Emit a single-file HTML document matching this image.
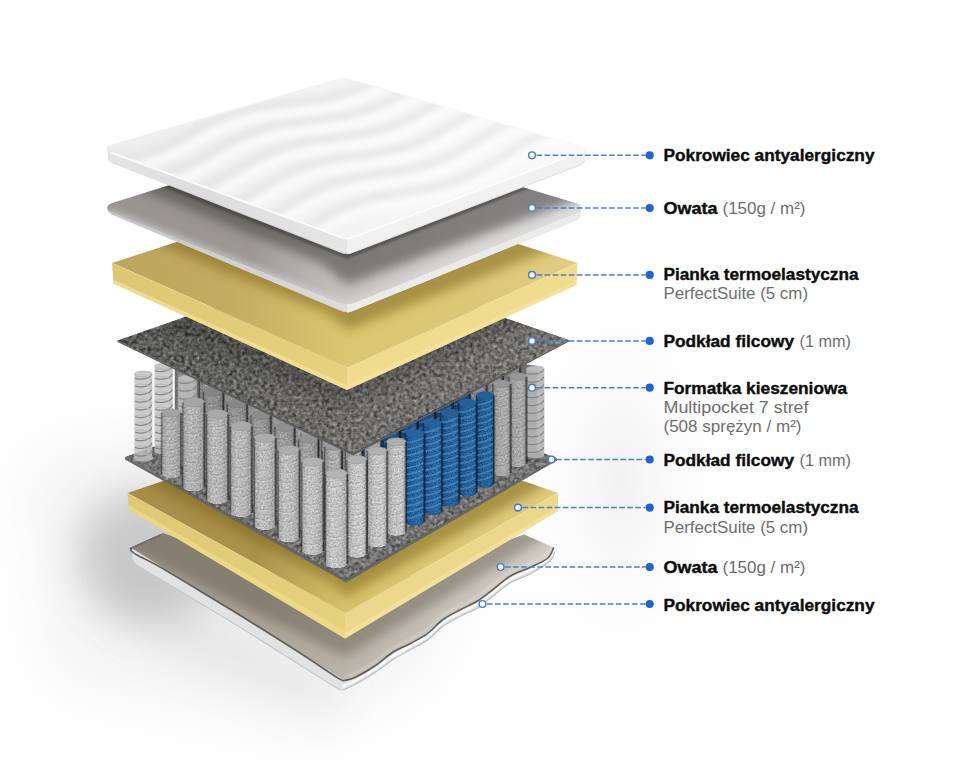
<!DOCTYPE html>
<html lang="pl"><head><meta charset="utf-8"><title>Budowa materaca</title>
<style>
html,body{margin:0;padding:0;background:#fff;}
body{width:960px;height:766px;overflow:hidden;font-family:"Liberation Sans",sans-serif;}
svg{display:block;}
.b{font-family:"Liberation Sans",sans-serif;font-weight:700;fill:#0d0d0d;stroke:#0d0d0d;stroke-width:0.4px;}
.l{font-family:"Liberation Sans",sans-serif;font-weight:400;fill:#6e6e6e;}
</style></head><body>
<svg width="960" height="766" viewBox="0 0 960 766">
<defs>
<filter id="felt" x="0" y="0" width="100%" height="100%" filterUnits="objectBoundingBox" color-interpolation-filters="sRGB">
 <feTurbulence type="fractalNoise" baseFrequency="0.27" numOctaves="2" seed="4" result="n"/>
 <feColorMatrix in="n" type="matrix" values="0.5 0.5 0 0 0  0.5 0.5 0 0 0  0.5 0.5 0 0 0  0 0 0 0 1" result="g0"/>
 <feGaussianBlur in="g0" stdDeviation="0.45" result="g"/>
 <feComposite in="SourceGraphic" in2="g" operator="arithmetic" k1="0" k2="1" k3="0.8" k4="-0.408" result="m"/>
 <feComposite in="m" in2="SourceGraphic" operator="in"/>
</filter>
<filter id="pocket" x="0" y="0" width="100%" height="100%" color-interpolation-filters="sRGB">
 <feTurbulence type="fractalNoise" baseFrequency="0.55" numOctaves="2" seed="9" result="n"/>
 <feColorMatrix in="n" type="matrix" values="0.5 0.5 0 0 0  0.5 0.5 0 0 0  0.5 0.5 0 0 0  0 0 0 0 1" result="g"/>
 <feComposite in="SourceGraphic" in2="g" operator="arithmetic" k1="0" k2="1" k3="0.5" k4="-0.255" result="m"/>
 <feComposite in="m" in2="SourceGraphic" operator="in"/>
</filter>
<filter id="pocketB" x="0" y="0" width="100%" height="100%" color-interpolation-filters="sRGB">
 <feTurbulence type="fractalNoise" baseFrequency="0.8" numOctaves="2" seed="5" result="n"/>
 <feColorMatrix in="n" type="matrix" values="0.5 0.5 0 0 0  0.5 0.5 0 0 0  0.5 0.5 0 0 0  0 0 0 0 1" result="g"/>
 <feComposite in="SourceGraphic" in2="g" operator="arithmetic" k1="0" k2="1" k3="0.45" k4="-0.23" result="m"/>
 <feComposite in="m" in2="SourceGraphic" operator="in"/>
</filter>
<filter id="soft" filterUnits="userSpaceOnUse" x="0" y="0" width="960" height="766"><feGaussianBlur stdDeviation="30"/></filter>
<filter id="soft3" filterUnits="userSpaceOnUse" x="0" y="0" width="960" height="766"><feGaussianBlur stdDeviation="20"/></filter>
<filter id="soft2" filterUnits="userSpaceOnUse" x="0" y="0" width="960" height="766"><feGaussianBlur stdDeviation="6"/></filter>
<filter id="b1" filterUnits="userSpaceOnUse" x="0" y="0" width="960" height="766"><feGaussianBlur stdDeviation="1.2"/></filter>
<filter id="b3" filterUnits="userSpaceOnUse" x="0" y="0" width="960" height="766"><feGaussianBlur stdDeviation="3.5"/></filter>
<filter id="b5" filterUnits="userSpaceOnUse" x="0" y="0" width="960" height="766"><feGaussianBlur stdDeviation="5.5"/></filter>
<filter id="b8" filterUnits="userSpaceOnUse" x="0" y="0" width="960" height="766"><feGaussianBlur stdDeviation="9"/></filter>

<linearGradient id="gSprL" x1="0" x2="1" y1="0" y2="0">
 <stop offset="0" stop-color="#aaaaaa"/><stop offset="0.3" stop-color="#c8c8c8"/><stop offset="0.7" stop-color="#c0c0c0"/><stop offset="1" stop-color="#a0a0a0"/>
</linearGradient>
<linearGradient id="gSprR" x1="0" x2="1" y1="0" y2="0">
 <stop offset="0" stop-color="#a4a4a4"/><stop offset="0.35" stop-color="#c8c8c8"/><stop offset="0.75" stop-color="#cecece"/><stop offset="1" stop-color="#a8a8a8"/>
</linearGradient>
<linearGradient id="gBlue" x1="0" x2="1" y1="0" y2="0">
 <stop offset="0" stop-color="#1a528c"/><stop offset="0.4" stop-color="#2868a6"/><stop offset="0.75" stop-color="#2c6fae"/><stop offset="1" stop-color="#1b568f"/>
</linearGradient>
<linearGradient id="gYTop" gradientUnits="userSpaceOnUse" x1="112" y1="0" x2="578" y2="0"><stop offset="0" stop-color="#bea55e"/><stop offset="0.25" stop-color="#c3ab60"/><stop offset="0.5" stop-color="#dbc670"/><stop offset="0.75" stop-color="#dcc777"/><stop offset="1" stop-color="#e1cc82"/></linearGradient>
<linearGradient id="gYTopL" gradientUnits="userSpaceOnUse" x1="127" y1="0" x2="558" y2="0"><stop offset="0" stop-color="#a68e48"/><stop offset="0.3" stop-color="#aa924b"/><stop offset="0.5" stop-color="#d6c16a"/><stop offset="0.75" stop-color="#dcc776"/><stop offset="1" stop-color="#e1cc80"/></linearGradient>
<linearGradient id="gYL" gradientUnits="userSpaceOnUse" x1="112" y1="0" x2="347" y2="0"><stop offset="0" stop-color="#dcc874"/><stop offset="1" stop-color="#e6d27e"/></linearGradient>
<linearGradient id="gCovL" gradientUnits="userSpaceOnUse" x1="108" y1="0" x2="347" y2="0"><stop offset="0" stop-color="#e4e4e4"/><stop offset="0.4" stop-color="#dddddd"/><stop offset="1" stop-color="#e6e6e6"/></linearGradient>
<linearGradient id="gCov" gradientUnits="userSpaceOnUse" x1="110" y1="0" x2="585" y2="0"><stop offset="0" stop-color="#ededed"/><stop offset="0.6" stop-color="#f5f5f5"/><stop offset="1" stop-color="#fafafa"/></linearGradient>
<linearGradient id="gOwTop" gradientUnits="userSpaceOnUse" x1="108" y1="0" x2="581" y2="0">
 <stop offset="0" stop-color="#989591"/><stop offset="0.3" stop-color="#9b9894"/><stop offset="0.5" stop-color="#c6c4c2"/><stop offset="0.76" stop-color="#d6d5d3"/><stop offset="1" stop-color="#e0dfdd"/></linearGradient>
<linearGradient id="gFeltU" gradientUnits="userSpaceOnUse" x1="118" y1="0" x2="569" y2="0"><stop offset="0" stop-color="#5a5a58"/><stop offset="0.5" stop-color="#706f6c"/><stop offset="1" stop-color="#767572"/></linearGradient>
<linearGradient id="gOwRim" gradientUnits="userSpaceOnUse" x1="108" y1="0" x2="347" y2="0"><stop offset="0" stop-color="#c4c4c4"/><stop offset="1" stop-color="#dcdcdc"/></linearGradient>
<linearGradient id="gOw2Top" gradientUnits="userSpaceOnUse" x1="130" y1="0" x2="555" y2="0">
 <stop offset="0" stop-color="#a8a195"/><stop offset="0.3" stop-color="#a8a195"/><stop offset="0.52" stop-color="#bbb4a9"/><stop offset="1" stop-color="#d2cdc6"/></linearGradient>
<radialGradient id="bgR" gradientUnits="userSpaceOnUse" cx="620" cy="480" r="230" gradientTransform="translate(620 480) scale(0.55 1) translate(-620 -480)">
 <stop offset="0" stop-color="#f1f1f1"/><stop offset="1" stop-color="#ffffff" stop-opacity="0"/></radialGradient>
<clipPath id="cCover"><path d="M107,149.5 L343,77.5 L585.5,148.5 L347,239 Z"/></clipPath>
</defs>
<rect width="960" height="766" fill="#ffffff"/>
<rect width="960" height="766" fill="url(#bgR)"/>

<path d="M25,460 L150,430 L200,520 L345,600 L470,590 L420,680 L320,735 L50,680 Z" fill="#cccccc" opacity="0.22" filter="url(#soft)"/>
<ellipse cx="150" cy="555" rx="72" ry="66" fill="#8c8c8c" opacity="0.40" filter="url(#soft3)"/>
<path d="M120,560 L200,600 L345,690 L330,715 L180,660 L110,610 Z" fill="#b8b8b8" opacity="0.2" filter="url(#soft3)"/>
<path d="M130.5,547.5 L554,547.5 L555.0,551.0 C554.2,552.7 554.2,557.2 550.0,561.0 C545.8,564.8 536.7,570.3 530.0,574.0 C523.3,577.7 516.2,579.2 510.0,583.0 C503.8,586.8 497.9,592.3 492.5,596.5 C487.1,600.7 482.9,604.7 477.5,608.0 C472.1,611.3 465.8,613.4 460.0,616.5 C454.2,619.6 447.9,622.6 442.5,626.5 C437.1,630.4 432.9,636.1 427.5,640.0 C422.1,643.9 415.8,646.7 410.0,650.0 C404.2,653.3 398.3,656.2 392.5,660.0 C386.7,663.8 381.2,668.4 375.0,672.5 C368.8,676.6 360.3,681.6 355.0,684.5 C349.7,687.4 345.0,689.1 343.0,690.0 L343.0,690.0 C341.7,689.5 342.2,691.2 335.0,687.0 C327.8,682.8 314.2,673.9 300.0,665.0 C285.8,656.1 266.7,643.8 250.0,633.5 C233.3,623.2 215.0,612.1 200.0,603.0 C185.0,593.9 170.3,585.2 160.0,579.0 C149.7,572.8 142.5,569.0 138.0,566.0 C133.5,563.0 134.2,563.7 133.0,561.0 C131.8,558.3 130.9,551.8 130.5,550.0 Z" fill="#e2e2e2"/>
<path d="M555.0,551.0 C554.2,552.7 554.2,557.2 550.0,561.0 C545.8,564.8 536.7,570.3 530.0,574.0 C523.3,577.7 516.2,579.2 510.0,583.0 C503.8,586.8 497.9,592.3 492.5,596.5 C487.1,600.7 482.9,604.7 477.5,608.0 C472.1,611.3 465.8,613.4 460.0,616.5 C454.2,619.6 447.9,622.6 442.5,626.5 C437.1,630.4 432.9,636.1 427.5,640.0 C422.1,643.9 415.8,646.7 410.0,650.0 C404.2,653.3 398.3,656.2 392.5,660.0 C386.7,663.8 381.2,668.4 375.0,672.5 C368.8,676.6 360.3,681.6 355.0,684.5 C349.7,687.4 345.0,689.1 343.0,690.0" fill="none" stroke="#bcbcbc" stroke-width="1.1"/>
<path d="M554.5,547.5 C553.7,549.2 553.7,553.7 549.5,557.5 C545.3,561.3 536.2,566.8 529.5,570.5 C522.8,574.2 515.8,575.8 509.5,579.5 C503.2,583.2 497.4,588.8 492.0,593.0 C486.6,597.2 482.4,601.2 477.0,604.5 C471.6,607.8 465.3,609.9 459.5,613.0 C453.7,616.1 447.4,619.1 442.0,623.0 C436.6,626.9 432.4,632.6 427.0,636.5 C421.6,640.4 415.3,643.2 409.5,646.5 C403.7,649.8 397.8,652.8 392.0,656.5 C386.2,660.2 380.8,664.9 374.5,669.0 C368.2,673.1 359.8,678.1 354.5,681.0 C349.2,683.9 344.5,685.6 342.5,686.5" fill="none" stroke="#ffffff" stroke-width="2.5" opacity="0.9"/>
<path d="M343.0,690.0 C341.7,689.5 342.2,691.2 335.0,687.0 C327.8,682.8 314.2,673.9 300.0,665.0 C285.8,656.1 266.7,643.8 250.0,633.5 C233.3,623.2 215.0,612.1 200.0,603.0 C185.0,593.9 170.3,585.2 160.0,579.0 C149.7,572.8 142.5,569.0 138.0,566.0 C133.5,563.0 134.2,563.7 133.0,561.0 C131.8,558.3 130.9,551.8 130.5,550.0" fill="none" stroke="#c6c6c6" stroke-width="1.1"/>
<path d="M130.5,547.5 L163,533 L345,600 L524,534.5 L553.8,547.5 C552.8,549.3 551.5,555.2 547.5,558.5 C543.5,561.8 536.2,564.5 530.0,567.5 C523.8,570.5 516.2,572.5 510.0,576.2 C503.8,580.0 497.9,585.9 492.5,590.0 C487.1,594.1 482.9,597.7 477.5,601.0 C472.1,604.3 465.8,606.8 460.0,610.0 C454.2,613.2 447.9,616.0 442.5,620.0 C437.1,624.0 432.9,629.8 427.5,633.7 C422.1,637.7 415.8,640.6 410.0,643.7 C404.2,646.8 398.3,648.8 392.5,652.5 C386.7,656.2 381.2,661.8 375.0,666.0 C368.8,670.2 360.0,675.1 355.0,677.5 C350.0,679.9 346.7,680.0 345.0,680.5 LC343.8,680.1 345.5,682.6 338.0,678.0 C330.5,673.4 314.7,662.4 300.0,653.0 C285.3,643.6 266.7,631.8 250.0,621.5 C233.3,611.2 215.0,600.1 200.0,591.0 C185.0,581.9 170.5,573.0 160.0,567.0 C149.5,561.0 141.8,557.7 137.0,555.0 C132.2,552.3 132.6,552.2 131.5,551.0 C130.4,549.8 130.7,548.1 130.5,547.5 Z" fill="url(#gOw2Top)"/>
<clipPath id="cs1"><path d="M130.5,547.5 L163,533 L345,600 L524,534.5 L553.8,547.5 C552.8,549.3 551.5,555.2 547.5,558.5 C543.5,561.8 536.2,564.5 530.0,567.5 C523.8,570.5 516.2,572.5 510.0,576.2 C503.8,580.0 497.9,585.9 492.5,590.0 C487.1,594.1 482.9,597.7 477.5,601.0 C472.1,604.3 465.8,606.8 460.0,610.0 C454.2,613.2 447.9,616.0 442.5,620.0 C437.1,624.0 432.9,629.8 427.5,633.7 C422.1,637.7 415.8,640.6 410.0,643.7 C404.2,646.8 398.3,648.8 392.5,652.5 C386.7,656.2 381.2,661.8 375.0,666.0 C368.8,670.2 360.0,675.1 355.0,677.5 C350.0,679.9 346.7,680.0 345.0,680.5 LC343.8,680.1 345.5,682.6 338.0,678.0 C330.5,673.4 314.7,662.4 300.0,653.0 C285.3,643.6 266.7,631.8 250.0,621.5 C233.3,611.2 215.0,600.1 200.0,591.0 C185.0,581.9 170.5,573.0 160.0,567.0 C149.5,561.0 141.8,557.7 137.0,555.0 C132.2,552.3 132.6,552.2 131.5,551.0 C130.4,549.8 130.7,548.1 130.5,547.5 Z"/></clipPath>
<g clip-path="url(#cs1)"><path d="M120.0,480.0 L345.0,600.0 L568.0,480.0 L568.0,524.0 L345.0,657.0 L120.0,545.0 Z" fill="#4a4030" opacity="0.36" filter="url(#b5)"/></g>
<path d="M551.8,544.3 C550.8,546.1 549.5,552.0 545.5,555.3 C541.5,558.6 534.2,561.3 528.0,564.3 C521.8,567.2 514.2,569.2 508.0,573.0 C501.8,576.8 495.9,582.7 490.5,586.8 C485.1,590.9 480.9,594.5 475.5,597.8 C470.1,601.1 463.8,603.6 458.0,606.8 C452.2,610.0 445.9,612.8 440.5,616.8 C435.1,620.8 430.9,626.5 425.5,630.5 C420.1,634.5 413.8,637.4 408.0,640.5 C402.2,643.6 396.3,645.6 390.5,649.3 C384.7,653.0 379.2,658.6 373.0,662.8 C366.8,667.0 358.0,671.9 353.0,674.3 C348.0,676.7 344.7,676.8 343.0,677.3" fill="none" stroke="#e6e3de" stroke-width="2.5" opacity="0.45" filter="url(#b1)"/>
<path d="M553.8,547.5 C552.8,549.3 551.5,555.2 547.5,558.5 C543.5,561.8 536.2,564.5 530.0,567.5 C523.8,570.5 516.2,572.5 510.0,576.2 C503.8,580.0 497.9,585.9 492.5,590.0 C487.1,594.1 482.9,597.7 477.5,601.0 C472.1,604.3 465.8,606.8 460.0,610.0 C454.2,613.2 447.9,616.0 442.5,620.0 C437.1,624.0 432.9,629.8 427.5,633.7 C422.1,637.7 415.8,640.6 410.0,643.7 C404.2,646.8 398.3,648.8 392.5,652.5 C386.7,656.2 381.2,661.8 375.0,666.0 C368.8,670.2 360.0,675.1 355.0,677.5 C350.0,679.9 346.7,680.0 345.0,680.5" fill="none" stroke="#4f4b45" stroke-width="1.6" opacity="0.85"/>
<path d="M345.0,680.5 C343.8,680.1 345.5,682.6 338.0,678.0 C330.5,673.4 314.7,662.4 300.0,653.0 C285.3,643.6 266.7,631.8 250.0,621.5 C233.3,611.2 215.0,600.1 200.0,591.0 C185.0,581.9 170.5,573.0 160.0,567.0 C149.5,561.0 141.8,557.7 137.0,555.0 C132.2,552.3 132.6,552.2 131.5,551.0 C130.4,549.8 130.7,548.1 130.5,547.5" fill="none" stroke="#4f4b45" stroke-width="1.7" opacity="0.85"/>
<path d="M131,548.5 L161,535" stroke="#6a665f" stroke-width="2.2" stroke-dasharray="1.4,1" fill="none"/>
<path d="M127.5,493.0 L345.0,420.0 L558.0,493.0 L345.0,613.0 Z" fill="url(#gYTopL)"/>
<path d="M127.5,493.0 L345.0,613.0 L345.0,638.5 L129.0,510.0 Z" fill="url(#gYL)"/>
<path d="M345.0,613.0 L558.0,493.0 L558.0,511.0 L345.0,638.5 Z" fill="#ecd88a"/>
<path d="M345.0,633.0 L558.0,506.5 L558.0,511.0 L345.0,638.5 Z" fill="#f3e4a0" opacity="0.8"/>
<path d="M127.5,493 L345,613 L558,493" fill="none" stroke="#f3e6a4" stroke-width="1" opacity="0.35"/>
<path d="M129.0,505.0 L345.0,631.0 L345.0,638.5 L129.0,510.0 Z" fill="#f0dd8c" opacity="0.7"/>
<clipPath id="cs2"><path d="M127.5,493.0 L345.0,420.0 L558.0,493.0 L345.0,613.0 Z"/></clipPath>
<g clip-path="url(#cs2)"><path d="M115.0,430.0 L346.0,540.0 L567.0,430.0 L567.0,473.0 L346.0,597.0 L330.0,583.0 L115.0,465.0 Z" fill="#7d661c" opacity="0.55" filter="url(#b5)"/></g>
<path d="M125.0,457.0 L346.0,579.0 L557.0,458.0 L557.0,460.5 L346.0,582.5 L125.0,459.5 Z" fill="#666666"/>
<path d="M125.0,457.0 L340.0,380.0 L557.0,458.0 L346.0,579.0 Z" fill="#747474" filter="url(#felt)"/>
<path d="M177.0,366.0 L353.0,450.0 L524.0,364.0 L537.0,366.0 L537.0,452.0 L346.0,560.0 L177.0,464.0 Z" fill="#6f6f6f"/>
<g opacity="1.0"><path d="M175.4,356.9 L175.4,440.4 A10.0,4.2 0 0 0 195.4,440.4 L195.4,356.9 A10.0,4.2 0 0 0 175.4,356.9 Z" fill="url(#gSprL)" filter="url(#pocket)"/><path d="M175.9,367.7 Q185.4,371.9 194.9,365.2" stroke="#7d7d7d" stroke-width="1.1" fill="none" opacity="0.22"/><path d="M175.9,369.2 Q185.4,373.4 194.9,366.7" stroke="#ffffff" stroke-width="1" fill="none" opacity="0.22"/><path d="M175.9,377.0 Q185.4,381.2 194.9,374.5" stroke="#7d7d7d" stroke-width="1.1" fill="none" opacity="0.22"/><path d="M175.9,378.5 Q185.4,382.7 194.9,376.0" stroke="#ffffff" stroke-width="1" fill="none" opacity="0.22"/><path d="M175.9,386.2 Q185.4,390.4 194.9,383.7" stroke="#7d7d7d" stroke-width="1.1" fill="none" opacity="0.22"/><path d="M175.9,387.7 Q185.4,391.9 194.9,385.2" stroke="#ffffff" stroke-width="1" fill="none" opacity="0.22"/><path d="M175.9,395.5 Q185.4,399.7 194.9,393.0" stroke="#7d7d7d" stroke-width="1.1" fill="none" opacity="0.22"/><path d="M175.9,397.0 Q185.4,401.2 194.9,394.5" stroke="#ffffff" stroke-width="1" fill="none" opacity="0.22"/><path d="M175.9,404.8 Q185.4,409.0 194.9,402.3" stroke="#7d7d7d" stroke-width="1.1" fill="none" opacity="0.22"/><path d="M175.9,406.3 Q185.4,410.5 194.9,403.8" stroke="#ffffff" stroke-width="1" fill="none" opacity="0.22"/><path d="M175.9,414.1 Q185.4,418.3 194.9,411.6" stroke="#7d7d7d" stroke-width="1.1" fill="none" opacity="0.22"/><path d="M175.9,415.6 Q185.4,419.8 194.9,413.1" stroke="#ffffff" stroke-width="1" fill="none" opacity="0.22"/><path d="M175.9,423.3 Q185.4,427.5 194.9,420.8" stroke="#7d7d7d" stroke-width="1.1" fill="none" opacity="0.22"/><path d="M175.9,424.8 Q185.4,429.0 194.9,422.3" stroke="#ffffff" stroke-width="1" fill="none" opacity="0.22"/><path d="M175.9,432.6 Q185.4,436.8 194.9,430.1" stroke="#7d7d7d" stroke-width="1.1" fill="none" opacity="0.22"/><path d="M175.9,434.1 Q185.4,438.3 194.9,431.6" stroke="#ffffff" stroke-width="1" fill="none" opacity="0.22"/><ellipse cx="185.4" cy="356.9" rx="10.0" ry="4.2" fill="#b4b4b4" stroke="#9a9a9a" stroke-width="0.6"/><path d="M195.4,356.9 L195.4,440.4" stroke="#000" stroke-width="2.4" opacity="0.38"/><path d="M175.4,356.9 L175.4,440.4" stroke="#000" stroke-width="1.8" opacity="0.28"/><path d="M175.4,356.9 L175.4,440.4 A10.0,4.2 0 0 0 195.4,440.4 L195.4,356.9 A10.0,4.2 0 0 0 175.4,356.9 Z" fill="#000" opacity="0.30"/></g>
<g opacity="1.0"><path d="M199.2,368.8 L199.2,453.1 A10.0,4.2 0 0 0 219.2,453.1 L219.2,368.8 A10.0,4.2 0 0 0 199.2,368.8 Z" fill="url(#gSprL)" filter="url(#pocket)"/><path d="M199.7,379.7 Q209.2,383.9 218.7,377.2" stroke="#7d7d7d" stroke-width="1.1" fill="none" opacity="0.22"/><path d="M199.7,381.2 Q209.2,385.4 218.7,378.7" stroke="#ffffff" stroke-width="1" fill="none" opacity="0.22"/><path d="M199.7,389.0 Q209.2,393.2 218.7,386.5" stroke="#7d7d7d" stroke-width="1.1" fill="none" opacity="0.22"/><path d="M199.7,390.5 Q209.2,394.7 218.7,388.0" stroke="#ffffff" stroke-width="1" fill="none" opacity="0.22"/><path d="M199.7,398.4 Q209.2,402.6 218.7,395.9" stroke="#7d7d7d" stroke-width="1.1" fill="none" opacity="0.22"/><path d="M199.7,399.9 Q209.2,404.1 218.7,397.4" stroke="#ffffff" stroke-width="1" fill="none" opacity="0.22"/><path d="M199.7,407.8 Q209.2,412.0 218.7,405.3" stroke="#7d7d7d" stroke-width="1.1" fill="none" opacity="0.22"/><path d="M199.7,409.3 Q209.2,413.5 218.7,406.8" stroke="#ffffff" stroke-width="1" fill="none" opacity="0.22"/><path d="M199.7,417.2 Q209.2,421.4 218.7,414.7" stroke="#7d7d7d" stroke-width="1.1" fill="none" opacity="0.22"/><path d="M199.7,418.7 Q209.2,422.9 218.7,416.2" stroke="#ffffff" stroke-width="1" fill="none" opacity="0.22"/><path d="M199.7,426.5 Q209.2,430.7 218.7,424.0" stroke="#7d7d7d" stroke-width="1.1" fill="none" opacity="0.22"/><path d="M199.7,428.0 Q209.2,432.2 218.7,425.5" stroke="#ffffff" stroke-width="1" fill="none" opacity="0.22"/><path d="M199.7,435.9 Q209.2,440.1 218.7,433.4" stroke="#7d7d7d" stroke-width="1.1" fill="none" opacity="0.22"/><path d="M199.7,437.4 Q209.2,441.6 218.7,434.9" stroke="#ffffff" stroke-width="1" fill="none" opacity="0.22"/><path d="M199.7,445.3 Q209.2,449.5 218.7,442.8" stroke="#7d7d7d" stroke-width="1.1" fill="none" opacity="0.22"/><path d="M199.7,446.8 Q209.2,451.0 218.7,444.3" stroke="#ffffff" stroke-width="1" fill="none" opacity="0.22"/><ellipse cx="209.2" cy="368.8" rx="10.0" ry="4.2" fill="#b4b4b4" stroke="#9a9a9a" stroke-width="0.6"/><path d="M219.2,368.8 L219.2,453.1" stroke="#000" stroke-width="2.4" opacity="0.38"/><path d="M199.2,368.8 L199.2,453.1" stroke="#000" stroke-width="1.8" opacity="0.28"/><path d="M199.2,368.8 L199.2,453.1 A10.0,4.2 0 0 0 219.2,453.1 L219.2,368.8 A10.0,4.2 0 0 0 199.2,368.8 Z" fill="#000" opacity="0.28"/></g>
<g opacity="1.0"><path d="M223.0,380.7 L223.0,465.9 A10.0,4.2 0 0 0 243.0,465.9 L243.0,380.7 A10.0,4.2 0 0 0 223.0,380.7 Z" fill="url(#gSprL)" filter="url(#pocket)"/><path d="M223.5,391.7 Q233.0,395.9 242.5,389.2" stroke="#7d7d7d" stroke-width="1.1" fill="none" opacity="0.22"/><path d="M223.5,393.2 Q233.0,397.4 242.5,390.7" stroke="#ffffff" stroke-width="1" fill="none" opacity="0.22"/><path d="M223.5,401.1 Q233.0,405.3 242.5,398.6" stroke="#7d7d7d" stroke-width="1.1" fill="none" opacity="0.22"/><path d="M223.5,402.6 Q233.0,406.8 242.5,400.1" stroke="#ffffff" stroke-width="1" fill="none" opacity="0.22"/><path d="M223.5,410.6 Q233.0,414.8 242.5,408.1" stroke="#7d7d7d" stroke-width="1.1" fill="none" opacity="0.22"/><path d="M223.5,412.1 Q233.0,416.3 242.5,409.6" stroke="#ffffff" stroke-width="1" fill="none" opacity="0.22"/><path d="M223.5,420.1 Q233.0,424.3 242.5,417.6" stroke="#7d7d7d" stroke-width="1.1" fill="none" opacity="0.22"/><path d="M223.5,421.6 Q233.0,425.8 242.5,419.1" stroke="#ffffff" stroke-width="1" fill="none" opacity="0.22"/><path d="M223.5,429.5 Q233.0,433.7 242.5,427.0" stroke="#7d7d7d" stroke-width="1.1" fill="none" opacity="0.22"/><path d="M223.5,431.0 Q233.0,435.2 242.5,428.5" stroke="#ffffff" stroke-width="1" fill="none" opacity="0.22"/><path d="M223.5,439.0 Q233.0,443.2 242.5,436.5" stroke="#7d7d7d" stroke-width="1.1" fill="none" opacity="0.22"/><path d="M223.5,440.5 Q233.0,444.7 242.5,438.0" stroke="#ffffff" stroke-width="1" fill="none" opacity="0.22"/><path d="M223.5,448.5 Q233.0,452.7 242.5,446.0" stroke="#7d7d7d" stroke-width="1.1" fill="none" opacity="0.22"/><path d="M223.5,450.0 Q233.0,454.2 242.5,447.5" stroke="#ffffff" stroke-width="1" fill="none" opacity="0.22"/><path d="M223.5,457.9 Q233.0,462.1 242.5,455.4" stroke="#7d7d7d" stroke-width="1.1" fill="none" opacity="0.22"/><path d="M223.5,459.4 Q233.0,463.6 242.5,456.9" stroke="#ffffff" stroke-width="1" fill="none" opacity="0.22"/><ellipse cx="233.0" cy="380.7" rx="10.0" ry="4.2" fill="#b4b4b4" stroke="#9a9a9a" stroke-width="0.6"/><path d="M243.0,380.7 L243.0,465.9" stroke="#000" stroke-width="2.4" opacity="0.38"/><path d="M223.0,380.7 L223.0,465.9" stroke="#000" stroke-width="1.8" opacity="0.28"/><path d="M223.0,380.7 L223.0,465.9 A10.0,4.2 0 0 0 243.0,465.9 L243.0,380.7 A10.0,4.2 0 0 0 223.0,380.7 Z" fill="#000" opacity="0.26"/></g>
<g opacity="1.0"><path d="M246.8,392.6 L246.8,478.6 A10.0,4.2 0 0 0 266.8,478.6 L266.8,392.6 A10.0,4.2 0 0 0 246.8,392.6 Z" fill="url(#gSprL)" filter="url(#pocket)"/><path d="M247.3,403.7 Q256.8,407.9 266.3,401.2" stroke="#7d7d7d" stroke-width="1.1" fill="none" opacity="0.22"/><path d="M247.3,405.2 Q256.8,409.4 266.3,402.7" stroke="#ffffff" stroke-width="1" fill="none" opacity="0.22"/><path d="M247.3,413.2 Q256.8,417.4 266.3,410.7" stroke="#7d7d7d" stroke-width="1.1" fill="none" opacity="0.22"/><path d="M247.3,414.7 Q256.8,418.9 266.3,412.2" stroke="#ffffff" stroke-width="1" fill="none" opacity="0.22"/><path d="M247.3,422.8 Q256.8,427.0 266.3,420.3" stroke="#7d7d7d" stroke-width="1.1" fill="none" opacity="0.22"/><path d="M247.3,424.3 Q256.8,428.5 266.3,421.8" stroke="#ffffff" stroke-width="1" fill="none" opacity="0.22"/><path d="M247.3,432.3 Q256.8,436.5 266.3,429.8" stroke="#7d7d7d" stroke-width="1.1" fill="none" opacity="0.22"/><path d="M247.3,433.8 Q256.8,438.0 266.3,431.3" stroke="#ffffff" stroke-width="1" fill="none" opacity="0.22"/><path d="M247.3,441.9 Q256.8,446.1 266.3,439.4" stroke="#7d7d7d" stroke-width="1.1" fill="none" opacity="0.22"/><path d="M247.3,443.4 Q256.8,447.6 266.3,440.9" stroke="#ffffff" stroke-width="1" fill="none" opacity="0.22"/><path d="M247.3,451.5 Q256.8,455.7 266.3,449.0" stroke="#7d7d7d" stroke-width="1.1" fill="none" opacity="0.22"/><path d="M247.3,453.0 Q256.8,457.2 266.3,450.5" stroke="#ffffff" stroke-width="1" fill="none" opacity="0.22"/><path d="M247.3,461.0 Q256.8,465.2 266.3,458.5" stroke="#7d7d7d" stroke-width="1.1" fill="none" opacity="0.22"/><path d="M247.3,462.5 Q256.8,466.7 266.3,460.0" stroke="#ffffff" stroke-width="1" fill="none" opacity="0.22"/><path d="M247.3,470.6 Q256.8,474.8 266.3,468.1" stroke="#7d7d7d" stroke-width="1.1" fill="none" opacity="0.22"/><path d="M247.3,472.1 Q256.8,476.3 266.3,469.6" stroke="#ffffff" stroke-width="1" fill="none" opacity="0.22"/><ellipse cx="256.8" cy="392.6" rx="10.0" ry="4.2" fill="#b4b4b4" stroke="#9a9a9a" stroke-width="0.6"/><path d="M266.8,392.6 L266.8,478.6" stroke="#000" stroke-width="2.4" opacity="0.38"/><path d="M246.8,392.6 L246.8,478.6" stroke="#000" stroke-width="1.8" opacity="0.28"/><path d="M246.8,392.6 L246.8,478.6 A10.0,4.2 0 0 0 266.8,478.6 L266.8,392.6 A10.0,4.2 0 0 0 246.8,392.6 Z" fill="#000" opacity="0.24"/></g>
<g opacity="1.0"><path d="M270.6,404.5 L270.6,491.4 A10.0,4.2 0 0 0 290.6,491.4 L290.6,404.5 A10.0,4.2 0 0 0 270.6,404.5 Z" fill="url(#gSprL)" filter="url(#pocket)"/><path d="M271.1,415.7 Q280.6,419.9 290.1,413.2" stroke="#7d7d7d" stroke-width="1.1" fill="none" opacity="0.22"/><path d="M271.1,417.2 Q280.6,421.4 290.1,414.7" stroke="#ffffff" stroke-width="1" fill="none" opacity="0.22"/><path d="M271.1,425.3 Q280.6,429.5 290.1,422.8" stroke="#7d7d7d" stroke-width="1.1" fill="none" opacity="0.22"/><path d="M271.1,426.8 Q280.6,431.0 290.1,424.3" stroke="#ffffff" stroke-width="1" fill="none" opacity="0.22"/><path d="M271.1,435.0 Q280.6,439.2 290.1,432.5" stroke="#7d7d7d" stroke-width="1.1" fill="none" opacity="0.22"/><path d="M271.1,436.5 Q280.6,440.7 290.1,434.0" stroke="#ffffff" stroke-width="1" fill="none" opacity="0.22"/><path d="M271.1,444.6 Q280.6,448.8 290.1,442.1" stroke="#7d7d7d" stroke-width="1.1" fill="none" opacity="0.22"/><path d="M271.1,446.1 Q280.6,450.3 290.1,443.6" stroke="#ffffff" stroke-width="1" fill="none" opacity="0.22"/><path d="M271.1,454.3 Q280.6,458.5 290.1,451.8" stroke="#7d7d7d" stroke-width="1.1" fill="none" opacity="0.22"/><path d="M271.1,455.8 Q280.6,460.0 290.1,453.3" stroke="#ffffff" stroke-width="1" fill="none" opacity="0.22"/><path d="M271.1,463.9 Q280.6,468.1 290.1,461.4" stroke="#7d7d7d" stroke-width="1.1" fill="none" opacity="0.22"/><path d="M271.1,465.4 Q280.6,469.6 290.1,462.9" stroke="#ffffff" stroke-width="1" fill="none" opacity="0.22"/><path d="M271.1,473.6 Q280.6,477.8 290.1,471.1" stroke="#7d7d7d" stroke-width="1.1" fill="none" opacity="0.22"/><path d="M271.1,475.1 Q280.6,479.3 290.1,472.6" stroke="#ffffff" stroke-width="1" fill="none" opacity="0.22"/><path d="M271.1,483.2 Q280.6,487.4 290.1,480.7" stroke="#7d7d7d" stroke-width="1.1" fill="none" opacity="0.22"/><path d="M271.1,484.7 Q280.6,488.9 290.1,482.2" stroke="#ffffff" stroke-width="1" fill="none" opacity="0.22"/><ellipse cx="280.6" cy="404.5" rx="10.0" ry="4.2" fill="#b4b4b4" stroke="#9a9a9a" stroke-width="0.6"/><path d="M290.6,404.5 L290.6,491.4" stroke="#000" stroke-width="2.4" opacity="0.38"/><path d="M270.6,404.5 L270.6,491.4" stroke="#000" stroke-width="1.8" opacity="0.28"/><path d="M270.6,404.5 L270.6,491.4 A10.0,4.2 0 0 0 290.6,491.4 L290.6,404.5 A10.0,4.2 0 0 0 270.6,404.5 Z" fill="#000" opacity="0.22"/></g>
<g opacity="1.0"><path d="M294.4,416.4 L294.4,504.1 A10.0,4.2 0 0 0 314.4,504.1 L314.4,416.4 A10.0,4.2 0 0 0 294.4,416.4 Z" fill="url(#gSprL)" filter="url(#pocket)"/><path d="M294.9,427.6 Q304.4,431.8 313.9,425.1" stroke="#7d7d7d" stroke-width="1.1" fill="none" opacity="0.22"/><path d="M294.9,429.1 Q304.4,433.3 313.9,426.6" stroke="#ffffff" stroke-width="1" fill="none" opacity="0.22"/><path d="M294.9,437.4 Q304.4,441.6 313.9,434.9" stroke="#7d7d7d" stroke-width="1.1" fill="none" opacity="0.22"/><path d="M294.9,438.9 Q304.4,443.1 313.9,436.4" stroke="#ffffff" stroke-width="1" fill="none" opacity="0.22"/><path d="M294.9,447.1 Q304.4,451.3 313.9,444.6" stroke="#7d7d7d" stroke-width="1.1" fill="none" opacity="0.22"/><path d="M294.9,448.6 Q304.4,452.8 313.9,446.1" stroke="#ffffff" stroke-width="1" fill="none" opacity="0.22"/><path d="M294.9,456.9 Q304.4,461.1 313.9,454.4" stroke="#7d7d7d" stroke-width="1.1" fill="none" opacity="0.22"/><path d="M294.9,458.4 Q304.4,462.6 313.9,455.9" stroke="#ffffff" stroke-width="1" fill="none" opacity="0.22"/><path d="M294.9,466.6 Q304.4,470.8 313.9,464.1" stroke="#7d7d7d" stroke-width="1.1" fill="none" opacity="0.22"/><path d="M294.9,468.1 Q304.4,472.3 313.9,465.6" stroke="#ffffff" stroke-width="1" fill="none" opacity="0.22"/><path d="M294.9,476.4 Q304.4,480.6 313.9,473.9" stroke="#7d7d7d" stroke-width="1.1" fill="none" opacity="0.22"/><path d="M294.9,477.9 Q304.4,482.1 313.9,475.4" stroke="#ffffff" stroke-width="1" fill="none" opacity="0.22"/><path d="M294.9,486.1 Q304.4,490.3 313.9,483.6" stroke="#7d7d7d" stroke-width="1.1" fill="none" opacity="0.22"/><path d="M294.9,487.6 Q304.4,491.8 313.9,485.1" stroke="#ffffff" stroke-width="1" fill="none" opacity="0.22"/><path d="M294.9,495.9 Q304.4,500.1 313.9,493.4" stroke="#7d7d7d" stroke-width="1.1" fill="none" opacity="0.22"/><path d="M294.9,497.4 Q304.4,501.6 313.9,494.9" stroke="#ffffff" stroke-width="1" fill="none" opacity="0.22"/><ellipse cx="304.4" cy="416.4" rx="10.0" ry="4.2" fill="#b4b4b4" stroke="#9a9a9a" stroke-width="0.6"/><path d="M314.4,416.4 L314.4,504.1" stroke="#000" stroke-width="2.4" opacity="0.38"/><path d="M294.4,416.4 L294.4,504.1" stroke="#000" stroke-width="1.8" opacity="0.28"/><path d="M294.4,416.4 L294.4,504.1 A10.0,4.2 0 0 0 314.4,504.1 L314.4,416.4 A10.0,4.2 0 0 0 294.4,416.4 Z" fill="#000" opacity="0.20"/></g>
<g opacity="1.0"><path d="M318.2,428.3 L318.2,516.9 A10.0,4.2 0 0 0 338.2,516.9 L338.2,428.3 A10.0,4.2 0 0 0 318.2,428.3 Z" fill="url(#gSprL)" filter="url(#pocket)"/><path d="M318.7,439.6 Q328.2,443.8 337.7,437.1" stroke="#7d7d7d" stroke-width="1.1" fill="none" opacity="0.22"/><path d="M318.7,441.1 Q328.2,445.3 337.7,438.6" stroke="#ffffff" stroke-width="1" fill="none" opacity="0.22"/><path d="M318.7,449.5 Q328.2,453.7 337.7,447.0" stroke="#7d7d7d" stroke-width="1.1" fill="none" opacity="0.22"/><path d="M318.7,451.0 Q328.2,455.2 337.7,448.5" stroke="#ffffff" stroke-width="1" fill="none" opacity="0.22"/><path d="M318.7,459.3 Q328.2,463.5 337.7,456.8" stroke="#7d7d7d" stroke-width="1.1" fill="none" opacity="0.22"/><path d="M318.7,460.8 Q328.2,465.0 337.7,458.3" stroke="#ffffff" stroke-width="1" fill="none" opacity="0.22"/><path d="M318.7,469.2 Q328.2,473.4 337.7,466.7" stroke="#7d7d7d" stroke-width="1.1" fill="none" opacity="0.22"/><path d="M318.7,470.7 Q328.2,474.9 337.7,468.2" stroke="#ffffff" stroke-width="1" fill="none" opacity="0.22"/><path d="M318.7,479.0 Q328.2,483.2 337.7,476.5" stroke="#7d7d7d" stroke-width="1.1" fill="none" opacity="0.22"/><path d="M318.7,480.5 Q328.2,484.7 337.7,478.0" stroke="#ffffff" stroke-width="1" fill="none" opacity="0.22"/><path d="M318.7,488.9 Q328.2,493.1 337.7,486.4" stroke="#7d7d7d" stroke-width="1.1" fill="none" opacity="0.22"/><path d="M318.7,490.4 Q328.2,494.6 337.7,487.9" stroke="#ffffff" stroke-width="1" fill="none" opacity="0.22"/><path d="M318.7,498.7 Q328.2,502.9 337.7,496.2" stroke="#7d7d7d" stroke-width="1.1" fill="none" opacity="0.22"/><path d="M318.7,500.2 Q328.2,504.4 337.7,497.7" stroke="#ffffff" stroke-width="1" fill="none" opacity="0.22"/><path d="M318.7,508.6 Q328.2,512.8 337.7,506.1" stroke="#7d7d7d" stroke-width="1.1" fill="none" opacity="0.22"/><path d="M318.7,510.1 Q328.2,514.3 337.7,507.6" stroke="#ffffff" stroke-width="1" fill="none" opacity="0.22"/><ellipse cx="328.2" cy="428.3" rx="10.0" ry="4.2" fill="#b4b4b4" stroke="#9a9a9a" stroke-width="0.6"/><path d="M338.2,428.3 L338.2,516.9" stroke="#000" stroke-width="2.4" opacity="0.38"/><path d="M318.2,428.3 L318.2,516.9" stroke="#000" stroke-width="1.8" opacity="0.28"/><path d="M318.2,428.3 L318.2,516.9 A10.0,4.2 0 0 0 338.2,516.9 L338.2,428.3 A10.0,4.2 0 0 0 318.2,428.3 Z" fill="#000" opacity="0.18"/></g>
<g opacity="1.0"><path d="M342.0,440.2 L342.0,529.6 A10.0,4.2 0 0 0 362.0,529.6 L362.0,440.2 A10.0,4.2 0 0 0 342.0,440.2 Z" fill="url(#gSprL)" filter="url(#pocket)"/><path d="M342.5,451.6 Q352.0,455.8 361.5,449.1" stroke="#7d7d7d" stroke-width="1.1" fill="none" opacity="0.22"/><path d="M342.5,453.1 Q352.0,457.3 361.5,450.6" stroke="#ffffff" stroke-width="1" fill="none" opacity="0.22"/><path d="M342.5,461.6 Q352.0,465.8 361.5,459.1" stroke="#7d7d7d" stroke-width="1.1" fill="none" opacity="0.22"/><path d="M342.5,463.1 Q352.0,467.3 361.5,460.6" stroke="#ffffff" stroke-width="1" fill="none" opacity="0.22"/><path d="M342.5,471.5 Q352.0,475.7 361.5,469.0" stroke="#7d7d7d" stroke-width="1.1" fill="none" opacity="0.22"/><path d="M342.5,473.0 Q352.0,477.2 361.5,470.5" stroke="#ffffff" stroke-width="1" fill="none" opacity="0.22"/><path d="M342.5,481.5 Q352.0,485.7 361.5,479.0" stroke="#7d7d7d" stroke-width="1.1" fill="none" opacity="0.22"/><path d="M342.5,483.0 Q352.0,487.2 361.5,480.5" stroke="#ffffff" stroke-width="1" fill="none" opacity="0.22"/><path d="M342.5,491.4 Q352.0,495.6 361.5,488.9" stroke="#7d7d7d" stroke-width="1.1" fill="none" opacity="0.22"/><path d="M342.5,492.9 Q352.0,497.1 361.5,490.4" stroke="#ffffff" stroke-width="1" fill="none" opacity="0.22"/><path d="M342.5,501.3 Q352.0,505.5 361.5,498.8" stroke="#7d7d7d" stroke-width="1.1" fill="none" opacity="0.22"/><path d="M342.5,502.8 Q352.0,507.0 361.5,500.3" stroke="#ffffff" stroke-width="1" fill="none" opacity="0.22"/><path d="M342.5,511.3 Q352.0,515.5 361.5,508.8" stroke="#7d7d7d" stroke-width="1.1" fill="none" opacity="0.22"/><path d="M342.5,512.8 Q352.0,517.0 361.5,510.3" stroke="#ffffff" stroke-width="1" fill="none" opacity="0.22"/><path d="M342.5,521.2 Q352.0,525.4 361.5,518.7" stroke="#7d7d7d" stroke-width="1.1" fill="none" opacity="0.22"/><path d="M342.5,522.7 Q352.0,526.9 361.5,520.2" stroke="#ffffff" stroke-width="1" fill="none" opacity="0.22"/><ellipse cx="352.0" cy="440.2" rx="10.0" ry="4.2" fill="#b4b4b4" stroke="#9a9a9a" stroke-width="0.6"/><path d="M362.0,440.2 L362.0,529.6" stroke="#000" stroke-width="2.4" opacity="0.38"/><path d="M342.0,440.2 L342.0,529.6" stroke="#000" stroke-width="1.8" opacity="0.28"/><path d="M342.0,440.2 L342.0,529.6 A10.0,4.2 0 0 0 362.0,529.6 L362.0,440.2 A10.0,4.2 0 0 0 342.0,440.2 Z" fill="#000" opacity="0.16"/></g>
<g opacity="1.0"><path d="M365.8,452.1 L365.8,542.4 A10.0,4.2 0 0 0 385.8,542.4 L385.8,452.1 A10.0,4.2 0 0 0 365.8,452.1 Z" fill="url(#gSprL)" filter="url(#pocket)"/><path d="M366.3,463.6 Q375.8,467.8 385.3,461.1" stroke="#7d7d7d" stroke-width="1.1" fill="none" opacity="0.22"/><path d="M366.3,465.1 Q375.8,469.3 385.3,462.6" stroke="#ffffff" stroke-width="1" fill="none" opacity="0.22"/><path d="M366.3,473.7 Q375.8,477.9 385.3,471.2" stroke="#7d7d7d" stroke-width="1.1" fill="none" opacity="0.22"/><path d="M366.3,475.2 Q375.8,479.4 385.3,472.7" stroke="#ffffff" stroke-width="1" fill="none" opacity="0.22"/><path d="M366.3,483.7 Q375.8,487.9 385.3,481.2" stroke="#7d7d7d" stroke-width="1.1" fill="none" opacity="0.22"/><path d="M366.3,485.2 Q375.8,489.4 385.3,482.7" stroke="#ffffff" stroke-width="1" fill="none" opacity="0.22"/><path d="M366.3,493.7 Q375.8,497.9 385.3,491.2" stroke="#7d7d7d" stroke-width="1.1" fill="none" opacity="0.22"/><path d="M366.3,495.2 Q375.8,499.4 385.3,492.7" stroke="#ffffff" stroke-width="1" fill="none" opacity="0.22"/><path d="M366.3,503.8 Q375.8,508.0 385.3,501.3" stroke="#7d7d7d" stroke-width="1.1" fill="none" opacity="0.22"/><path d="M366.3,505.3 Q375.8,509.5 385.3,502.8" stroke="#ffffff" stroke-width="1" fill="none" opacity="0.22"/><path d="M366.3,513.8 Q375.8,518.0 385.3,511.3" stroke="#7d7d7d" stroke-width="1.1" fill="none" opacity="0.22"/><path d="M366.3,515.3 Q375.8,519.5 385.3,512.8" stroke="#ffffff" stroke-width="1" fill="none" opacity="0.22"/><path d="M366.3,523.8 Q375.8,528.0 385.3,521.3" stroke="#7d7d7d" stroke-width="1.1" fill="none" opacity="0.22"/><path d="M366.3,525.3 Q375.8,529.5 385.3,522.8" stroke="#ffffff" stroke-width="1" fill="none" opacity="0.22"/><path d="M366.3,533.9 Q375.8,538.1 385.3,531.4" stroke="#7d7d7d" stroke-width="1.1" fill="none" opacity="0.22"/><path d="M366.3,535.4 Q375.8,539.6 385.3,532.9" stroke="#ffffff" stroke-width="1" fill="none" opacity="0.22"/><ellipse cx="375.8" cy="452.1" rx="10.0" ry="4.2" fill="#b4b4b4" stroke="#9a9a9a" stroke-width="0.6"/><path d="M385.8,452.1 L385.8,542.4" stroke="#000" stroke-width="2.4" opacity="0.38"/><path d="M365.8,452.1 L365.8,542.4" stroke="#000" stroke-width="1.8" opacity="0.28"/><path d="M365.8,452.1 L365.8,542.4 A10.0,4.2 0 0 0 385.8,542.4 L385.8,452.1 A10.0,4.2 0 0 0 365.8,452.1 Z" fill="#000" opacity="0.14"/></g>
<g opacity="1.0"><path d="M479.5,343.1 L479.5,429.1 A8.5,3.6 0 0 0 496.5,429.1 L496.5,343.1 A8.5,3.6 0 0 0 479.5,343.1 Z" fill="url(#gSprR)" filter="url(#pocket)"/><path d="M480.0,354.1 Q488.0,357.7 496.0,351.6" stroke="#7d7d7d" stroke-width="1.1" fill="none" opacity="0.22"/><path d="M480.0,355.6 Q488.0,359.2 496.0,353.1" stroke="#ffffff" stroke-width="1" fill="none" opacity="0.22"/><path d="M480.0,363.7 Q488.0,367.3 496.0,361.2" stroke="#7d7d7d" stroke-width="1.1" fill="none" opacity="0.22"/><path d="M480.0,365.2 Q488.0,368.8 496.0,362.7" stroke="#ffffff" stroke-width="1" fill="none" opacity="0.22"/><path d="M480.0,373.2 Q488.0,376.8 496.0,370.7" stroke="#7d7d7d" stroke-width="1.1" fill="none" opacity="0.22"/><path d="M480.0,374.7 Q488.0,378.3 496.0,372.2" stroke="#ffffff" stroke-width="1" fill="none" opacity="0.22"/><path d="M480.0,382.8 Q488.0,386.4 496.0,380.3" stroke="#7d7d7d" stroke-width="1.1" fill="none" opacity="0.22"/><path d="M480.0,384.3 Q488.0,387.9 496.0,381.8" stroke="#ffffff" stroke-width="1" fill="none" opacity="0.22"/><path d="M480.0,392.4 Q488.0,395.9 496.0,389.9" stroke="#7d7d7d" stroke-width="1.1" fill="none" opacity="0.22"/><path d="M480.0,393.9 Q488.0,397.4 496.0,391.4" stroke="#ffffff" stroke-width="1" fill="none" opacity="0.22"/><path d="M480.0,401.9 Q488.0,405.5 496.0,399.4" stroke="#7d7d7d" stroke-width="1.1" fill="none" opacity="0.22"/><path d="M480.0,403.4 Q488.0,407.0 496.0,400.9" stroke="#ffffff" stroke-width="1" fill="none" opacity="0.22"/><path d="M480.0,411.5 Q488.0,415.0 496.0,409.0" stroke="#7d7d7d" stroke-width="1.1" fill="none" opacity="0.22"/><path d="M480.0,413.0 Q488.0,416.5 496.0,410.5" stroke="#ffffff" stroke-width="1" fill="none" opacity="0.22"/><path d="M480.0,421.0 Q488.0,424.6 496.0,418.5" stroke="#7d7d7d" stroke-width="1.1" fill="none" opacity="0.22"/><path d="M480.0,422.5 Q488.0,426.1 496.0,420.0" stroke="#ffffff" stroke-width="1" fill="none" opacity="0.22"/><ellipse cx="488.0" cy="343.1" rx="8.5" ry="3.6" fill="#b4b4b4" stroke="#9a9a9a" stroke-width="0.6"/><path d="M496.5,343.1 L496.5,429.1" stroke="#000" stroke-width="2.4" opacity="0.38"/><path d="M479.5,343.1 L479.5,429.1" stroke="#000" stroke-width="1.8" opacity="0.28"/><path d="M479.5,343.1 L479.5,429.1 A8.5,3.6 0 0 0 496.5,429.1 L496.5,343.1 A8.5,3.6 0 0 0 479.5,343.1 Z" fill="#000" opacity="0.34"/></g>
<g opacity="1.0"><path d="M462.0,350.7 L462.0,438.1 A8.5,3.6 0 0 0 479.0,438.1 L479.0,350.7 A8.5,3.6 0 0 0 462.0,350.7 Z" fill="url(#gSprR)" filter="url(#pocket)"/><path d="M462.5,361.9 Q470.5,365.5 478.5,359.4" stroke="#7d7d7d" stroke-width="1.1" fill="none" opacity="0.22"/><path d="M462.5,363.4 Q470.5,367.0 478.5,360.9" stroke="#ffffff" stroke-width="1" fill="none" opacity="0.22"/><path d="M462.5,371.6 Q470.5,375.2 478.5,369.1" stroke="#7d7d7d" stroke-width="1.1" fill="none" opacity="0.22"/><path d="M462.5,373.1 Q470.5,376.7 478.5,370.6" stroke="#ffffff" stroke-width="1" fill="none" opacity="0.22"/><path d="M462.5,381.3 Q470.5,384.9 478.5,378.8" stroke="#7d7d7d" stroke-width="1.1" fill="none" opacity="0.22"/><path d="M462.5,382.8 Q470.5,386.4 478.5,380.3" stroke="#ffffff" stroke-width="1" fill="none" opacity="0.22"/><path d="M462.5,391.0 Q470.5,394.6 478.5,388.5" stroke="#7d7d7d" stroke-width="1.1" fill="none" opacity="0.22"/><path d="M462.5,392.5 Q470.5,396.1 478.5,390.0" stroke="#ffffff" stroke-width="1" fill="none" opacity="0.22"/><path d="M462.5,400.7 Q470.5,404.3 478.5,398.2" stroke="#7d7d7d" stroke-width="1.1" fill="none" opacity="0.22"/><path d="M462.5,402.2 Q470.5,405.8 478.5,399.7" stroke="#ffffff" stroke-width="1" fill="none" opacity="0.22"/><path d="M462.5,410.4 Q470.5,414.0 478.5,407.9" stroke="#7d7d7d" stroke-width="1.1" fill="none" opacity="0.22"/><path d="M462.5,411.9 Q470.5,415.5 478.5,409.4" stroke="#ffffff" stroke-width="1" fill="none" opacity="0.22"/><path d="M462.5,420.2 Q470.5,423.7 478.5,417.7" stroke="#7d7d7d" stroke-width="1.1" fill="none" opacity="0.22"/><path d="M462.5,421.7 Q470.5,425.2 478.5,419.2" stroke="#ffffff" stroke-width="1" fill="none" opacity="0.22"/><path d="M462.5,429.9 Q470.5,433.4 478.5,427.4" stroke="#7d7d7d" stroke-width="1.1" fill="none" opacity="0.22"/><path d="M462.5,431.4 Q470.5,434.9 478.5,428.9" stroke="#ffffff" stroke-width="1" fill="none" opacity="0.22"/><ellipse cx="470.5" cy="350.7" rx="8.5" ry="3.6" fill="#b4b4b4" stroke="#9a9a9a" stroke-width="0.6"/><path d="M479.0,350.7 L479.0,438.1" stroke="#000" stroke-width="2.4" opacity="0.38"/><path d="M462.0,350.7 L462.0,438.1" stroke="#000" stroke-width="1.8" opacity="0.28"/><path d="M462.0,350.7 L462.0,438.1 A8.5,3.6 0 0 0 479.0,438.1 L479.0,350.7 A8.5,3.6 0 0 0 462.0,350.7 Z" fill="#000" opacity="0.32"/></g>
<g opacity="1.0"><path d="M446.0,358.1 L446.0,447.0 A8.5,3.6 0 0 0 463.0,447.0 L463.0,358.1 A8.5,3.6 0 0 0 446.0,358.1 Z" fill="url(#gSprR)" filter="url(#pocket)"/><path d="M446.5,369.5 Q454.5,373.0 462.5,367.0" stroke="#7d7d7d" stroke-width="1.1" fill="none" opacity="0.22"/><path d="M446.5,371.0 Q454.5,374.5 462.5,368.5" stroke="#ffffff" stroke-width="1" fill="none" opacity="0.22"/><path d="M446.5,379.3 Q454.5,382.9 462.5,376.8" stroke="#7d7d7d" stroke-width="1.1" fill="none" opacity="0.22"/><path d="M446.5,380.8 Q454.5,384.4 462.5,378.3" stroke="#ffffff" stroke-width="1" fill="none" opacity="0.22"/><path d="M446.5,389.2 Q454.5,392.8 462.5,386.7" stroke="#7d7d7d" stroke-width="1.1" fill="none" opacity="0.22"/><path d="M446.5,390.7 Q454.5,394.3 462.5,388.2" stroke="#ffffff" stroke-width="1" fill="none" opacity="0.22"/><path d="M446.5,399.1 Q454.5,402.7 462.5,396.6" stroke="#7d7d7d" stroke-width="1.1" fill="none" opacity="0.22"/><path d="M446.5,400.6 Q454.5,404.2 462.5,398.1" stroke="#ffffff" stroke-width="1" fill="none" opacity="0.22"/><path d="M446.5,409.0 Q454.5,412.5 462.5,406.5" stroke="#7d7d7d" stroke-width="1.1" fill="none" opacity="0.22"/><path d="M446.5,410.5 Q454.5,414.0 462.5,408.0" stroke="#ffffff" stroke-width="1" fill="none" opacity="0.22"/><path d="M446.5,418.8 Q454.5,422.4 462.5,416.3" stroke="#7d7d7d" stroke-width="1.1" fill="none" opacity="0.22"/><path d="M446.5,420.3 Q454.5,423.9 462.5,417.8" stroke="#ffffff" stroke-width="1" fill="none" opacity="0.22"/><path d="M446.5,428.7 Q454.5,432.3 462.5,426.2" stroke="#7d7d7d" stroke-width="1.1" fill="none" opacity="0.22"/><path d="M446.5,430.2 Q454.5,433.8 462.5,427.7" stroke="#ffffff" stroke-width="1" fill="none" opacity="0.22"/><path d="M446.5,438.6 Q454.5,442.2 462.5,436.1" stroke="#7d7d7d" stroke-width="1.1" fill="none" opacity="0.22"/><path d="M446.5,440.1 Q454.5,443.7 462.5,437.6" stroke="#ffffff" stroke-width="1" fill="none" opacity="0.22"/><ellipse cx="454.5" cy="358.1" rx="8.5" ry="3.6" fill="#b4b4b4" stroke="#9a9a9a" stroke-width="0.6"/><path d="M463.0,358.1 L463.0,447.0" stroke="#000" stroke-width="2.4" opacity="0.38"/><path d="M446.0,358.1 L446.0,447.0" stroke="#000" stroke-width="1.8" opacity="0.28"/><path d="M446.0,358.1 L446.0,447.0 A8.5,3.6 0 0 0 463.0,447.0 L463.0,358.1 A8.5,3.6 0 0 0 446.0,358.1 Z" fill="#000" opacity="0.30"/></g>
<g opacity="1.0"><path d="M429.2,369.7 L429.2,457.8 A8.5,3.6 0 0 0 446.2,457.8 L446.2,369.7 A8.5,3.6 0 0 0 429.2,369.7 Z" fill="url(#gBlue)" filter="url(#pocketB)"/><path d="M430.0,379.2 Q438.7,378.2 445.4,373.8" stroke="#6fabe0" stroke-width="1.7" fill="none" opacity="0.5"/><path d="M430.0,385.5 Q438.7,384.5 445.4,380.1" stroke="#6fabe0" stroke-width="1.7" fill="none" opacity="0.5"/><path d="M430.0,391.8 Q438.7,390.8 445.4,386.4" stroke="#6fabe0" stroke-width="1.7" fill="none" opacity="0.5"/><path d="M430.0,398.1 Q438.7,397.1 445.4,392.7" stroke="#6fabe0" stroke-width="1.7" fill="none" opacity="0.5"/><path d="M430.0,404.3 Q438.7,403.3 445.4,398.9" stroke="#6fabe0" stroke-width="1.7" fill="none" opacity="0.5"/><path d="M430.0,410.6 Q438.7,409.6 445.4,405.2" stroke="#6fabe0" stroke-width="1.7" fill="none" opacity="0.5"/><path d="M430.0,416.9 Q438.7,415.9 445.4,411.5" stroke="#6fabe0" stroke-width="1.7" fill="none" opacity="0.5"/><path d="M430.0,423.2 Q438.7,422.2 445.4,417.8" stroke="#6fabe0" stroke-width="1.7" fill="none" opacity="0.5"/><path d="M430.0,429.5 Q438.7,428.5 445.4,424.1" stroke="#6fabe0" stroke-width="1.7" fill="none" opacity="0.5"/><path d="M430.0,435.8 Q438.7,434.8 445.4,430.4" stroke="#6fabe0" stroke-width="1.7" fill="none" opacity="0.5"/><path d="M430.0,442.1 Q438.7,441.1 445.4,436.7" stroke="#6fabe0" stroke-width="1.7" fill="none" opacity="0.5"/><path d="M430.0,448.4 Q438.7,447.4 445.4,443.0" stroke="#6fabe0" stroke-width="1.7" fill="none" opacity="0.5"/><path d="M430.0,454.7 Q438.7,453.7 445.4,449.3" stroke="#6fabe0" stroke-width="1.7" fill="none" opacity="0.5"/><ellipse cx="437.7" cy="369.7" rx="8.5" ry="3.6" fill="#2b67a2" stroke="#1e66ad" stroke-width="0.6"/><path d="M446.2,369.7 L446.2,457.8" stroke="#000" stroke-width="2.4" opacity="0.38"/><path d="M429.2,369.7 L429.2,457.8" stroke="#000" stroke-width="1.8" opacity="0.28"/><path d="M429.2,369.7 L429.2,457.8 A8.5,3.6 0 0 0 446.2,457.8 L446.2,369.7 A8.5,3.6 0 0 0 429.2,369.7 Z" fill="#000" opacity="0.28"/></g>
<g opacity="1.0"><path d="M411.8,377.1 L411.8,466.6 A8.5,3.6 0 0 0 428.8,466.6 L428.8,377.1 A8.5,3.6 0 0 0 411.8,377.1 Z" fill="url(#gBlue)" filter="url(#pocketB)"/><path d="M412.6,386.7 Q421.3,385.7 428.0,381.3" stroke="#6fabe0" stroke-width="1.7" fill="none" opacity="0.5"/><path d="M412.6,393.1 Q421.3,392.1 428.0,387.7" stroke="#6fabe0" stroke-width="1.7" fill="none" opacity="0.5"/><path d="M412.6,399.5 Q421.3,398.5 428.0,394.1" stroke="#6fabe0" stroke-width="1.7" fill="none" opacity="0.5"/><path d="M412.6,405.9 Q421.3,404.9 428.0,400.5" stroke="#6fabe0" stroke-width="1.7" fill="none" opacity="0.5"/><path d="M412.6,412.2 Q421.3,411.2 428.0,406.8" stroke="#6fabe0" stroke-width="1.7" fill="none" opacity="0.5"/><path d="M412.6,418.6 Q421.3,417.6 428.0,413.2" stroke="#6fabe0" stroke-width="1.7" fill="none" opacity="0.5"/><path d="M412.6,425.0 Q421.3,424.0 428.0,419.6" stroke="#6fabe0" stroke-width="1.7" fill="none" opacity="0.5"/><path d="M412.6,431.4 Q421.3,430.4 428.0,426.0" stroke="#6fabe0" stroke-width="1.7" fill="none" opacity="0.5"/><path d="M412.6,437.8 Q421.3,436.8 428.0,432.4" stroke="#6fabe0" stroke-width="1.7" fill="none" opacity="0.5"/><path d="M412.6,444.2 Q421.3,443.2 428.0,438.8" stroke="#6fabe0" stroke-width="1.7" fill="none" opacity="0.5"/><path d="M412.6,450.6 Q421.3,449.6 428.0,445.2" stroke="#6fabe0" stroke-width="1.7" fill="none" opacity="0.5"/><path d="M412.6,457.0 Q421.3,456.0 428.0,451.6" stroke="#6fabe0" stroke-width="1.7" fill="none" opacity="0.5"/><path d="M412.6,463.4 Q421.3,462.4 428.0,458.0" stroke="#6fabe0" stroke-width="1.7" fill="none" opacity="0.5"/><ellipse cx="420.3" cy="377.1" rx="8.5" ry="3.6" fill="#2b67a2" stroke="#1e66ad" stroke-width="0.6"/><path d="M428.8,377.1 L428.8,466.6" stroke="#000" stroke-width="2.4" opacity="0.38"/><path d="M411.8,377.1 L411.8,466.6" stroke="#000" stroke-width="1.8" opacity="0.28"/><path d="M411.8,377.1 L411.8,466.6 A8.5,3.6 0 0 0 428.8,466.6 L428.8,377.1 A8.5,3.6 0 0 0 411.8,377.1 Z" fill="#000" opacity="0.26"/></g>
<g opacity="1.0"><path d="M394.2,387.1 L394.2,476.8 A8.5,3.6 0 0 0 411.2,476.8 L411.2,387.1 A8.5,3.6 0 0 0 394.2,387.1 Z" fill="url(#gBlue)" filter="url(#pocketB)"/><path d="M395.0,396.7 Q403.7,395.7 410.4,391.3" stroke="#6fabe0" stroke-width="1.7" fill="none" opacity="0.5"/><path d="M395.0,403.1 Q403.7,402.1 410.4,397.7" stroke="#6fabe0" stroke-width="1.7" fill="none" opacity="0.5"/><path d="M395.0,409.5 Q403.7,408.5 410.4,404.1" stroke="#6fabe0" stroke-width="1.7" fill="none" opacity="0.5"/><path d="M395.0,415.9 Q403.7,414.9 410.4,410.5" stroke="#6fabe0" stroke-width="1.7" fill="none" opacity="0.5"/><path d="M395.0,422.3 Q403.7,421.3 410.4,416.9" stroke="#6fabe0" stroke-width="1.7" fill="none" opacity="0.5"/><path d="M395.0,428.7 Q403.7,427.7 410.4,423.3" stroke="#6fabe0" stroke-width="1.7" fill="none" opacity="0.5"/><path d="M395.0,435.1 Q403.7,434.1 410.4,429.7" stroke="#6fabe0" stroke-width="1.7" fill="none" opacity="0.5"/><path d="M395.0,441.5 Q403.7,440.5 410.4,436.1" stroke="#6fabe0" stroke-width="1.7" fill="none" opacity="0.5"/><path d="M395.0,447.9 Q403.7,446.9 410.4,442.5" stroke="#6fabe0" stroke-width="1.7" fill="none" opacity="0.5"/><path d="M395.0,454.4 Q403.7,453.4 410.4,449.0" stroke="#6fabe0" stroke-width="1.7" fill="none" opacity="0.5"/><path d="M395.0,460.8 Q403.7,459.8 410.4,455.4" stroke="#6fabe0" stroke-width="1.7" fill="none" opacity="0.5"/><path d="M395.0,467.2 Q403.7,466.2 410.4,461.8" stroke="#6fabe0" stroke-width="1.7" fill="none" opacity="0.5"/><path d="M395.0,473.6 Q403.7,472.6 410.4,468.2" stroke="#6fabe0" stroke-width="1.7" fill="none" opacity="0.5"/><ellipse cx="402.7" cy="387.1" rx="8.5" ry="3.6" fill="#2b67a2" stroke="#1e66ad" stroke-width="0.6"/><path d="M411.2,387.1 L411.2,476.8" stroke="#000" stroke-width="2.4" opacity="0.38"/><path d="M394.2,387.1 L394.2,476.8" stroke="#000" stroke-width="1.8" opacity="0.28"/><path d="M394.2,387.1 L394.2,476.8 A8.5,3.6 0 0 0 411.2,476.8 L411.2,387.1 A8.5,3.6 0 0 0 394.2,387.1 Z" fill="#000" opacity="0.24"/></g>
<g opacity="1.0"><path d="M376.8,397.1 L376.8,485.5 A8.5,3.6 0 0 0 393.8,485.5 L393.8,397.1 A8.5,3.6 0 0 0 376.8,397.1 Z" fill="url(#gBlue)" filter="url(#pocketB)"/><path d="M377.6,406.6 Q386.3,405.6 393.0,401.2" stroke="#6fabe0" stroke-width="1.7" fill="none" opacity="0.5"/><path d="M377.6,412.9 Q386.3,411.9 393.0,407.5" stroke="#6fabe0" stroke-width="1.7" fill="none" opacity="0.5"/><path d="M377.6,419.2 Q386.3,418.2 393.0,413.8" stroke="#6fabe0" stroke-width="1.7" fill="none" opacity="0.5"/><path d="M377.6,425.5 Q386.3,424.5 393.0,420.1" stroke="#6fabe0" stroke-width="1.7" fill="none" opacity="0.5"/><path d="M377.6,431.9 Q386.3,430.9 393.0,426.5" stroke="#6fabe0" stroke-width="1.7" fill="none" opacity="0.5"/><path d="M377.6,438.2 Q386.3,437.2 393.0,432.8" stroke="#6fabe0" stroke-width="1.7" fill="none" opacity="0.5"/><path d="M377.6,444.5 Q386.3,443.5 393.0,439.1" stroke="#6fabe0" stroke-width="1.7" fill="none" opacity="0.5"/><path d="M377.6,450.8 Q386.3,449.8 393.0,445.4" stroke="#6fabe0" stroke-width="1.7" fill="none" opacity="0.5"/><path d="M377.6,457.1 Q386.3,456.1 393.0,451.7" stroke="#6fabe0" stroke-width="1.7" fill="none" opacity="0.5"/><path d="M377.6,463.4 Q386.3,462.4 393.0,458.0" stroke="#6fabe0" stroke-width="1.7" fill="none" opacity="0.5"/><path d="M377.6,469.7 Q386.3,468.7 393.0,464.3" stroke="#6fabe0" stroke-width="1.7" fill="none" opacity="0.5"/><path d="M377.6,476.1 Q386.3,475.1 393.0,470.7" stroke="#6fabe0" stroke-width="1.7" fill="none" opacity="0.5"/><path d="M377.6,482.4 Q386.3,481.4 393.0,477.0" stroke="#6fabe0" stroke-width="1.7" fill="none" opacity="0.5"/><ellipse cx="385.3" cy="397.1" rx="8.5" ry="3.6" fill="#2b67a2" stroke="#1e66ad" stroke-width="0.6"/><path d="M393.8,397.1 L393.8,485.5" stroke="#000" stroke-width="2.4" opacity="0.38"/><path d="M376.8,397.1 L376.8,485.5" stroke="#000" stroke-width="1.8" opacity="0.28"/><path d="M376.8,397.1 L376.8,485.5 A8.5,3.6 0 0 0 393.8,485.5 L393.8,397.1 A8.5,3.6 0 0 0 376.8,397.1 Z" fill="#000" opacity="0.22"/></g>
<g opacity="1.0"><path d="M359.2,407.6 L359.2,495.7 A8.5,3.6 0 0 0 376.2,495.7 L376.2,407.6 A8.5,3.6 0 0 0 359.2,407.6 Z" fill="url(#gBlue)" filter="url(#pocketB)"/><path d="M360.0,417.1 Q368.7,416.1 375.4,411.7" stroke="#6fabe0" stroke-width="1.7" fill="none" opacity="0.5"/><path d="M360.0,423.4 Q368.7,422.4 375.4,418.0" stroke="#6fabe0" stroke-width="1.7" fill="none" opacity="0.5"/><path d="M360.0,429.7 Q368.7,428.7 375.4,424.3" stroke="#6fabe0" stroke-width="1.7" fill="none" opacity="0.5"/><path d="M360.0,436.0 Q368.7,435.0 375.4,430.6" stroke="#6fabe0" stroke-width="1.7" fill="none" opacity="0.5"/><path d="M360.0,442.2 Q368.7,441.2 375.4,436.8" stroke="#6fabe0" stroke-width="1.7" fill="none" opacity="0.5"/><path d="M360.0,448.5 Q368.7,447.5 375.4,443.1" stroke="#6fabe0" stroke-width="1.7" fill="none" opacity="0.5"/><path d="M360.0,454.8 Q368.7,453.8 375.4,449.4" stroke="#6fabe0" stroke-width="1.7" fill="none" opacity="0.5"/><path d="M360.0,461.1 Q368.7,460.1 375.4,455.7" stroke="#6fabe0" stroke-width="1.7" fill="none" opacity="0.5"/><path d="M360.0,467.4 Q368.7,466.4 375.4,462.0" stroke="#6fabe0" stroke-width="1.7" fill="none" opacity="0.5"/><path d="M360.0,473.7 Q368.7,472.7 375.4,468.3" stroke="#6fabe0" stroke-width="1.7" fill="none" opacity="0.5"/><path d="M360.0,480.0 Q368.7,479.0 375.4,474.6" stroke="#6fabe0" stroke-width="1.7" fill="none" opacity="0.5"/><path d="M360.0,486.3 Q368.7,485.3 375.4,480.9" stroke="#6fabe0" stroke-width="1.7" fill="none" opacity="0.5"/><path d="M360.0,492.6 Q368.7,491.6 375.4,487.2" stroke="#6fabe0" stroke-width="1.7" fill="none" opacity="0.5"/><ellipse cx="367.7" cy="407.6" rx="8.5" ry="3.6" fill="#2b67a2" stroke="#1e66ad" stroke-width="0.6"/><path d="M376.2,407.6 L376.2,495.7" stroke="#000" stroke-width="2.4" opacity="0.38"/><path d="M359.2,407.6 L359.2,495.7" stroke="#000" stroke-width="1.8" opacity="0.28"/><path d="M359.2,407.6 L359.2,495.7 A8.5,3.6 0 0 0 376.2,495.7 L376.2,407.6 A8.5,3.6 0 0 0 359.2,407.6 Z" fill="#000" opacity="0.20"/></g>
<g opacity="1.0"><path d="M340.4,416.1 L340.4,505.9 A8.5,3.6 0 0 0 357.4,505.9 L357.4,416.1 A8.5,3.6 0 0 0 340.4,416.1 Z" fill="url(#gSprR)" filter="url(#pocket)"/><path d="M340.9,427.6 Q348.9,431.1 356.9,425.1" stroke="#7d7d7d" stroke-width="1.1" fill="none" opacity="0.22"/><path d="M340.9,429.1 Q348.9,432.6 356.9,426.6" stroke="#ffffff" stroke-width="1" fill="none" opacity="0.22"/><path d="M340.9,437.5 Q348.9,441.1 356.9,435.0" stroke="#7d7d7d" stroke-width="1.1" fill="none" opacity="0.22"/><path d="M340.9,439.0 Q348.9,442.6 356.9,436.5" stroke="#ffffff" stroke-width="1" fill="none" opacity="0.22"/><path d="M340.9,447.5 Q348.9,451.1 356.9,445.0" stroke="#7d7d7d" stroke-width="1.1" fill="none" opacity="0.22"/><path d="M340.9,449.0 Q348.9,452.6 356.9,446.5" stroke="#ffffff" stroke-width="1" fill="none" opacity="0.22"/><path d="M340.9,457.5 Q348.9,461.1 356.9,455.0" stroke="#7d7d7d" stroke-width="1.1" fill="none" opacity="0.22"/><path d="M340.9,459.0 Q348.9,462.6 356.9,456.5" stroke="#ffffff" stroke-width="1" fill="none" opacity="0.22"/><path d="M340.9,467.5 Q348.9,471.0 356.9,465.0" stroke="#7d7d7d" stroke-width="1.1" fill="none" opacity="0.22"/><path d="M340.9,469.0 Q348.9,472.5 356.9,466.5" stroke="#ffffff" stroke-width="1" fill="none" opacity="0.22"/><path d="M340.9,477.4 Q348.9,481.0 356.9,474.9" stroke="#7d7d7d" stroke-width="1.1" fill="none" opacity="0.22"/><path d="M340.9,478.9 Q348.9,482.5 356.9,476.4" stroke="#ffffff" stroke-width="1" fill="none" opacity="0.22"/><path d="M340.9,487.4 Q348.9,491.0 356.9,484.9" stroke="#7d7d7d" stroke-width="1.1" fill="none" opacity="0.22"/><path d="M340.9,488.9 Q348.9,492.5 356.9,486.4" stroke="#ffffff" stroke-width="1" fill="none" opacity="0.22"/><path d="M340.9,497.4 Q348.9,501.0 356.9,494.9" stroke="#7d7d7d" stroke-width="1.1" fill="none" opacity="0.22"/><path d="M340.9,498.9 Q348.9,502.5 356.9,496.4" stroke="#ffffff" stroke-width="1" fill="none" opacity="0.22"/><ellipse cx="348.9" cy="416.1" rx="8.5" ry="3.6" fill="#b4b4b4" stroke="#9a9a9a" stroke-width="0.6"/><path d="M357.4,416.1 L357.4,505.9" stroke="#000" stroke-width="2.4" opacity="0.38"/><path d="M340.4,416.1 L340.4,505.9" stroke="#000" stroke-width="1.8" opacity="0.28"/><path d="M340.4,416.1 L340.4,505.9 A8.5,3.6 0 0 0 357.4,505.9 L357.4,416.1 A8.5,3.6 0 0 0 340.4,416.1 Z" fill="#000" opacity="0.18"/></g>
<g opacity="1.0"><path d="M321.4,425.1 L321.4,517.6 A8.5,3.6 0 0 0 338.4,517.6 L338.4,425.1 A8.5,3.6 0 0 0 321.4,425.1 Z" fill="url(#gSprR)" filter="url(#pocket)"/><path d="M321.9,436.9 Q329.9,440.4 337.9,434.4" stroke="#7d7d7d" stroke-width="1.1" fill="none" opacity="0.22"/><path d="M321.9,438.4 Q329.9,441.9 337.9,435.9" stroke="#ffffff" stroke-width="1" fill="none" opacity="0.22"/><path d="M321.9,447.1 Q329.9,450.7 337.9,444.6" stroke="#7d7d7d" stroke-width="1.1" fill="none" opacity="0.22"/><path d="M321.9,448.6 Q329.9,452.2 337.9,446.1" stroke="#ffffff" stroke-width="1" fill="none" opacity="0.22"/><path d="M321.9,457.4 Q329.9,461.0 337.9,454.9" stroke="#7d7d7d" stroke-width="1.1" fill="none" opacity="0.22"/><path d="M321.9,458.9 Q329.9,462.5 337.9,456.4" stroke="#ffffff" stroke-width="1" fill="none" opacity="0.22"/><path d="M321.9,467.7 Q329.9,471.3 337.9,465.2" stroke="#7d7d7d" stroke-width="1.1" fill="none" opacity="0.22"/><path d="M321.9,469.2 Q329.9,472.8 337.9,466.7" stroke="#ffffff" stroke-width="1" fill="none" opacity="0.22"/><path d="M321.9,478.0 Q329.9,481.5 337.9,475.5" stroke="#7d7d7d" stroke-width="1.1" fill="none" opacity="0.22"/><path d="M321.9,479.5 Q329.9,483.0 337.9,477.0" stroke="#ffffff" stroke-width="1" fill="none" opacity="0.22"/><path d="M321.9,488.2 Q329.9,491.8 337.9,485.7" stroke="#7d7d7d" stroke-width="1.1" fill="none" opacity="0.22"/><path d="M321.9,489.7 Q329.9,493.3 337.9,487.2" stroke="#ffffff" stroke-width="1" fill="none" opacity="0.22"/><path d="M321.9,498.5 Q329.9,502.1 337.9,496.0" stroke="#7d7d7d" stroke-width="1.1" fill="none" opacity="0.22"/><path d="M321.9,500.0 Q329.9,503.6 337.9,497.5" stroke="#ffffff" stroke-width="1" fill="none" opacity="0.22"/><path d="M321.9,508.8 Q329.9,512.4 337.9,506.3" stroke="#7d7d7d" stroke-width="1.1" fill="none" opacity="0.22"/><path d="M321.9,510.3 Q329.9,513.9 337.9,507.8" stroke="#ffffff" stroke-width="1" fill="none" opacity="0.22"/><ellipse cx="329.9" cy="425.1" rx="8.5" ry="3.6" fill="#b4b4b4" stroke="#9a9a9a" stroke-width="0.6"/><path d="M338.4,425.1 L338.4,517.6" stroke="#000" stroke-width="2.4" opacity="0.38"/><path d="M321.4,425.1 L321.4,517.6" stroke="#000" stroke-width="1.8" opacity="0.28"/><path d="M321.4,425.1 L321.4,517.6 A8.5,3.6 0 0 0 338.4,517.6 L338.4,425.1 A8.5,3.6 0 0 0 321.4,425.1 Z" fill="#000" opacity="0.16"/></g>
<g opacity="1.0"><path d="M301.0,433.8 L301.0,527.8 A8.5,3.6 0 0 0 318.0,527.8 L318.0,433.8 A8.5,3.6 0 0 0 301.0,433.8 Z" fill="url(#gSprR)" filter="url(#pocket)"/><path d="M301.5,445.7 Q309.5,449.3 317.5,443.2" stroke="#7d7d7d" stroke-width="1.1" fill="none" opacity="0.22"/><path d="M301.5,447.2 Q309.5,450.8 317.5,444.7" stroke="#ffffff" stroke-width="1" fill="none" opacity="0.22"/><path d="M301.5,456.2 Q309.5,459.7 317.5,453.7" stroke="#7d7d7d" stroke-width="1.1" fill="none" opacity="0.22"/><path d="M301.5,457.7 Q309.5,461.2 317.5,455.2" stroke="#ffffff" stroke-width="1" fill="none" opacity="0.22"/><path d="M301.5,466.6 Q309.5,470.2 317.5,464.1" stroke="#7d7d7d" stroke-width="1.1" fill="none" opacity="0.22"/><path d="M301.5,468.1 Q309.5,471.7 317.5,465.6" stroke="#ffffff" stroke-width="1" fill="none" opacity="0.22"/><path d="M301.5,477.1 Q309.5,480.6 317.5,474.6" stroke="#7d7d7d" stroke-width="1.1" fill="none" opacity="0.22"/><path d="M301.5,478.6 Q309.5,482.1 317.5,476.1" stroke="#ffffff" stroke-width="1" fill="none" opacity="0.22"/><path d="M301.5,487.5 Q309.5,491.1 317.5,485.0" stroke="#7d7d7d" stroke-width="1.1" fill="none" opacity="0.22"/><path d="M301.5,489.0 Q309.5,492.6 317.5,486.5" stroke="#ffffff" stroke-width="1" fill="none" opacity="0.22"/><path d="M301.5,497.9 Q309.5,501.5 317.5,495.4" stroke="#7d7d7d" stroke-width="1.1" fill="none" opacity="0.22"/><path d="M301.5,499.4 Q309.5,503.0 317.5,496.9" stroke="#ffffff" stroke-width="1" fill="none" opacity="0.22"/><path d="M301.5,508.4 Q309.5,512.0 317.5,505.9" stroke="#7d7d7d" stroke-width="1.1" fill="none" opacity="0.22"/><path d="M301.5,509.9 Q309.5,513.5 317.5,507.4" stroke="#ffffff" stroke-width="1" fill="none" opacity="0.22"/><path d="M301.5,518.8 Q309.5,522.4 317.5,516.3" stroke="#7d7d7d" stroke-width="1.1" fill="none" opacity="0.22"/><path d="M301.5,520.3 Q309.5,523.9 317.5,517.8" stroke="#ffffff" stroke-width="1" fill="none" opacity="0.22"/><ellipse cx="309.5" cy="433.8" rx="8.5" ry="3.6" fill="#b4b4b4" stroke="#9a9a9a" stroke-width="0.6"/><path d="M318.0,433.8 L318.0,527.8" stroke="#000" stroke-width="2.4" opacity="0.38"/><path d="M301.0,433.8 L301.0,527.8" stroke="#000" stroke-width="1.8" opacity="0.28"/><path d="M301.0,433.8 L301.0,527.8 A8.5,3.6 0 0 0 318.0,527.8 L318.0,433.8 A8.5,3.6 0 0 0 301.0,433.8 Z" fill="#000" opacity="0.14"/></g>
<g opacity="1.0" fill="none"><path d="M154.4,366.2 L154.4,451.2 A9.2,3.1 0 0 0 172.9,451.2 L172.9,366.2 A9.2,3.1 0 0 0 154.4,366.2 Z" fill="#c0c0c0" opacity="0.82"/><path d="M172.1,366.2 L171.3,368.1 L169.0,369.8 L165.6,370.9 L161.8,371.5 L158.4,371.4 L156.1,370.9 L155.2,370.1" stroke="#858585" stroke-width="1.25"/><path d="M155.2,370.1 L156.1,369.3 L158.4,368.7 L161.8,368.7 L165.6,369.2 L169.0,370.4 L171.3,372.0 L172.1,373.9" stroke="#b4b4b4" stroke-width="0.9"/><path d="M172.1,373.9 L171.3,375.8 L169.0,377.5 L165.6,378.6 L161.8,379.2 L158.4,379.1 L156.1,378.6 L155.2,377.8" stroke="#858585" stroke-width="1.25"/><path d="M155.2,377.8 L156.1,377.0 L158.4,376.4 L161.8,376.4 L165.6,376.9 L169.0,378.1 L171.3,379.7 L172.1,381.7" stroke="#b4b4b4" stroke-width="0.9"/><path d="M172.1,381.7 L171.3,383.6 L169.0,385.2 L165.6,386.4 L161.8,386.9 L158.4,386.9 L156.1,386.3 L155.2,385.5" stroke="#858585" stroke-width="1.25"/><path d="M155.2,385.5 L156.1,384.7 L158.4,384.2 L161.8,384.1 L165.6,384.7 L169.0,385.8 L171.3,387.5 L172.1,389.4" stroke="#b4b4b4" stroke-width="0.9"/><path d="M172.1,389.4 L171.3,391.3 L169.0,392.9 L165.6,394.1 L161.8,394.7 L158.4,394.6 L156.1,394.1 L155.2,393.2" stroke="#858585" stroke-width="1.25"/><path d="M155.2,393.2 L156.1,392.4 L158.4,391.9 L161.8,391.8 L165.6,392.4 L169.0,393.5 L171.3,395.2 L172.1,397.1" stroke="#b4b4b4" stroke-width="0.9"/><path d="M172.1,397.1 L171.3,399.0 L169.0,400.7 L165.6,401.8 L161.8,402.4 L158.4,402.3 L156.1,401.8 L155.2,401.0" stroke="#858585" stroke-width="1.25"/><path d="M155.2,401.0 L156.1,400.2 L158.4,399.6 L161.8,399.6 L165.6,400.1 L169.0,401.3 L171.3,402.9 L172.1,404.8" stroke="#b4b4b4" stroke-width="0.9"/><path d="M172.1,404.8 L171.3,406.8 L169.0,408.4 L165.6,409.6 L161.8,410.1 L158.4,410.1 L156.1,409.5 L155.2,408.7" stroke="#858585" stroke-width="1.25"/><path d="M155.2,408.7 L156.1,407.9 L158.4,407.3 L161.8,407.3 L165.6,407.8 L169.0,409.0 L171.3,410.6 L172.1,412.6" stroke="#b4b4b4" stroke-width="0.9"/><path d="M172.1,412.6 L171.3,414.5 L169.0,416.1 L165.6,417.3 L161.8,417.8 L158.4,417.8 L156.1,417.2 L155.2,416.4" stroke="#858585" stroke-width="1.25"/><path d="M155.2,416.4 L156.1,415.6 L158.4,415.1 L161.8,415.0 L165.6,415.6 L169.0,416.7 L171.3,418.4 L172.1,420.3" stroke="#b4b4b4" stroke-width="0.9"/><path d="M172.1,420.3 L171.3,422.2 L169.0,423.9 L165.6,425.0 L161.8,425.6 L158.4,425.5 L156.1,425.0 L155.2,424.2" stroke="#858585" stroke-width="1.25"/><path d="M155.2,424.2 L156.1,423.3 L158.4,422.8 L161.8,422.7 L165.6,423.3 L169.0,424.5 L171.3,426.1 L172.1,428.0" stroke="#b4b4b4" stroke-width="0.9"/><path d="M172.1,428.0 L171.3,429.9 L169.0,431.6 L165.6,432.7 L161.8,433.3 L158.4,433.2 L156.1,432.7 L155.2,431.9" stroke="#858585" stroke-width="1.25"/><path d="M155.2,431.9 L156.1,431.1 L158.4,430.5 L161.8,430.5 L165.6,431.0 L169.0,432.2 L171.3,433.8 L172.1,435.7" stroke="#b4b4b4" stroke-width="0.9"/><path d="M172.1,435.7 L171.3,437.7 L169.0,439.3 L165.6,440.5 L161.8,441.0 L158.4,441.0 L156.1,440.4 L155.2,439.6" stroke="#858585" stroke-width="1.25"/><path d="M155.2,439.6 L156.1,438.8 L158.4,438.3 L161.8,438.2 L165.6,438.8 L169.0,439.9 L171.3,441.6 L172.1,443.5" stroke="#b4b4b4" stroke-width="0.9"/><path d="M172.1,443.5 L171.3,445.4 L169.0,447.0 L165.6,448.2 L161.8,448.7 L158.4,448.7 L156.1,448.1 L155.2,447.3" stroke="#858585" stroke-width="1.25"/><path d="M155.2,447.3 L156.1,446.5 L158.4,446.0 L161.8,445.9 L165.6,446.5 L169.0,447.6 L171.3,449.3 L172.1,451.2" stroke="#b4b4b4" stroke-width="0.9"/><ellipse cx="163.7" cy="366.2" rx="9.2" ry="3.1" fill="#c4c4c4" opacity="0.55" stroke="#a2a2a2" stroke-width="0.7"/></g>
<g opacity="1.0" fill="none"><path d="M178.2,378.1 L178.2,463.9 A9.2,3.1 0 0 0 196.8,463.9 L196.8,378.1 A9.2,3.1 0 0 0 178.2,378.1 Z" fill="#c0c0c0" opacity="0.82"/><path d="M195.9,378.1 L195.1,380.0 L192.8,381.7 L189.4,382.8 L185.6,383.4 L182.2,383.3 L179.9,382.8 L179.1,382.0" stroke="#858585" stroke-width="1.25"/><path d="M179.1,382.0 L179.9,381.2 L182.2,380.7 L185.6,380.6 L189.4,381.2 L192.8,382.3 L195.1,384.0 L195.9,385.9" stroke="#b4b4b4" stroke-width="0.9"/><path d="M195.9,385.9 L195.1,387.8 L192.8,389.5 L189.4,390.6 L185.6,391.2 L182.2,391.2 L179.9,390.6 L179.1,389.8" stroke="#858585" stroke-width="1.25"/><path d="M179.1,389.8 L179.9,389.0 L182.2,388.5 L185.6,388.4 L189.4,389.0 L192.8,390.1 L195.1,391.8 L195.9,393.7" stroke="#b4b4b4" stroke-width="0.9"/><path d="M195.9,393.7 L195.1,395.6 L192.8,397.3 L189.4,398.4 L185.6,399.0 L182.2,399.0 L179.9,398.4 L179.1,397.6" stroke="#858585" stroke-width="1.25"/><path d="M179.1,397.6 L179.9,396.8 L182.2,396.3 L185.6,396.2 L189.4,396.8 L192.8,397.9 L195.1,399.6 L195.9,401.5" stroke="#b4b4b4" stroke-width="0.9"/><path d="M195.9,401.5 L195.1,403.4 L192.8,405.1 L189.4,406.3 L185.6,406.8 L182.2,406.8 L179.9,406.2 L179.1,405.4" stroke="#858585" stroke-width="1.25"/><path d="M179.1,405.4 L179.9,404.6 L182.2,404.1 L185.6,404.0 L189.4,404.6 L192.8,405.7 L195.1,407.4 L195.9,409.3" stroke="#b4b4b4" stroke-width="0.9"/><path d="M195.9,409.3 L195.1,411.2 L192.8,412.9 L189.4,414.1 L185.6,414.6 L182.2,414.6 L179.9,414.0 L179.1,413.2" stroke="#858585" stroke-width="1.25"/><path d="M179.1,413.2 L179.9,412.4 L182.2,411.9 L185.6,411.8 L189.4,412.4 L192.8,413.5 L195.1,415.2 L195.9,417.1" stroke="#b4b4b4" stroke-width="0.9"/><path d="M195.9,417.1 L195.1,419.0 L192.8,420.7 L189.4,421.9 L185.6,422.4 L182.2,422.4 L179.9,421.8 L179.1,421.0" stroke="#858585" stroke-width="1.25"/><path d="M179.1,421.0 L179.9,420.2 L182.2,419.7 L185.6,419.6 L189.4,420.2 L192.8,421.4 L195.1,423.0 L195.9,424.9" stroke="#b4b4b4" stroke-width="0.9"/><path d="M195.9,424.9 L195.1,426.8 L192.8,428.5 L189.4,429.7 L185.6,430.2 L182.2,430.2 L179.9,429.6 L179.1,428.8" stroke="#858585" stroke-width="1.25"/><path d="M179.1,428.8 L179.9,428.0 L182.2,427.5 L185.6,427.4 L189.4,428.0 L192.8,429.2 L195.1,430.8 L195.9,432.7" stroke="#b4b4b4" stroke-width="0.9"/><path d="M195.9,432.7 L195.1,434.7 L192.8,436.3 L189.4,437.5 L185.6,438.0 L182.2,438.0 L179.9,437.4 L179.1,436.6" stroke="#858585" stroke-width="1.25"/><path d="M179.1,436.6 L179.9,435.8 L182.2,435.3 L185.6,435.2 L189.4,435.8 L192.8,437.0 L195.1,438.6 L195.9,440.5" stroke="#b4b4b4" stroke-width="0.9"/><path d="M195.9,440.5 L195.1,442.5 L192.8,444.1 L189.4,445.3 L185.6,445.8 L182.2,445.8 L179.9,445.2 L179.1,444.4" stroke="#858585" stroke-width="1.25"/><path d="M179.1,444.4 L179.9,443.6 L182.2,443.1 L185.6,443.0 L189.4,443.6 L192.8,444.8 L195.1,446.4 L195.9,448.3" stroke="#b4b4b4" stroke-width="0.9"/><path d="M195.9,448.3 L195.1,450.3 L192.8,451.9 L189.4,453.1 L185.6,453.6 L182.2,453.6 L179.9,453.1 L179.1,452.2" stroke="#858585" stroke-width="1.25"/><path d="M179.1,452.2 L179.9,451.4 L182.2,450.9 L185.6,450.8 L189.4,451.4 L192.8,452.6 L195.1,454.2 L195.9,456.1" stroke="#b4b4b4" stroke-width="0.9"/><path d="M195.9,456.1 L195.1,458.1 L192.8,459.7 L189.4,460.9 L185.6,461.4 L182.2,461.4 L179.9,460.9 L179.1,460.0" stroke="#858585" stroke-width="1.25"/><path d="M179.1,460.0 L179.9,459.2 L182.2,458.7 L185.6,458.7 L189.4,459.2 L192.8,460.4 L195.1,462.0 L195.9,463.9" stroke="#b4b4b4" stroke-width="0.9"/><ellipse cx="187.5" cy="378.1" rx="9.2" ry="3.1" fill="#c4c4c4" opacity="0.55" stroke="#a2a2a2" stroke-width="0.7"/></g>
<g opacity="1.0"><path d="M203.3,391.5 L203.3,476.7 A10.0,4.2 0 0 0 223.3,476.7 L223.3,391.5 A10.0,4.2 0 0 0 203.3,391.5 Z" fill="url(#gSprL)" filter="url(#pocket)"/><path d="M203.8,402.5 Q213.3,406.7 222.8,400.0" stroke="#7d7d7d" stroke-width="1.1" fill="none" opacity="0.22"/><path d="M203.8,404.0 Q213.3,408.2 222.8,401.5" stroke="#ffffff" stroke-width="1" fill="none" opacity="0.22"/><path d="M203.8,411.9 Q213.3,416.1 222.8,409.4" stroke="#7d7d7d" stroke-width="1.1" fill="none" opacity="0.22"/><path d="M203.8,413.4 Q213.3,417.6 222.8,410.9" stroke="#ffffff" stroke-width="1" fill="none" opacity="0.22"/><path d="M203.8,421.4 Q213.3,425.6 222.8,418.9" stroke="#7d7d7d" stroke-width="1.1" fill="none" opacity="0.22"/><path d="M203.8,422.9 Q213.3,427.1 222.8,420.4" stroke="#ffffff" stroke-width="1" fill="none" opacity="0.22"/><path d="M203.8,430.9 Q213.3,435.1 222.8,428.4" stroke="#7d7d7d" stroke-width="1.1" fill="none" opacity="0.22"/><path d="M203.8,432.4 Q213.3,436.6 222.8,429.9" stroke="#ffffff" stroke-width="1" fill="none" opacity="0.22"/><path d="M203.8,440.3 Q213.3,444.5 222.8,437.8" stroke="#7d7d7d" stroke-width="1.1" fill="none" opacity="0.22"/><path d="M203.8,441.8 Q213.3,446.0 222.8,439.3" stroke="#ffffff" stroke-width="1" fill="none" opacity="0.22"/><path d="M203.8,449.8 Q213.3,454.0 222.8,447.3" stroke="#7d7d7d" stroke-width="1.1" fill="none" opacity="0.22"/><path d="M203.8,451.3 Q213.3,455.5 222.8,448.8" stroke="#ffffff" stroke-width="1" fill="none" opacity="0.22"/><path d="M203.8,459.3 Q213.3,463.5 222.8,456.8" stroke="#7d7d7d" stroke-width="1.1" fill="none" opacity="0.22"/><path d="M203.8,460.8 Q213.3,465.0 222.8,458.3" stroke="#ffffff" stroke-width="1" fill="none" opacity="0.22"/><path d="M203.8,468.7 Q213.3,472.9 222.8,466.2" stroke="#7d7d7d" stroke-width="1.1" fill="none" opacity="0.22"/><path d="M203.8,470.2 Q213.3,474.4 222.8,467.7" stroke="#ffffff" stroke-width="1" fill="none" opacity="0.22"/><ellipse cx="213.3" cy="391.5" rx="10.0" ry="4.2" fill="#b4b4b4" stroke="#9a9a9a" stroke-width="0.6"/><path d="M223.3,391.5 L223.3,476.7" stroke="#000" stroke-width="2.4" opacity="0.38"/><path d="M203.3,391.5 L203.3,476.7" stroke="#000" stroke-width="1.8" opacity="0.28"/><path d="M203.3,391.5 L203.3,476.7 A10.0,4.2 0 0 0 223.3,476.7 L223.3,391.5 A10.0,4.2 0 0 0 203.3,391.5 Z" fill="#000" opacity="0.26"/></g>
<g opacity="1.0"><path d="M227.1,403.4 L227.1,489.4 A10.0,4.2 0 0 0 247.1,489.4 L247.1,403.4 A10.0,4.2 0 0 0 227.1,403.4 Z" fill="url(#gSprL)" filter="url(#pocket)"/><path d="M227.6,414.5 Q237.1,418.7 246.6,412.0" stroke="#7d7d7d" stroke-width="1.1" fill="none" opacity="0.22"/><path d="M227.6,416.0 Q237.1,420.2 246.6,413.5" stroke="#ffffff" stroke-width="1" fill="none" opacity="0.22"/><path d="M227.6,424.0 Q237.1,428.2 246.6,421.5" stroke="#7d7d7d" stroke-width="1.1" fill="none" opacity="0.22"/><path d="M227.6,425.5 Q237.1,429.7 246.6,423.0" stroke="#ffffff" stroke-width="1" fill="none" opacity="0.22"/><path d="M227.6,433.6 Q237.1,437.8 246.6,431.1" stroke="#7d7d7d" stroke-width="1.1" fill="none" opacity="0.22"/><path d="M227.6,435.1 Q237.1,439.3 246.6,432.6" stroke="#ffffff" stroke-width="1" fill="none" opacity="0.22"/><path d="M227.6,443.1 Q237.1,447.3 246.6,440.6" stroke="#7d7d7d" stroke-width="1.1" fill="none" opacity="0.22"/><path d="M227.6,444.6 Q237.1,448.8 246.6,442.1" stroke="#ffffff" stroke-width="1" fill="none" opacity="0.22"/><path d="M227.6,452.7 Q237.1,456.9 246.6,450.2" stroke="#7d7d7d" stroke-width="1.1" fill="none" opacity="0.22"/><path d="M227.6,454.2 Q237.1,458.4 246.6,451.7" stroke="#ffffff" stroke-width="1" fill="none" opacity="0.22"/><path d="M227.6,462.3 Q237.1,466.5 246.6,459.8" stroke="#7d7d7d" stroke-width="1.1" fill="none" opacity="0.22"/><path d="M227.6,463.8 Q237.1,468.0 246.6,461.3" stroke="#ffffff" stroke-width="1" fill="none" opacity="0.22"/><path d="M227.6,471.8 Q237.1,476.0 246.6,469.3" stroke="#7d7d7d" stroke-width="1.1" fill="none" opacity="0.22"/><path d="M227.6,473.3 Q237.1,477.5 246.6,470.8" stroke="#ffffff" stroke-width="1" fill="none" opacity="0.22"/><path d="M227.6,481.4 Q237.1,485.6 246.6,478.9" stroke="#7d7d7d" stroke-width="1.1" fill="none" opacity="0.22"/><path d="M227.6,482.9 Q237.1,487.1 246.6,480.4" stroke="#ffffff" stroke-width="1" fill="none" opacity="0.22"/><ellipse cx="237.1" cy="403.4" rx="10.0" ry="4.2" fill="#b4b4b4" stroke="#9a9a9a" stroke-width="0.6"/><path d="M247.1,403.4 L247.1,489.4" stroke="#000" stroke-width="2.4" opacity="0.38"/><path d="M227.1,403.4 L227.1,489.4" stroke="#000" stroke-width="1.8" opacity="0.28"/><path d="M227.1,403.4 L227.1,489.4 A10.0,4.2 0 0 0 247.1,489.4 L247.1,403.4 A10.0,4.2 0 0 0 227.1,403.4 Z" fill="#000" opacity="0.24"/></g>
<g opacity="1.0"><path d="M250.9,415.3 L250.9,502.2 A10.0,4.2 0 0 0 270.9,502.2 L270.9,415.3 A10.0,4.2 0 0 0 250.9,415.3 Z" fill="url(#gSprL)" filter="url(#pocket)"/><path d="M251.4,426.5 Q260.9,430.7 270.4,424.0" stroke="#7d7d7d" stroke-width="1.1" fill="none" opacity="0.22"/><path d="M251.4,428.0 Q260.9,432.2 270.4,425.5" stroke="#ffffff" stroke-width="1" fill="none" opacity="0.22"/><path d="M251.4,436.1 Q260.9,440.3 270.4,433.6" stroke="#7d7d7d" stroke-width="1.1" fill="none" opacity="0.22"/><path d="M251.4,437.6 Q260.9,441.8 270.4,435.1" stroke="#ffffff" stroke-width="1" fill="none" opacity="0.22"/><path d="M251.4,445.8 Q260.9,450.0 270.4,443.3" stroke="#7d7d7d" stroke-width="1.1" fill="none" opacity="0.22"/><path d="M251.4,447.3 Q260.9,451.5 270.4,444.8" stroke="#ffffff" stroke-width="1" fill="none" opacity="0.22"/><path d="M251.4,455.4 Q260.9,459.6 270.4,452.9" stroke="#7d7d7d" stroke-width="1.1" fill="none" opacity="0.22"/><path d="M251.4,456.9 Q260.9,461.1 270.4,454.4" stroke="#ffffff" stroke-width="1" fill="none" opacity="0.22"/><path d="M251.4,465.1 Q260.9,469.3 270.4,462.6" stroke="#7d7d7d" stroke-width="1.1" fill="none" opacity="0.22"/><path d="M251.4,466.6 Q260.9,470.8 270.4,464.1" stroke="#ffffff" stroke-width="1" fill="none" opacity="0.22"/><path d="M251.4,474.7 Q260.9,478.9 270.4,472.2" stroke="#7d7d7d" stroke-width="1.1" fill="none" opacity="0.22"/><path d="M251.4,476.2 Q260.9,480.4 270.4,473.7" stroke="#ffffff" stroke-width="1" fill="none" opacity="0.22"/><path d="M251.4,484.4 Q260.9,488.6 270.4,481.9" stroke="#7d7d7d" stroke-width="1.1" fill="none" opacity="0.22"/><path d="M251.4,485.9 Q260.9,490.1 270.4,483.4" stroke="#ffffff" stroke-width="1" fill="none" opacity="0.22"/><path d="M251.4,494.0 Q260.9,498.2 270.4,491.5" stroke="#7d7d7d" stroke-width="1.1" fill="none" opacity="0.22"/><path d="M251.4,495.5 Q260.9,499.7 270.4,493.0" stroke="#ffffff" stroke-width="1" fill="none" opacity="0.22"/><ellipse cx="260.9" cy="415.3" rx="10.0" ry="4.2" fill="#b4b4b4" stroke="#9a9a9a" stroke-width="0.6"/><path d="M270.9,415.3 L270.9,502.2" stroke="#000" stroke-width="2.4" opacity="0.38"/><path d="M250.9,415.3 L250.9,502.2" stroke="#000" stroke-width="1.8" opacity="0.28"/><path d="M250.9,415.3 L250.9,502.2 A10.0,4.2 0 0 0 270.9,502.2 L270.9,415.3 A10.0,4.2 0 0 0 250.9,415.3 Z" fill="#000" opacity="0.22"/></g>
<g opacity="1.0"><path d="M274.7,427.2 L274.7,515.0 A10.0,4.2 0 0 0 294.7,515.0 L294.7,427.2 A10.0,4.2 0 0 0 274.7,427.2 Z" fill="url(#gSprL)" filter="url(#pocket)"/><path d="M275.2,438.4 Q284.7,442.6 294.2,435.9" stroke="#7d7d7d" stroke-width="1.1" fill="none" opacity="0.22"/><path d="M275.2,439.9 Q284.7,444.1 294.2,437.4" stroke="#ffffff" stroke-width="1" fill="none" opacity="0.22"/><path d="M275.2,448.2 Q284.7,452.4 294.2,445.7" stroke="#7d7d7d" stroke-width="1.1" fill="none" opacity="0.22"/><path d="M275.2,449.7 Q284.7,453.9 294.2,447.2" stroke="#ffffff" stroke-width="1" fill="none" opacity="0.22"/><path d="M275.2,457.9 Q284.7,462.1 294.2,455.4" stroke="#7d7d7d" stroke-width="1.1" fill="none" opacity="0.22"/><path d="M275.2,459.4 Q284.7,463.6 294.2,456.9" stroke="#ffffff" stroke-width="1" fill="none" opacity="0.22"/><path d="M275.2,467.7 Q284.7,471.9 294.2,465.2" stroke="#7d7d7d" stroke-width="1.1" fill="none" opacity="0.22"/><path d="M275.2,469.2 Q284.7,473.4 294.2,466.7" stroke="#ffffff" stroke-width="1" fill="none" opacity="0.22"/><path d="M275.2,477.5 Q284.7,481.7 294.2,475.0" stroke="#7d7d7d" stroke-width="1.1" fill="none" opacity="0.22"/><path d="M275.2,479.0 Q284.7,483.2 294.2,476.5" stroke="#ffffff" stroke-width="1" fill="none" opacity="0.22"/><path d="M275.2,487.2 Q284.7,491.4 294.2,484.7" stroke="#7d7d7d" stroke-width="1.1" fill="none" opacity="0.22"/><path d="M275.2,488.7 Q284.7,492.9 294.2,486.2" stroke="#ffffff" stroke-width="1" fill="none" opacity="0.22"/><path d="M275.2,497.0 Q284.7,501.2 294.2,494.5" stroke="#7d7d7d" stroke-width="1.1" fill="none" opacity="0.22"/><path d="M275.2,498.5 Q284.7,502.7 294.2,496.0" stroke="#ffffff" stroke-width="1" fill="none" opacity="0.22"/><path d="M275.2,506.7 Q284.7,510.9 294.2,504.2" stroke="#7d7d7d" stroke-width="1.1" fill="none" opacity="0.22"/><path d="M275.2,508.2 Q284.7,512.4 294.2,505.7" stroke="#ffffff" stroke-width="1" fill="none" opacity="0.22"/><ellipse cx="284.7" cy="427.2" rx="10.0" ry="4.2" fill="#b4b4b4" stroke="#9a9a9a" stroke-width="0.6"/><path d="M294.7,427.2 L294.7,515.0" stroke="#000" stroke-width="2.4" opacity="0.38"/><path d="M274.7,427.2 L274.7,515.0" stroke="#000" stroke-width="1.8" opacity="0.28"/><path d="M274.7,427.2 L274.7,515.0 A10.0,4.2 0 0 0 294.7,515.0 L294.7,427.2 A10.0,4.2 0 0 0 274.7,427.2 Z" fill="#000" opacity="0.20"/></g>
<g opacity="1.0"><path d="M298.5,439.1 L298.5,527.7 A10.0,4.2 0 0 0 318.5,527.7 L318.5,439.1 A10.0,4.2 0 0 0 298.5,439.1 Z" fill="url(#gSprL)" filter="url(#pocket)"/><path d="M299.0,450.4 Q308.5,454.6 318.0,447.9" stroke="#7d7d7d" stroke-width="1.1" fill="none" opacity="0.22"/><path d="M299.0,451.9 Q308.5,456.1 318.0,449.4" stroke="#ffffff" stroke-width="1" fill="none" opacity="0.22"/><path d="M299.0,460.3 Q308.5,464.5 318.0,457.8" stroke="#7d7d7d" stroke-width="1.1" fill="none" opacity="0.22"/><path d="M299.0,461.8 Q308.5,466.0 318.0,459.3" stroke="#ffffff" stroke-width="1" fill="none" opacity="0.22"/><path d="M299.0,470.1 Q308.5,474.3 318.0,467.6" stroke="#7d7d7d" stroke-width="1.1" fill="none" opacity="0.22"/><path d="M299.0,471.6 Q308.5,475.8 318.0,469.1" stroke="#ffffff" stroke-width="1" fill="none" opacity="0.22"/><path d="M299.0,480.0 Q308.5,484.2 318.0,477.5" stroke="#7d7d7d" stroke-width="1.1" fill="none" opacity="0.22"/><path d="M299.0,481.5 Q308.5,485.7 318.0,479.0" stroke="#ffffff" stroke-width="1" fill="none" opacity="0.22"/><path d="M299.0,489.8 Q308.5,494.0 318.0,487.3" stroke="#7d7d7d" stroke-width="1.1" fill="none" opacity="0.22"/><path d="M299.0,491.3 Q308.5,495.5 318.0,488.8" stroke="#ffffff" stroke-width="1" fill="none" opacity="0.22"/><path d="M299.0,499.7 Q308.5,503.9 318.0,497.2" stroke="#7d7d7d" stroke-width="1.1" fill="none" opacity="0.22"/><path d="M299.0,501.2 Q308.5,505.4 318.0,498.7" stroke="#ffffff" stroke-width="1" fill="none" opacity="0.22"/><path d="M299.0,509.5 Q308.5,513.7 318.0,507.0" stroke="#7d7d7d" stroke-width="1.1" fill="none" opacity="0.22"/><path d="M299.0,511.0 Q308.5,515.2 318.0,508.5" stroke="#ffffff" stroke-width="1" fill="none" opacity="0.22"/><path d="M299.0,519.4 Q308.5,523.6 318.0,516.9" stroke="#7d7d7d" stroke-width="1.1" fill="none" opacity="0.22"/><path d="M299.0,520.9 Q308.5,525.1 318.0,518.4" stroke="#ffffff" stroke-width="1" fill="none" opacity="0.22"/><ellipse cx="308.5" cy="439.1" rx="10.0" ry="4.2" fill="#b4b4b4" stroke="#9a9a9a" stroke-width="0.6"/><path d="M318.5,439.1 L318.5,527.7" stroke="#000" stroke-width="2.4" opacity="0.38"/><path d="M298.5,439.1 L298.5,527.7" stroke="#000" stroke-width="1.8" opacity="0.28"/><path d="M298.5,439.1 L298.5,527.7 A10.0,4.2 0 0 0 318.5,527.7 L318.5,439.1 A10.0,4.2 0 0 0 298.5,439.1 Z" fill="#000" opacity="0.18"/></g>
<g opacity="1.0"><path d="M322.3,451.0 L322.3,540.5 A10.0,4.2 0 0 0 342.3,540.5 L342.3,451.0 A10.0,4.2 0 0 0 322.3,451.0 Z" fill="url(#gSprL)" filter="url(#pocket)"/><path d="M322.8,462.4 Q332.3,466.6 341.8,459.9" stroke="#7d7d7d" stroke-width="1.1" fill="none" opacity="0.22"/><path d="M322.8,463.9 Q332.3,468.1 341.8,461.4" stroke="#ffffff" stroke-width="1" fill="none" opacity="0.22"/><path d="M322.8,472.4 Q332.3,476.6 341.8,469.9" stroke="#7d7d7d" stroke-width="1.1" fill="none" opacity="0.22"/><path d="M322.8,473.9 Q332.3,478.1 341.8,471.4" stroke="#ffffff" stroke-width="1" fill="none" opacity="0.22"/><path d="M322.8,482.3 Q332.3,486.5 341.8,479.8" stroke="#7d7d7d" stroke-width="1.1" fill="none" opacity="0.22"/><path d="M322.8,483.8 Q332.3,488.0 341.8,481.3" stroke="#ffffff" stroke-width="1" fill="none" opacity="0.22"/><path d="M322.8,492.3 Q332.3,496.5 341.8,489.8" stroke="#7d7d7d" stroke-width="1.1" fill="none" opacity="0.22"/><path d="M322.8,493.8 Q332.3,498.0 341.8,491.3" stroke="#ffffff" stroke-width="1" fill="none" opacity="0.22"/><path d="M322.8,502.2 Q332.3,506.4 341.8,499.7" stroke="#7d7d7d" stroke-width="1.1" fill="none" opacity="0.22"/><path d="M322.8,503.7 Q332.3,507.9 341.8,501.2" stroke="#ffffff" stroke-width="1" fill="none" opacity="0.22"/><path d="M322.8,512.1 Q332.3,516.3 341.8,509.6" stroke="#7d7d7d" stroke-width="1.1" fill="none" opacity="0.22"/><path d="M322.8,513.6 Q332.3,517.8 341.8,511.1" stroke="#ffffff" stroke-width="1" fill="none" opacity="0.22"/><path d="M322.8,522.1 Q332.3,526.3 341.8,519.6" stroke="#7d7d7d" stroke-width="1.1" fill="none" opacity="0.22"/><path d="M322.8,523.6 Q332.3,527.8 341.8,521.1" stroke="#ffffff" stroke-width="1" fill="none" opacity="0.22"/><path d="M322.8,532.0 Q332.3,536.2 341.8,529.5" stroke="#7d7d7d" stroke-width="1.1" fill="none" opacity="0.22"/><path d="M322.8,533.5 Q332.3,537.7 341.8,531.0" stroke="#ffffff" stroke-width="1" fill="none" opacity="0.22"/><ellipse cx="332.3" cy="451.0" rx="10.0" ry="4.2" fill="#b4b4b4" stroke="#9a9a9a" stroke-width="0.6"/><path d="M342.3,451.0 L342.3,540.5" stroke="#000" stroke-width="2.4" opacity="0.38"/><path d="M322.3,451.0 L322.3,540.5" stroke="#000" stroke-width="1.8" opacity="0.28"/><path d="M322.3,451.0 L322.3,540.5 A10.0,4.2 0 0 0 342.3,540.5 L342.3,451.0 A10.0,4.2 0 0 0 322.3,451.0 Z" fill="#000" opacity="0.16"/></g>
<g opacity="1.0"><path d="M346.1,462.9 L346.1,553.2 A10.0,4.2 0 0 0 366.1,553.2 L366.1,462.9 A10.0,4.2 0 0 0 346.1,462.9 Z" fill="url(#gSprL)" filter="url(#pocket)"/><path d="M346.6,474.4 Q356.1,478.6 365.6,471.9" stroke="#7d7d7d" stroke-width="1.1" fill="none" opacity="0.22"/><path d="M346.6,475.9 Q356.1,480.1 365.6,473.4" stroke="#ffffff" stroke-width="1" fill="none" opacity="0.22"/><path d="M346.6,484.5 Q356.1,488.7 365.6,482.0" stroke="#7d7d7d" stroke-width="1.1" fill="none" opacity="0.22"/><path d="M346.6,486.0 Q356.1,490.2 365.6,483.5" stroke="#ffffff" stroke-width="1" fill="none" opacity="0.22"/><path d="M346.6,494.5 Q356.1,498.7 365.6,492.0" stroke="#7d7d7d" stroke-width="1.1" fill="none" opacity="0.22"/><path d="M346.6,496.0 Q356.1,500.2 365.6,493.5" stroke="#ffffff" stroke-width="1" fill="none" opacity="0.22"/><path d="M346.6,504.5 Q356.1,508.7 365.6,502.0" stroke="#7d7d7d" stroke-width="1.1" fill="none" opacity="0.22"/><path d="M346.6,506.0 Q356.1,510.2 365.6,503.5" stroke="#ffffff" stroke-width="1" fill="none" opacity="0.22"/><path d="M346.6,514.6 Q356.1,518.8 365.6,512.1" stroke="#7d7d7d" stroke-width="1.1" fill="none" opacity="0.22"/><path d="M346.6,516.1 Q356.1,520.3 365.6,513.6" stroke="#ffffff" stroke-width="1" fill="none" opacity="0.22"/><path d="M346.6,524.6 Q356.1,528.8 365.6,522.1" stroke="#7d7d7d" stroke-width="1.1" fill="none" opacity="0.22"/><path d="M346.6,526.1 Q356.1,530.3 365.6,523.6" stroke="#ffffff" stroke-width="1" fill="none" opacity="0.22"/><path d="M346.6,534.6 Q356.1,538.8 365.6,532.1" stroke="#7d7d7d" stroke-width="1.1" fill="none" opacity="0.22"/><path d="M346.6,536.1 Q356.1,540.3 365.6,533.6" stroke="#ffffff" stroke-width="1" fill="none" opacity="0.22"/><path d="M346.6,544.7 Q356.1,548.9 365.6,542.2" stroke="#7d7d7d" stroke-width="1.1" fill="none" opacity="0.22"/><path d="M346.6,546.2 Q356.1,550.4 365.6,543.7" stroke="#ffffff" stroke-width="1" fill="none" opacity="0.22"/><ellipse cx="356.1" cy="462.9" rx="10.0" ry="4.2" fill="#b4b4b4" stroke="#9a9a9a" stroke-width="0.6"/><path d="M366.1,462.9 L366.1,553.2" stroke="#000" stroke-width="2.4" opacity="0.38"/><path d="M346.1,462.9 L346.1,553.2" stroke="#000" stroke-width="1.8" opacity="0.28"/><path d="M346.1,462.9 L346.1,553.2 A10.0,4.2 0 0 0 366.1,553.2 L366.1,462.9 A10.0,4.2 0 0 0 346.1,462.9 Z" fill="#000" opacity="0.14"/></g>
<g opacity="1.0"><path d="M503.2,356.0 L503.2,442.0 A8.5,3.6 0 0 0 520.2,442.0 L520.2,356.0 A8.5,3.6 0 0 0 503.2,356.0 Z" fill="url(#gSprR)" filter="url(#pocket)"/><path d="M503.7,367.1 Q511.7,370.7 519.7,364.6" stroke="#7d7d7d" stroke-width="1.1" fill="none" opacity="0.22"/><path d="M503.7,368.6 Q511.7,372.2 519.7,366.1" stroke="#ffffff" stroke-width="1" fill="none" opacity="0.22"/><path d="M503.7,376.7 Q511.7,380.2 519.7,374.2" stroke="#7d7d7d" stroke-width="1.1" fill="none" opacity="0.22"/><path d="M503.7,378.2 Q511.7,381.7 519.7,375.7" stroke="#ffffff" stroke-width="1" fill="none" opacity="0.22"/><path d="M503.7,386.2 Q511.7,389.8 519.7,383.7" stroke="#7d7d7d" stroke-width="1.1" fill="none" opacity="0.22"/><path d="M503.7,387.7 Q511.7,391.3 519.7,385.2" stroke="#ffffff" stroke-width="1" fill="none" opacity="0.22"/><path d="M503.7,395.8 Q511.7,399.3 519.7,393.3" stroke="#7d7d7d" stroke-width="1.1" fill="none" opacity="0.22"/><path d="M503.7,397.3 Q511.7,400.8 519.7,394.8" stroke="#ffffff" stroke-width="1" fill="none" opacity="0.22"/><path d="M503.7,405.3 Q511.7,408.9 519.7,402.8" stroke="#7d7d7d" stroke-width="1.1" fill="none" opacity="0.22"/><path d="M503.7,406.8 Q511.7,410.4 519.7,404.3" stroke="#ffffff" stroke-width="1" fill="none" opacity="0.22"/><path d="M503.7,414.9 Q511.7,418.4 519.7,412.4" stroke="#7d7d7d" stroke-width="1.1" fill="none" opacity="0.22"/><path d="M503.7,416.4 Q511.7,419.9 519.7,413.9" stroke="#ffffff" stroke-width="1" fill="none" opacity="0.22"/><path d="M503.7,424.4 Q511.7,428.0 519.7,421.9" stroke="#7d7d7d" stroke-width="1.1" fill="none" opacity="0.22"/><path d="M503.7,425.9 Q511.7,429.5 519.7,423.4" stroke="#ffffff" stroke-width="1" fill="none" opacity="0.22"/><path d="M503.7,434.0 Q511.7,437.6 519.7,431.5" stroke="#7d7d7d" stroke-width="1.1" fill="none" opacity="0.22"/><path d="M503.7,435.5 Q511.7,439.1 519.7,433.0" stroke="#ffffff" stroke-width="1" fill="none" opacity="0.22"/><ellipse cx="511.7" cy="356.0" rx="8.5" ry="3.6" fill="#b4b4b4" stroke="#9a9a9a" stroke-width="0.6"/><path d="M520.2,356.0 L520.2,442.0" stroke="#000" stroke-width="2.4" opacity="0.38"/><path d="M503.2,356.0 L503.2,442.0" stroke="#000" stroke-width="1.8" opacity="0.28"/><path d="M503.2,356.0 L503.2,442.0 A8.5,3.6 0 0 0 520.2,442.0 L520.2,356.0 A8.5,3.6 0 0 0 503.2,356.0 Z" fill="#000" opacity="0.34"/></g>
<g opacity="1.0"><path d="M485.7,363.6 L485.7,451.0 A8.5,3.6 0 0 0 502.7,451.0 L502.7,363.6 A8.5,3.6 0 0 0 485.7,363.6 Z" fill="url(#gSprR)" filter="url(#pocket)"/><path d="M486.2,374.9 Q494.2,378.4 502.2,372.4" stroke="#7d7d7d" stroke-width="1.1" fill="none" opacity="0.22"/><path d="M486.2,376.4 Q494.2,379.9 502.2,373.9" stroke="#ffffff" stroke-width="1" fill="none" opacity="0.22"/><path d="M486.2,384.6 Q494.2,388.1 502.2,382.1" stroke="#7d7d7d" stroke-width="1.1" fill="none" opacity="0.22"/><path d="M486.2,386.1 Q494.2,389.6 502.2,383.6" stroke="#ffffff" stroke-width="1" fill="none" opacity="0.22"/><path d="M486.2,394.3 Q494.2,397.8 502.2,391.8" stroke="#7d7d7d" stroke-width="1.1" fill="none" opacity="0.22"/><path d="M486.2,395.8 Q494.2,399.3 502.2,393.3" stroke="#ffffff" stroke-width="1" fill="none" opacity="0.22"/><path d="M486.2,404.0 Q494.2,407.6 502.2,401.5" stroke="#7d7d7d" stroke-width="1.1" fill="none" opacity="0.22"/><path d="M486.2,405.5 Q494.2,409.1 502.2,403.0" stroke="#ffffff" stroke-width="1" fill="none" opacity="0.22"/><path d="M486.2,413.7 Q494.2,417.3 502.2,411.2" stroke="#7d7d7d" stroke-width="1.1" fill="none" opacity="0.22"/><path d="M486.2,415.2 Q494.2,418.8 502.2,412.7" stroke="#ffffff" stroke-width="1" fill="none" opacity="0.22"/><path d="M486.2,423.4 Q494.2,427.0 502.2,420.9" stroke="#7d7d7d" stroke-width="1.1" fill="none" opacity="0.22"/><path d="M486.2,424.9 Q494.2,428.5 502.2,422.4" stroke="#ffffff" stroke-width="1" fill="none" opacity="0.22"/><path d="M486.2,433.1 Q494.2,436.7 502.2,430.6" stroke="#7d7d7d" stroke-width="1.1" fill="none" opacity="0.22"/><path d="M486.2,434.6 Q494.2,438.2 502.2,432.1" stroke="#ffffff" stroke-width="1" fill="none" opacity="0.22"/><path d="M486.2,442.8 Q494.2,446.4 502.2,440.3" stroke="#7d7d7d" stroke-width="1.1" fill="none" opacity="0.22"/><path d="M486.2,444.3 Q494.2,447.9 502.2,441.8" stroke="#ffffff" stroke-width="1" fill="none" opacity="0.22"/><ellipse cx="494.2" cy="363.6" rx="8.5" ry="3.6" fill="#b4b4b4" stroke="#9a9a9a" stroke-width="0.6"/><path d="M502.7,363.6 L502.7,451.0" stroke="#000" stroke-width="2.4" opacity="0.38"/><path d="M485.7,363.6 L485.7,451.0" stroke="#000" stroke-width="1.8" opacity="0.28"/><path d="M485.7,363.6 L485.7,451.0 A8.5,3.6 0 0 0 502.7,451.0 L502.7,363.6 A8.5,3.6 0 0 0 485.7,363.6 Z" fill="#000" opacity="0.32"/></g>
<g opacity="1.0"><path d="M469.7,371.0 L469.7,459.9 A8.5,3.6 0 0 0 486.7,459.9 L486.7,371.0 A8.5,3.6 0 0 0 469.7,371.0 Z" fill="url(#gSprR)" filter="url(#pocket)"/><path d="M470.2,382.4 Q478.2,386.0 486.2,379.9" stroke="#7d7d7d" stroke-width="1.1" fill="none" opacity="0.22"/><path d="M470.2,383.9 Q478.2,387.5 486.2,381.4" stroke="#ffffff" stroke-width="1" fill="none" opacity="0.22"/><path d="M470.2,392.3 Q478.2,395.9 486.2,389.8" stroke="#7d7d7d" stroke-width="1.1" fill="none" opacity="0.22"/><path d="M470.2,393.8 Q478.2,397.4 486.2,391.3" stroke="#ffffff" stroke-width="1" fill="none" opacity="0.22"/><path d="M470.2,402.2 Q478.2,405.7 486.2,399.7" stroke="#7d7d7d" stroke-width="1.1" fill="none" opacity="0.22"/><path d="M470.2,403.7 Q478.2,407.2 486.2,401.2" stroke="#ffffff" stroke-width="1" fill="none" opacity="0.22"/><path d="M470.2,412.1 Q478.2,415.6 486.2,409.6" stroke="#7d7d7d" stroke-width="1.1" fill="none" opacity="0.22"/><path d="M470.2,413.6 Q478.2,417.1 486.2,411.1" stroke="#ffffff" stroke-width="1" fill="none" opacity="0.22"/><path d="M470.2,421.9 Q478.2,425.5 486.2,419.4" stroke="#7d7d7d" stroke-width="1.1" fill="none" opacity="0.22"/><path d="M470.2,423.4 Q478.2,427.0 486.2,420.9" stroke="#ffffff" stroke-width="1" fill="none" opacity="0.22"/><path d="M470.2,431.8 Q478.2,435.4 486.2,429.3" stroke="#7d7d7d" stroke-width="1.1" fill="none" opacity="0.22"/><path d="M470.2,433.3 Q478.2,436.9 486.2,430.8" stroke="#ffffff" stroke-width="1" fill="none" opacity="0.22"/><path d="M470.2,441.7 Q478.2,445.3 486.2,439.2" stroke="#7d7d7d" stroke-width="1.1" fill="none" opacity="0.22"/><path d="M470.2,443.2 Q478.2,446.8 486.2,440.7" stroke="#ffffff" stroke-width="1" fill="none" opacity="0.22"/><path d="M470.2,451.6 Q478.2,455.1 486.2,449.1" stroke="#7d7d7d" stroke-width="1.1" fill="none" opacity="0.22"/><path d="M470.2,453.1 Q478.2,456.6 486.2,450.6" stroke="#ffffff" stroke-width="1" fill="none" opacity="0.22"/><ellipse cx="478.2" cy="371.0" rx="8.5" ry="3.6" fill="#b4b4b4" stroke="#9a9a9a" stroke-width="0.6"/><path d="M486.7,371.0 L486.7,459.9" stroke="#000" stroke-width="2.4" opacity="0.38"/><path d="M469.7,371.0 L469.7,459.9" stroke="#000" stroke-width="1.8" opacity="0.28"/><path d="M469.7,371.0 L469.7,459.9 A8.5,3.6 0 0 0 486.7,459.9 L486.7,371.0 A8.5,3.6 0 0 0 469.7,371.0 Z" fill="#000" opacity="0.30"/></g>
<g opacity="1.0"><path d="M452.9,382.6 L452.9,470.7 A8.5,3.6 0 0 0 469.9,470.7 L469.9,382.6 A8.5,3.6 0 0 0 452.9,382.6 Z" fill="url(#gBlue)" filter="url(#pocketB)"/><path d="M453.7,392.1 Q462.4,391.1 469.1,386.7" stroke="#6fabe0" stroke-width="1.7" fill="none" opacity="0.5"/><path d="M453.7,398.4 Q462.4,397.4 469.1,393.0" stroke="#6fabe0" stroke-width="1.7" fill="none" opacity="0.5"/><path d="M453.7,404.7 Q462.4,403.7 469.1,399.3" stroke="#6fabe0" stroke-width="1.7" fill="none" opacity="0.5"/><path d="M453.7,411.0 Q462.4,410.0 469.1,405.6" stroke="#6fabe0" stroke-width="1.7" fill="none" opacity="0.5"/><path d="M453.7,417.3 Q462.4,416.3 469.1,411.9" stroke="#6fabe0" stroke-width="1.7" fill="none" opacity="0.5"/><path d="M453.7,423.6 Q462.4,422.6 469.1,418.2" stroke="#6fabe0" stroke-width="1.7" fill="none" opacity="0.5"/><path d="M453.7,429.9 Q462.4,428.9 469.1,424.5" stroke="#6fabe0" stroke-width="1.7" fill="none" opacity="0.5"/><path d="M453.7,436.2 Q462.4,435.2 469.1,430.8" stroke="#6fabe0" stroke-width="1.7" fill="none" opacity="0.5"/><path d="M453.7,442.5 Q462.4,441.5 469.1,437.1" stroke="#6fabe0" stroke-width="1.7" fill="none" opacity="0.5"/><path d="M453.7,448.8 Q462.4,447.8 469.1,443.4" stroke="#6fabe0" stroke-width="1.7" fill="none" opacity="0.5"/><path d="M453.7,455.1 Q462.4,454.1 469.1,449.7" stroke="#6fabe0" stroke-width="1.7" fill="none" opacity="0.5"/><path d="M453.7,461.4 Q462.4,460.4 469.1,456.0" stroke="#6fabe0" stroke-width="1.7" fill="none" opacity="0.5"/><path d="M453.7,467.6 Q462.4,466.6 469.1,462.2" stroke="#6fabe0" stroke-width="1.7" fill="none" opacity="0.5"/><ellipse cx="461.4" cy="382.6" rx="8.5" ry="3.6" fill="#2b67a2" stroke="#1e66ad" stroke-width="0.6"/><path d="M469.9,382.6 L469.9,470.7" stroke="#000" stroke-width="2.4" opacity="0.38"/><path d="M452.9,382.6 L452.9,470.7" stroke="#000" stroke-width="1.8" opacity="0.28"/><path d="M452.9,382.6 L452.9,470.7 A8.5,3.6 0 0 0 469.9,470.7 L469.9,382.6 A8.5,3.6 0 0 0 452.9,382.6 Z" fill="#000" opacity="0.28"/></g>
<g opacity="1.0"><path d="M435.5,390.0 L435.5,479.5 A8.5,3.6 0 0 0 452.5,479.5 L452.5,390.0 A8.5,3.6 0 0 0 435.5,390.0 Z" fill="url(#gBlue)" filter="url(#pocketB)"/><path d="M436.3,399.6 Q445.0,398.6 451.7,394.2" stroke="#6fabe0" stroke-width="1.7" fill="none" opacity="0.5"/><path d="M436.3,406.0 Q445.0,405.0 451.7,400.6" stroke="#6fabe0" stroke-width="1.7" fill="none" opacity="0.5"/><path d="M436.3,412.4 Q445.0,411.4 451.7,407.0" stroke="#6fabe0" stroke-width="1.7" fill="none" opacity="0.5"/><path d="M436.3,418.8 Q445.0,417.8 451.7,413.4" stroke="#6fabe0" stroke-width="1.7" fill="none" opacity="0.5"/><path d="M436.3,425.2 Q445.0,424.2 451.7,419.8" stroke="#6fabe0" stroke-width="1.7" fill="none" opacity="0.5"/><path d="M436.3,431.6 Q445.0,430.6 451.7,426.2" stroke="#6fabe0" stroke-width="1.7" fill="none" opacity="0.5"/><path d="M436.3,438.0 Q445.0,437.0 451.7,432.6" stroke="#6fabe0" stroke-width="1.7" fill="none" opacity="0.5"/><path d="M436.3,444.4 Q445.0,443.4 451.7,439.0" stroke="#6fabe0" stroke-width="1.7" fill="none" opacity="0.5"/><path d="M436.3,450.8 Q445.0,449.8 451.7,445.4" stroke="#6fabe0" stroke-width="1.7" fill="none" opacity="0.5"/><path d="M436.3,457.2 Q445.0,456.2 451.7,451.8" stroke="#6fabe0" stroke-width="1.7" fill="none" opacity="0.5"/><path d="M436.3,463.6 Q445.0,462.6 451.7,458.2" stroke="#6fabe0" stroke-width="1.7" fill="none" opacity="0.5"/><path d="M436.3,470.0 Q445.0,469.0 451.7,464.6" stroke="#6fabe0" stroke-width="1.7" fill="none" opacity="0.5"/><path d="M436.3,476.3 Q445.0,475.3 451.7,470.9" stroke="#6fabe0" stroke-width="1.7" fill="none" opacity="0.5"/><ellipse cx="444.0" cy="390.0" rx="8.5" ry="3.6" fill="#2b67a2" stroke="#1e66ad" stroke-width="0.6"/><path d="M452.5,390.0 L452.5,479.5" stroke="#000" stroke-width="2.4" opacity="0.38"/><path d="M435.5,390.0 L435.5,479.5" stroke="#000" stroke-width="1.8" opacity="0.28"/><path d="M435.5,390.0 L435.5,479.5 A8.5,3.6 0 0 0 452.5,479.5 L452.5,390.0 A8.5,3.6 0 0 0 435.5,390.0 Z" fill="#000" opacity="0.26"/></g>
<g opacity="1.0"><path d="M417.9,400.0 L417.9,489.7 A8.5,3.6 0 0 0 434.9,489.7 L434.9,400.0 A8.5,3.6 0 0 0 417.9,400.0 Z" fill="url(#gBlue)" filter="url(#pocketB)"/><path d="M418.7,409.6 Q427.4,408.6 434.1,404.2" stroke="#6fabe0" stroke-width="1.7" fill="none" opacity="0.5"/><path d="M418.7,416.1 Q427.4,415.1 434.1,410.7" stroke="#6fabe0" stroke-width="1.7" fill="none" opacity="0.5"/><path d="M418.7,422.5 Q427.4,421.5 434.1,417.1" stroke="#6fabe0" stroke-width="1.7" fill="none" opacity="0.5"/><path d="M418.7,428.9 Q427.4,427.9 434.1,423.5" stroke="#6fabe0" stroke-width="1.7" fill="none" opacity="0.5"/><path d="M418.7,435.3 Q427.4,434.3 434.1,429.9" stroke="#6fabe0" stroke-width="1.7" fill="none" opacity="0.5"/><path d="M418.7,441.7 Q427.4,440.7 434.1,436.3" stroke="#6fabe0" stroke-width="1.7" fill="none" opacity="0.5"/><path d="M418.7,448.1 Q427.4,447.1 434.1,442.7" stroke="#6fabe0" stroke-width="1.7" fill="none" opacity="0.5"/><path d="M418.7,454.5 Q427.4,453.5 434.1,449.1" stroke="#6fabe0" stroke-width="1.7" fill="none" opacity="0.5"/><path d="M418.7,460.9 Q427.4,459.9 434.1,455.5" stroke="#6fabe0" stroke-width="1.7" fill="none" opacity="0.5"/><path d="M418.7,467.3 Q427.4,466.3 434.1,461.9" stroke="#6fabe0" stroke-width="1.7" fill="none" opacity="0.5"/><path d="M418.7,473.7 Q427.4,472.7 434.1,468.3" stroke="#6fabe0" stroke-width="1.7" fill="none" opacity="0.5"/><path d="M418.7,480.1 Q427.4,479.1 434.1,474.7" stroke="#6fabe0" stroke-width="1.7" fill="none" opacity="0.5"/><path d="M418.7,486.5 Q427.4,485.5 434.1,481.1" stroke="#6fabe0" stroke-width="1.7" fill="none" opacity="0.5"/><ellipse cx="426.4" cy="400.0" rx="8.5" ry="3.6" fill="#2b67a2" stroke="#1e66ad" stroke-width="0.6"/><path d="M434.9,400.0 L434.9,489.7" stroke="#000" stroke-width="2.4" opacity="0.38"/><path d="M417.9,400.0 L417.9,489.7" stroke="#000" stroke-width="1.8" opacity="0.28"/><path d="M417.9,400.0 L417.9,489.7 A8.5,3.6 0 0 0 434.9,489.7 L434.9,400.0 A8.5,3.6 0 0 0 417.9,400.0 Z" fill="#000" opacity="0.24"/></g>
<g opacity="1.0"><path d="M400.5,410.0 L400.5,498.4 A8.5,3.6 0 0 0 417.5,498.4 L417.5,410.0 A8.5,3.6 0 0 0 400.5,410.0 Z" fill="url(#gBlue)" filter="url(#pocketB)"/><path d="M401.3,419.6 Q410.0,418.6 416.7,414.2" stroke="#6fabe0" stroke-width="1.7" fill="none" opacity="0.5"/><path d="M401.3,425.9 Q410.0,424.9 416.7,420.5" stroke="#6fabe0" stroke-width="1.7" fill="none" opacity="0.5"/><path d="M401.3,432.2 Q410.0,431.2 416.7,426.8" stroke="#6fabe0" stroke-width="1.7" fill="none" opacity="0.5"/><path d="M401.3,438.5 Q410.0,437.5 416.7,433.1" stroke="#6fabe0" stroke-width="1.7" fill="none" opacity="0.5"/><path d="M401.3,444.8 Q410.0,443.8 416.7,439.4" stroke="#6fabe0" stroke-width="1.7" fill="none" opacity="0.5"/><path d="M401.3,451.1 Q410.0,450.1 416.7,445.7" stroke="#6fabe0" stroke-width="1.7" fill="none" opacity="0.5"/><path d="M401.3,457.4 Q410.0,456.4 416.7,452.0" stroke="#6fabe0" stroke-width="1.7" fill="none" opacity="0.5"/><path d="M401.3,463.8 Q410.0,462.8 416.7,458.4" stroke="#6fabe0" stroke-width="1.7" fill="none" opacity="0.5"/><path d="M401.3,470.1 Q410.0,469.1 416.7,464.7" stroke="#6fabe0" stroke-width="1.7" fill="none" opacity="0.5"/><path d="M401.3,476.4 Q410.0,475.4 416.7,471.0" stroke="#6fabe0" stroke-width="1.7" fill="none" opacity="0.5"/><path d="M401.3,482.7 Q410.0,481.7 416.7,477.3" stroke="#6fabe0" stroke-width="1.7" fill="none" opacity="0.5"/><path d="M401.3,489.0 Q410.0,488.0 416.7,483.6" stroke="#6fabe0" stroke-width="1.7" fill="none" opacity="0.5"/><path d="M401.3,495.3 Q410.0,494.3 416.7,489.9" stroke="#6fabe0" stroke-width="1.7" fill="none" opacity="0.5"/><ellipse cx="409.0" cy="410.0" rx="8.5" ry="3.6" fill="#2b67a2" stroke="#1e66ad" stroke-width="0.6"/><path d="M417.5,410.0 L417.5,498.4" stroke="#000" stroke-width="2.4" opacity="0.38"/><path d="M400.5,410.0 L400.5,498.4" stroke="#000" stroke-width="1.8" opacity="0.28"/><path d="M400.5,410.0 L400.5,498.4 A8.5,3.6 0 0 0 417.5,498.4 L417.5,410.0 A8.5,3.6 0 0 0 400.5,410.0 Z" fill="#000" opacity="0.22"/></g>
<g opacity="1.0"><path d="M382.9,420.5 L382.9,508.6 A8.5,3.6 0 0 0 399.9,508.6 L399.9,420.5 A8.5,3.6 0 0 0 382.9,420.5 Z" fill="url(#gBlue)" filter="url(#pocketB)"/><path d="M383.7,430.0 Q392.4,429.0 399.1,424.6" stroke="#6fabe0" stroke-width="1.7" fill="none" opacity="0.5"/><path d="M383.7,436.3 Q392.4,435.3 399.1,430.9" stroke="#6fabe0" stroke-width="1.7" fill="none" opacity="0.5"/><path d="M383.7,442.6 Q392.4,441.6 399.1,437.2" stroke="#6fabe0" stroke-width="1.7" fill="none" opacity="0.5"/><path d="M383.7,448.9 Q392.4,447.9 399.1,443.5" stroke="#6fabe0" stroke-width="1.7" fill="none" opacity="0.5"/><path d="M383.7,455.2 Q392.4,454.2 399.1,449.8" stroke="#6fabe0" stroke-width="1.7" fill="none" opacity="0.5"/><path d="M383.7,461.5 Q392.4,460.5 399.1,456.1" stroke="#6fabe0" stroke-width="1.7" fill="none" opacity="0.5"/><path d="M383.7,467.8 Q392.4,466.8 399.1,462.4" stroke="#6fabe0" stroke-width="1.7" fill="none" opacity="0.5"/><path d="M383.7,474.1 Q392.4,473.1 399.1,468.7" stroke="#6fabe0" stroke-width="1.7" fill="none" opacity="0.5"/><path d="M383.7,480.4 Q392.4,479.4 399.1,475.0" stroke="#6fabe0" stroke-width="1.7" fill="none" opacity="0.5"/><path d="M383.7,486.7 Q392.4,485.7 399.1,481.3" stroke="#6fabe0" stroke-width="1.7" fill="none" opacity="0.5"/><path d="M383.7,493.0 Q392.4,492.0 399.1,487.6" stroke="#6fabe0" stroke-width="1.7" fill="none" opacity="0.5"/><path d="M383.7,499.3 Q392.4,498.3 399.1,493.9" stroke="#6fabe0" stroke-width="1.7" fill="none" opacity="0.5"/><path d="M383.7,505.5 Q392.4,504.5 399.1,500.1" stroke="#6fabe0" stroke-width="1.7" fill="none" opacity="0.5"/><ellipse cx="391.4" cy="420.5" rx="8.5" ry="3.6" fill="#2b67a2" stroke="#1e66ad" stroke-width="0.6"/><path d="M399.9,420.5 L399.9,508.6" stroke="#000" stroke-width="2.4" opacity="0.38"/><path d="M382.9,420.5 L382.9,508.6" stroke="#000" stroke-width="1.8" opacity="0.28"/><path d="M382.9,420.5 L382.9,508.6 A8.5,3.6 0 0 0 399.9,508.6 L399.9,420.5 A8.5,3.6 0 0 0 382.9,420.5 Z" fill="#000" opacity="0.20"/></g>
<g opacity="1.0"><path d="M364.1,429.0 L364.1,518.8 A8.5,3.6 0 0 0 381.1,518.8 L381.1,429.0 A8.5,3.6 0 0 0 364.1,429.0 Z" fill="url(#gSprR)" filter="url(#pocket)"/><path d="M364.6,440.5 Q372.6,444.1 380.6,438.0" stroke="#7d7d7d" stroke-width="1.1" fill="none" opacity="0.22"/><path d="M364.6,442.0 Q372.6,445.6 380.6,439.5" stroke="#ffffff" stroke-width="1" fill="none" opacity="0.22"/><path d="M364.6,450.5 Q372.6,454.1 380.6,448.0" stroke="#7d7d7d" stroke-width="1.1" fill="none" opacity="0.22"/><path d="M364.6,452.0 Q372.6,455.6 380.6,449.5" stroke="#ffffff" stroke-width="1" fill="none" opacity="0.22"/><path d="M364.6,460.5 Q372.6,464.0 380.6,458.0" stroke="#7d7d7d" stroke-width="1.1" fill="none" opacity="0.22"/><path d="M364.6,462.0 Q372.6,465.5 380.6,459.5" stroke="#ffffff" stroke-width="1" fill="none" opacity="0.22"/><path d="M364.6,470.5 Q372.6,474.0 380.6,468.0" stroke="#7d7d7d" stroke-width="1.1" fill="none" opacity="0.22"/><path d="M364.6,472.0 Q372.6,475.5 380.6,469.5" stroke="#ffffff" stroke-width="1" fill="none" opacity="0.22"/><path d="M364.6,480.4 Q372.6,484.0 380.6,477.9" stroke="#7d7d7d" stroke-width="1.1" fill="none" opacity="0.22"/><path d="M364.6,481.9 Q372.6,485.5 380.6,479.4" stroke="#ffffff" stroke-width="1" fill="none" opacity="0.22"/><path d="M364.6,490.4 Q372.6,494.0 380.6,487.9" stroke="#7d7d7d" stroke-width="1.1" fill="none" opacity="0.22"/><path d="M364.6,491.9 Q372.6,495.5 380.6,489.4" stroke="#ffffff" stroke-width="1" fill="none" opacity="0.22"/><path d="M364.6,500.4 Q372.6,504.0 380.6,497.9" stroke="#7d7d7d" stroke-width="1.1" fill="none" opacity="0.22"/><path d="M364.6,501.9 Q372.6,505.5 380.6,499.4" stroke="#ffffff" stroke-width="1" fill="none" opacity="0.22"/><path d="M364.6,510.4 Q372.6,513.9 380.6,507.9" stroke="#7d7d7d" stroke-width="1.1" fill="none" opacity="0.22"/><path d="M364.6,511.9 Q372.6,515.4 380.6,509.4" stroke="#ffffff" stroke-width="1" fill="none" opacity="0.22"/><ellipse cx="372.6" cy="429.0" rx="8.5" ry="3.6" fill="#b4b4b4" stroke="#9a9a9a" stroke-width="0.6"/><path d="M381.1,429.0 L381.1,518.8" stroke="#000" stroke-width="2.4" opacity="0.38"/><path d="M364.1,429.0 L364.1,518.8" stroke="#000" stroke-width="1.8" opacity="0.28"/><path d="M364.1,429.0 L364.1,518.8 A8.5,3.6 0 0 0 381.1,518.8 L381.1,429.0 A8.5,3.6 0 0 0 364.1,429.0 Z" fill="#000" opacity="0.18"/></g>
<g opacity="1.0"><path d="M345.1,438.0 L345.1,530.5 A8.5,3.6 0 0 0 362.1,530.5 L362.1,438.0 A8.5,3.6 0 0 0 345.1,438.0 Z" fill="url(#gSprR)" filter="url(#pocket)"/><path d="M345.6,449.8 Q353.6,453.4 361.6,447.3" stroke="#7d7d7d" stroke-width="1.1" fill="none" opacity="0.22"/><path d="M345.6,451.3 Q353.6,454.9 361.6,448.8" stroke="#ffffff" stroke-width="1" fill="none" opacity="0.22"/><path d="M345.6,460.1 Q353.6,463.7 361.6,457.6" stroke="#7d7d7d" stroke-width="1.1" fill="none" opacity="0.22"/><path d="M345.6,461.6 Q353.6,465.2 361.6,459.1" stroke="#ffffff" stroke-width="1" fill="none" opacity="0.22"/><path d="M345.6,470.4 Q353.6,473.9 361.6,467.9" stroke="#7d7d7d" stroke-width="1.1" fill="none" opacity="0.22"/><path d="M345.6,471.9 Q353.6,475.4 361.6,469.4" stroke="#ffffff" stroke-width="1" fill="none" opacity="0.22"/><path d="M345.6,480.7 Q353.6,484.2 361.6,478.2" stroke="#7d7d7d" stroke-width="1.1" fill="none" opacity="0.22"/><path d="M345.6,482.2 Q353.6,485.7 361.6,479.7" stroke="#ffffff" stroke-width="1" fill="none" opacity="0.22"/><path d="M345.6,490.9 Q353.6,494.5 361.6,488.4" stroke="#7d7d7d" stroke-width="1.1" fill="none" opacity="0.22"/><path d="M345.6,492.4 Q353.6,496.0 361.6,489.9" stroke="#ffffff" stroke-width="1" fill="none" opacity="0.22"/><path d="M345.6,501.2 Q353.6,504.8 361.6,498.7" stroke="#7d7d7d" stroke-width="1.1" fill="none" opacity="0.22"/><path d="M345.6,502.7 Q353.6,506.3 361.6,500.2" stroke="#ffffff" stroke-width="1" fill="none" opacity="0.22"/><path d="M345.6,511.5 Q353.6,515.1 361.6,509.0" stroke="#7d7d7d" stroke-width="1.1" fill="none" opacity="0.22"/><path d="M345.6,513.0 Q353.6,516.6 361.6,510.5" stroke="#ffffff" stroke-width="1" fill="none" opacity="0.22"/><path d="M345.6,521.8 Q353.6,525.3 361.6,519.3" stroke="#7d7d7d" stroke-width="1.1" fill="none" opacity="0.22"/><path d="M345.6,523.3 Q353.6,526.8 361.6,520.8" stroke="#ffffff" stroke-width="1" fill="none" opacity="0.22"/><ellipse cx="353.6" cy="438.0" rx="8.5" ry="3.6" fill="#b4b4b4" stroke="#9a9a9a" stroke-width="0.6"/><path d="M362.1,438.0 L362.1,530.5" stroke="#000" stroke-width="2.4" opacity="0.38"/><path d="M345.1,438.0 L345.1,530.5" stroke="#000" stroke-width="1.8" opacity="0.28"/><path d="M345.1,438.0 L345.1,530.5 A8.5,3.6 0 0 0 362.1,530.5 L362.1,438.0 A8.5,3.6 0 0 0 345.1,438.0 Z" fill="#000" opacity="0.16"/></g>
<g opacity="1.0"><path d="M324.7,446.7 L324.7,540.7 A8.5,3.6 0 0 0 341.7,540.7 L341.7,446.7 A8.5,3.6 0 0 0 324.7,446.7 Z" fill="url(#gSprR)" filter="url(#pocket)"/><path d="M325.2,458.7 Q333.2,462.3 341.2,456.2" stroke="#7d7d7d" stroke-width="1.1" fill="none" opacity="0.22"/><path d="M325.2,460.2 Q333.2,463.8 341.2,457.7" stroke="#ffffff" stroke-width="1" fill="none" opacity="0.22"/><path d="M325.2,469.1 Q333.2,472.7 341.2,466.6" stroke="#7d7d7d" stroke-width="1.1" fill="none" opacity="0.22"/><path d="M325.2,470.6 Q333.2,474.2 341.2,468.1" stroke="#ffffff" stroke-width="1" fill="none" opacity="0.22"/><path d="M325.2,479.6 Q333.2,483.1 341.2,477.1" stroke="#7d7d7d" stroke-width="1.1" fill="none" opacity="0.22"/><path d="M325.2,481.1 Q333.2,484.6 341.2,478.6" stroke="#ffffff" stroke-width="1" fill="none" opacity="0.22"/><path d="M325.2,490.0 Q333.2,493.6 341.2,487.5" stroke="#7d7d7d" stroke-width="1.1" fill="none" opacity="0.22"/><path d="M325.2,491.5 Q333.2,495.1 341.2,489.0" stroke="#ffffff" stroke-width="1" fill="none" opacity="0.22"/><path d="M325.2,500.5 Q333.2,504.0 341.2,498.0" stroke="#7d7d7d" stroke-width="1.1" fill="none" opacity="0.22"/><path d="M325.2,502.0 Q333.2,505.5 341.2,499.5" stroke="#ffffff" stroke-width="1" fill="none" opacity="0.22"/><path d="M325.2,510.9 Q333.2,514.5 341.2,508.4" stroke="#7d7d7d" stroke-width="1.1" fill="none" opacity="0.22"/><path d="M325.2,512.4 Q333.2,516.0 341.2,509.9" stroke="#ffffff" stroke-width="1" fill="none" opacity="0.22"/><path d="M325.2,521.4 Q333.2,524.9 341.2,518.9" stroke="#7d7d7d" stroke-width="1.1" fill="none" opacity="0.22"/><path d="M325.2,522.9 Q333.2,526.4 341.2,520.4" stroke="#ffffff" stroke-width="1" fill="none" opacity="0.22"/><path d="M325.2,531.8 Q333.2,535.4 341.2,529.3" stroke="#7d7d7d" stroke-width="1.1" fill="none" opacity="0.22"/><path d="M325.2,533.3 Q333.2,536.9 341.2,530.8" stroke="#ffffff" stroke-width="1" fill="none" opacity="0.22"/><ellipse cx="333.2" cy="446.7" rx="8.5" ry="3.6" fill="#b4b4b4" stroke="#9a9a9a" stroke-width="0.6"/><path d="M341.7,446.7 L341.7,540.7" stroke="#000" stroke-width="2.4" opacity="0.38"/><path d="M324.7,446.7 L324.7,540.7" stroke="#000" stroke-width="1.8" opacity="0.28"/><path d="M324.7,446.7 L324.7,540.7 A8.5,3.6 0 0 0 341.7,540.7 L341.7,446.7 A8.5,3.6 0 0 0 324.7,446.7 Z" fill="#000" opacity="0.14"/></g>
<g opacity="1.0" fill="none"><path d="M134.4,374.0 L134.4,458.5 A9.0,3.1 0 0 0 152.4,458.5 L152.4,374.0 A9.0,3.1 0 0 0 134.4,374.0 Z" fill="#c0c0c0" opacity="0.82"/><path d="M151.6,374.0 L150.8,375.9 L148.5,377.5 L145.2,378.6 L141.6,379.2 L138.3,379.1 L136.0,378.6 L135.2,377.8" stroke="#858585" stroke-width="1.25"/><path d="M135.2,377.8 L136.0,377.1 L138.3,376.5 L141.6,376.5 L145.2,377.1 L148.5,378.2 L150.8,379.8 L151.6,381.7" stroke="#b4b4b4" stroke-width="0.9"/><path d="M151.6,381.7 L150.8,383.6 L148.5,385.2 L145.2,386.3 L141.6,386.9 L138.3,386.8 L136.0,386.3 L135.2,385.5" stroke="#858585" stroke-width="1.25"/><path d="M135.2,385.5 L136.0,384.7 L138.3,384.2 L141.6,384.2 L145.2,384.7 L148.5,385.9 L150.8,387.5 L151.6,389.4" stroke="#b4b4b4" stroke-width="0.9"/><path d="M151.6,389.4 L150.8,391.2 L148.5,392.9 L145.2,394.0 L141.6,394.5 L138.3,394.5 L136.0,394.0 L135.2,393.2" stroke="#858585" stroke-width="1.25"/><path d="M135.2,393.2 L136.0,392.4 L138.3,391.9 L141.6,391.9 L145.2,392.4 L148.5,393.6 L150.8,395.2 L151.6,397.0" stroke="#b4b4b4" stroke-width="0.9"/><path d="M151.6,397.0 L150.8,398.9 L148.5,400.5 L145.2,401.7 L141.6,402.2 L138.3,402.2 L136.0,401.7 L135.2,400.9" stroke="#858585" stroke-width="1.25"/><path d="M135.2,400.9 L136.0,400.1 L138.3,399.6 L141.6,399.5 L145.2,400.1 L148.5,401.2 L150.8,402.9 L151.6,404.7" stroke="#b4b4b4" stroke-width="0.9"/><path d="M151.6,404.7 L150.8,406.6 L148.5,408.2 L145.2,409.4 L141.6,409.9 L138.3,409.9 L136.0,409.3 L135.2,408.6" stroke="#858585" stroke-width="1.25"/><path d="M135.2,408.6 L136.0,407.8 L138.3,407.3 L141.6,407.2 L145.2,407.8 L148.5,408.9 L150.8,410.5 L151.6,412.4" stroke="#b4b4b4" stroke-width="0.9"/><path d="M151.6,412.4 L150.8,414.3 L148.5,415.9 L145.2,417.0 L141.6,417.6 L138.3,417.5 L136.0,417.0 L135.2,416.2" stroke="#858585" stroke-width="1.25"/><path d="M135.2,416.2 L136.0,415.5 L138.3,415.0 L141.6,414.9 L145.2,415.5 L148.5,416.6 L150.8,418.2 L151.6,420.1" stroke="#b4b4b4" stroke-width="0.9"/><path d="M151.6,420.1 L150.8,422.0 L148.5,423.6 L145.2,424.7 L141.6,425.3 L138.3,425.2 L136.0,424.7 L135.2,423.9" stroke="#858585" stroke-width="1.25"/><path d="M135.2,423.9 L136.0,423.2 L138.3,422.6 L141.6,422.6 L145.2,423.1 L148.5,424.3 L150.8,425.9 L151.6,427.8" stroke="#b4b4b4" stroke-width="0.9"/><path d="M151.6,427.8 L150.8,429.6 L148.5,431.3 L145.2,432.4 L141.6,433.0 L138.3,432.9 L136.0,432.4 L135.2,431.6" stroke="#858585" stroke-width="1.25"/><path d="M135.2,431.6 L136.0,430.8 L138.3,430.3 L141.6,430.3 L145.2,430.8 L148.5,432.0 L150.8,433.6 L151.6,435.5" stroke="#b4b4b4" stroke-width="0.9"/><path d="M151.6,435.5 L150.8,437.3 L148.5,438.9 L145.2,440.1 L141.6,440.6 L138.3,440.6 L136.0,440.1 L135.2,439.3" stroke="#858585" stroke-width="1.25"/><path d="M135.2,439.3 L136.0,438.5 L138.3,438.0 L141.6,438.0 L145.2,438.5 L148.5,439.6 L150.8,441.3 L151.6,443.1" stroke="#b4b4b4" stroke-width="0.9"/><path d="M151.6,443.1 L150.8,445.0 L148.5,446.6 L145.2,447.8 L141.6,448.3 L138.3,448.3 L136.0,447.8 L135.2,447.0" stroke="#858585" stroke-width="1.25"/><path d="M135.2,447.0 L136.0,446.2 L138.3,445.7 L141.6,445.6 L145.2,446.2 L148.5,447.3 L150.8,448.9 L151.6,450.8" stroke="#b4b4b4" stroke-width="0.9"/><path d="M151.6,450.8 L150.8,452.7 L148.5,454.3 L145.2,455.4 L141.6,456.0 L138.3,456.0 L136.0,455.4 L135.2,454.7" stroke="#858585" stroke-width="1.25"/><path d="M135.2,454.7 L136.0,453.9 L138.3,453.4 L141.6,453.3 L145.2,453.9 L148.5,455.0 L150.8,456.6 L151.6,458.5" stroke="#b4b4b4" stroke-width="0.9"/><ellipse cx="143.4" cy="374.0" rx="9.0" ry="3.1" fill="#c4c4c4" opacity="0.55" stroke="#a2a2a2" stroke-width="0.7"/></g>
<g opacity="1.0"><path d="M161.6,413.0 L161.6,474.8 A9.8,4.1 0 0 0 181.1,474.8 L181.1,413.0 A9.8,4.1 0 0 0 161.6,413.0 Z" fill="url(#gSprL)" filter="url(#pocket)"/><path d="M162.1,421.4 Q171.3,425.5 180.6,418.9" stroke="#7d7d7d" stroke-width="1.1" fill="none" opacity="0.22"/><path d="M162.1,422.9 Q171.3,427.0 180.6,420.4" stroke="#ffffff" stroke-width="1" fill="none" opacity="0.22"/><path d="M162.1,428.2 Q171.3,432.3 180.6,425.7" stroke="#7d7d7d" stroke-width="1.1" fill="none" opacity="0.22"/><path d="M162.1,429.7 Q171.3,433.8 180.6,427.2" stroke="#ffffff" stroke-width="1" fill="none" opacity="0.22"/><path d="M162.1,435.1 Q171.3,439.2 180.6,432.6" stroke="#7d7d7d" stroke-width="1.1" fill="none" opacity="0.22"/><path d="M162.1,436.6 Q171.3,440.7 180.6,434.1" stroke="#ffffff" stroke-width="1" fill="none" opacity="0.22"/><path d="M162.1,441.9 Q171.3,446.0 180.6,439.4" stroke="#7d7d7d" stroke-width="1.1" fill="none" opacity="0.22"/><path d="M162.1,443.4 Q171.3,447.5 180.6,440.9" stroke="#ffffff" stroke-width="1" fill="none" opacity="0.22"/><path d="M162.1,448.8 Q171.3,452.9 180.6,446.3" stroke="#7d7d7d" stroke-width="1.1" fill="none" opacity="0.22"/><path d="M162.1,450.3 Q171.3,454.4 180.6,447.8" stroke="#ffffff" stroke-width="1" fill="none" opacity="0.22"/><path d="M162.1,455.7 Q171.3,459.8 180.6,453.2" stroke="#7d7d7d" stroke-width="1.1" fill="none" opacity="0.22"/><path d="M162.1,457.2 Q171.3,461.3 180.6,454.7" stroke="#ffffff" stroke-width="1" fill="none" opacity="0.22"/><path d="M162.1,462.5 Q171.3,466.6 180.6,460.0" stroke="#7d7d7d" stroke-width="1.1" fill="none" opacity="0.22"/><path d="M162.1,464.0 Q171.3,468.1 180.6,461.5" stroke="#ffffff" stroke-width="1" fill="none" opacity="0.22"/><path d="M162.1,469.4 Q171.3,473.5 180.6,466.9" stroke="#7d7d7d" stroke-width="1.1" fill="none" opacity="0.22"/><path d="M162.1,470.9 Q171.3,475.0 180.6,468.4" stroke="#ffffff" stroke-width="1" fill="none" opacity="0.22"/><ellipse cx="171.3" cy="413.0" rx="9.8" ry="4.1" fill="#b4b4b4" stroke="#9a9a9a" stroke-width="0.6"/><path d="M181.1,413.0 L181.1,474.8" stroke="#000" stroke-width="2.4" opacity="0.38"/><path d="M161.6,413.0 L161.6,474.8" stroke="#000" stroke-width="1.8" opacity="0.28"/><path d="M161.6,413.0 L161.6,474.8 A9.8,4.1 0 0 0 181.1,474.8 L181.1,413.0 A9.8,4.1 0 0 0 161.6,413.0 Z" fill="#000" opacity="0.09"/></g>
<g opacity="1.0"><path d="M182.8,402.3 L182.8,487.5 A10.8,4.5 0 0 0 204.3,487.5 L204.3,402.3 A10.8,4.5 0 0 0 182.8,402.3 Z" fill="url(#gSprL)" filter="url(#pocket)"/><path d="M183.3,413.3 Q193.6,417.8 203.8,410.8" stroke="#7d7d7d" stroke-width="1.1" fill="none" opacity="0.22"/><path d="M183.3,414.8 Q193.6,419.3 203.8,412.3" stroke="#ffffff" stroke-width="1" fill="none" opacity="0.22"/><path d="M183.3,422.7 Q193.6,427.2 203.8,420.2" stroke="#7d7d7d" stroke-width="1.1" fill="none" opacity="0.22"/><path d="M183.3,424.2 Q193.6,428.7 203.8,421.7" stroke="#ffffff" stroke-width="1" fill="none" opacity="0.22"/><path d="M183.3,432.2 Q193.6,436.7 203.8,429.7" stroke="#7d7d7d" stroke-width="1.1" fill="none" opacity="0.22"/><path d="M183.3,433.7 Q193.6,438.2 203.8,431.2" stroke="#ffffff" stroke-width="1" fill="none" opacity="0.22"/><path d="M183.3,441.7 Q193.6,446.2 203.8,439.2" stroke="#7d7d7d" stroke-width="1.1" fill="none" opacity="0.22"/><path d="M183.3,443.2 Q193.6,447.7 203.8,440.7" stroke="#ffffff" stroke-width="1" fill="none" opacity="0.22"/><path d="M183.3,451.1 Q193.6,455.6 203.8,448.6" stroke="#7d7d7d" stroke-width="1.1" fill="none" opacity="0.22"/><path d="M183.3,452.6 Q193.6,457.1 203.8,450.1" stroke="#ffffff" stroke-width="1" fill="none" opacity="0.22"/><path d="M183.3,460.6 Q193.6,465.1 203.8,458.1" stroke="#7d7d7d" stroke-width="1.1" fill="none" opacity="0.22"/><path d="M183.3,462.1 Q193.6,466.6 203.8,459.6" stroke="#ffffff" stroke-width="1" fill="none" opacity="0.22"/><path d="M183.3,470.1 Q193.6,474.6 203.8,467.6" stroke="#7d7d7d" stroke-width="1.1" fill="none" opacity="0.22"/><path d="M183.3,471.6 Q193.6,476.1 203.8,469.1" stroke="#ffffff" stroke-width="1" fill="none" opacity="0.22"/><path d="M183.3,479.5 Q193.6,484.0 203.8,477.0" stroke="#7d7d7d" stroke-width="1.1" fill="none" opacity="0.22"/><path d="M183.3,481.0 Q193.6,485.5 203.8,478.5" stroke="#ffffff" stroke-width="1" fill="none" opacity="0.22"/><ellipse cx="193.6" cy="402.3" rx="10.8" ry="4.5" fill="#b4b4b4" stroke="#9a9a9a" stroke-width="0.6"/><path d="M204.3,402.3 L204.3,487.5" stroke="#000" stroke-width="2.4" opacity="0.38"/><path d="M182.8,402.3 L182.8,487.5" stroke="#000" stroke-width="1.8" opacity="0.28"/><path d="M182.8,402.3 L182.8,487.5 A10.8,4.5 0 0 0 204.3,487.5 L204.3,402.3 A10.8,4.5 0 0 0 182.8,402.3 Z" fill="#000" opacity="0.08"/></g>
<g opacity="1.0"><path d="M206.7,414.2 L206.7,500.2 A10.8,4.5 0 0 0 228.2,500.2 L228.2,414.2 A10.8,4.5 0 0 0 206.7,414.2 Z" fill="url(#gSprL)" filter="url(#pocket)"/><path d="M207.2,425.3 Q217.4,429.8 227.7,422.8" stroke="#7d7d7d" stroke-width="1.1" fill="none" opacity="0.22"/><path d="M207.2,426.8 Q217.4,431.3 227.7,424.3" stroke="#ffffff" stroke-width="1" fill="none" opacity="0.22"/><path d="M207.2,434.8 Q217.4,439.3 227.7,432.3" stroke="#7d7d7d" stroke-width="1.1" fill="none" opacity="0.22"/><path d="M207.2,436.3 Q217.4,440.8 227.7,433.8" stroke="#ffffff" stroke-width="1" fill="none" opacity="0.22"/><path d="M207.2,444.4 Q217.4,448.9 227.7,441.9" stroke="#7d7d7d" stroke-width="1.1" fill="none" opacity="0.22"/><path d="M207.2,445.9 Q217.4,450.4 227.7,443.4" stroke="#ffffff" stroke-width="1" fill="none" opacity="0.22"/><path d="M207.2,453.9 Q217.4,458.5 227.7,451.4" stroke="#7d7d7d" stroke-width="1.1" fill="none" opacity="0.22"/><path d="M207.2,455.4 Q217.4,460.0 227.7,452.9" stroke="#ffffff" stroke-width="1" fill="none" opacity="0.22"/><path d="M207.2,463.5 Q217.4,468.0 227.7,461.0" stroke="#7d7d7d" stroke-width="1.1" fill="none" opacity="0.22"/><path d="M207.2,465.0 Q217.4,469.5 227.7,462.5" stroke="#ffffff" stroke-width="1" fill="none" opacity="0.22"/><path d="M207.2,473.1 Q217.4,477.6 227.7,470.6" stroke="#7d7d7d" stroke-width="1.1" fill="none" opacity="0.22"/><path d="M207.2,474.6 Q217.4,479.1 227.7,472.1" stroke="#ffffff" stroke-width="1" fill="none" opacity="0.22"/><path d="M207.2,482.6 Q217.4,487.1 227.7,480.1" stroke="#7d7d7d" stroke-width="1.1" fill="none" opacity="0.22"/><path d="M207.2,484.1 Q217.4,488.6 227.7,481.6" stroke="#ffffff" stroke-width="1" fill="none" opacity="0.22"/><path d="M207.2,492.2 Q217.4,496.7 227.7,489.7" stroke="#7d7d7d" stroke-width="1.1" fill="none" opacity="0.22"/><path d="M207.2,493.7 Q217.4,498.2 227.7,491.2" stroke="#ffffff" stroke-width="1" fill="none" opacity="0.22"/><ellipse cx="217.4" cy="414.2" rx="10.8" ry="4.5" fill="#b4b4b4" stroke="#9a9a9a" stroke-width="0.6"/><path d="M228.2,414.2 L228.2,500.2" stroke="#000" stroke-width="2.4" opacity="0.38"/><path d="M206.7,414.2 L206.7,500.2" stroke="#000" stroke-width="1.8" opacity="0.28"/><path d="M206.7,414.2 L206.7,500.2 A10.8,4.5 0 0 0 228.2,500.2 L228.2,414.2 A10.8,4.5 0 0 0 206.7,414.2 Z" fill="#000" opacity="0.06"/></g>
<g opacity="1.0"><path d="M230.4,426.1 L230.4,513.0 A10.8,4.5 0 0 0 251.9,513.0 L251.9,426.1 A10.8,4.5 0 0 0 230.4,426.1 Z" fill="url(#gSprL)" filter="url(#pocket)"/><path d="M230.9,437.3 Q241.2,441.8 251.4,434.8" stroke="#7d7d7d" stroke-width="1.1" fill="none" opacity="0.22"/><path d="M230.9,438.8 Q241.2,443.3 251.4,436.3" stroke="#ffffff" stroke-width="1" fill="none" opacity="0.22"/><path d="M230.9,446.9 Q241.2,451.4 251.4,444.4" stroke="#7d7d7d" stroke-width="1.1" fill="none" opacity="0.22"/><path d="M230.9,448.4 Q241.2,452.9 251.4,445.9" stroke="#ffffff" stroke-width="1" fill="none" opacity="0.22"/><path d="M230.9,456.6 Q241.2,461.1 251.4,454.1" stroke="#7d7d7d" stroke-width="1.1" fill="none" opacity="0.22"/><path d="M230.9,458.1 Q241.2,462.6 251.4,455.6" stroke="#ffffff" stroke-width="1" fill="none" opacity="0.22"/><path d="M230.9,466.2 Q241.2,470.7 251.4,463.7" stroke="#7d7d7d" stroke-width="1.1" fill="none" opacity="0.22"/><path d="M230.9,467.7 Q241.2,472.2 251.4,465.2" stroke="#ffffff" stroke-width="1" fill="none" opacity="0.22"/><path d="M230.9,475.9 Q241.2,480.4 251.4,473.4" stroke="#7d7d7d" stroke-width="1.1" fill="none" opacity="0.22"/><path d="M230.9,477.4 Q241.2,481.9 251.4,474.9" stroke="#ffffff" stroke-width="1" fill="none" opacity="0.22"/><path d="M230.9,485.5 Q241.2,490.0 251.4,483.0" stroke="#7d7d7d" stroke-width="1.1" fill="none" opacity="0.22"/><path d="M230.9,487.0 Q241.2,491.5 251.4,484.5" stroke="#ffffff" stroke-width="1" fill="none" opacity="0.22"/><path d="M230.9,495.2 Q241.2,499.7 251.4,492.7" stroke="#7d7d7d" stroke-width="1.1" fill="none" opacity="0.22"/><path d="M230.9,496.7 Q241.2,501.2 251.4,494.2" stroke="#ffffff" stroke-width="1" fill="none" opacity="0.22"/><path d="M230.9,504.8 Q241.2,509.4 251.4,502.3" stroke="#7d7d7d" stroke-width="1.1" fill="none" opacity="0.22"/><path d="M230.9,506.3 Q241.2,510.9 251.4,503.8" stroke="#ffffff" stroke-width="1" fill="none" opacity="0.22"/><ellipse cx="241.2" cy="426.1" rx="10.8" ry="4.5" fill="#b4b4b4" stroke="#9a9a9a" stroke-width="0.6"/><path d="M251.9,426.1 L251.9,513.0" stroke="#000" stroke-width="2.4" opacity="0.38"/><path d="M230.4,426.1 L230.4,513.0" stroke="#000" stroke-width="1.8" opacity="0.28"/><path d="M230.4,426.1 L230.4,513.0 A10.8,4.5 0 0 0 251.9,513.0 L251.9,426.1 A10.8,4.5 0 0 0 230.4,426.1 Z" fill="#000" opacity="0.05"/></g>
<g opacity="1.0"><path d="M254.2,438.0 L254.2,525.8 A10.8,4.5 0 0 0 275.8,525.8 L275.8,438.0 A10.8,4.5 0 0 0 254.2,438.0 Z" fill="url(#gSprL)" filter="url(#pocket)"/><path d="M254.8,449.2 Q265.0,453.8 275.2,446.8" stroke="#7d7d7d" stroke-width="1.1" fill="none" opacity="0.22"/><path d="M254.8,450.8 Q265.0,455.3 275.2,448.2" stroke="#ffffff" stroke-width="1" fill="none" opacity="0.22"/><path d="M254.8,459.0 Q265.0,463.5 275.2,456.5" stroke="#7d7d7d" stroke-width="1.1" fill="none" opacity="0.22"/><path d="M254.8,460.5 Q265.0,465.0 275.2,458.0" stroke="#ffffff" stroke-width="1" fill="none" opacity="0.22"/><path d="M254.8,468.8 Q265.0,473.3 275.2,466.2" stroke="#7d7d7d" stroke-width="1.1" fill="none" opacity="0.22"/><path d="M254.8,470.2 Q265.0,474.8 275.2,467.8" stroke="#ffffff" stroke-width="1" fill="none" opacity="0.22"/><path d="M254.8,478.5 Q265.0,483.0 275.2,476.0" stroke="#7d7d7d" stroke-width="1.1" fill="none" opacity="0.22"/><path d="M254.8,480.0 Q265.0,484.5 275.2,477.5" stroke="#ffffff" stroke-width="1" fill="none" opacity="0.22"/><path d="M254.8,488.2 Q265.0,492.8 275.2,485.8" stroke="#7d7d7d" stroke-width="1.1" fill="none" opacity="0.22"/><path d="M254.8,489.8 Q265.0,494.3 275.2,487.2" stroke="#ffffff" stroke-width="1" fill="none" opacity="0.22"/><path d="M254.8,498.0 Q265.0,502.5 275.2,495.5" stroke="#7d7d7d" stroke-width="1.1" fill="none" opacity="0.22"/><path d="M254.8,499.5 Q265.0,504.0 275.2,497.0" stroke="#ffffff" stroke-width="1" fill="none" opacity="0.22"/><path d="M254.8,507.8 Q265.0,512.3 275.2,505.2" stroke="#7d7d7d" stroke-width="1.1" fill="none" opacity="0.22"/><path d="M254.8,509.2 Q265.0,513.8 275.2,506.8" stroke="#ffffff" stroke-width="1" fill="none" opacity="0.22"/><path d="M254.8,517.5 Q265.0,522.0 275.2,515.0" stroke="#7d7d7d" stroke-width="1.1" fill="none" opacity="0.22"/><path d="M254.8,519.0 Q265.0,523.5 275.2,516.5" stroke="#ffffff" stroke-width="1" fill="none" opacity="0.22"/><ellipse cx="265.0" cy="438.0" rx="10.8" ry="4.5" fill="#b4b4b4" stroke="#9a9a9a" stroke-width="0.6"/><path d="M275.8,438.0 L275.8,525.8" stroke="#000" stroke-width="2.4" opacity="0.38"/><path d="M254.2,438.0 L254.2,525.8" stroke="#000" stroke-width="1.8" opacity="0.28"/><path d="M254.2,438.0 L254.2,525.8 A10.8,4.5 0 0 0 275.8,525.8 L275.8,438.0 A10.8,4.5 0 0 0 254.2,438.0 Z" fill="#000" opacity="0.04"/></g>
<g opacity="1.0"><path d="M278.1,449.9 L278.1,538.5 A10.8,4.5 0 0 0 299.6,538.5 L299.6,449.9 A10.8,4.5 0 0 0 278.1,449.9 Z" fill="url(#gSprL)" filter="url(#pocket)"/><path d="M278.6,461.2 Q288.8,465.8 299.1,458.7" stroke="#7d7d7d" stroke-width="1.1" fill="none" opacity="0.22"/><path d="M278.6,462.7 Q288.8,467.3 299.1,460.2" stroke="#ffffff" stroke-width="1" fill="none" opacity="0.22"/><path d="M278.6,471.1 Q288.8,475.6 299.1,468.6" stroke="#7d7d7d" stroke-width="1.1" fill="none" opacity="0.22"/><path d="M278.6,472.6 Q288.8,477.1 299.1,470.1" stroke="#ffffff" stroke-width="1" fill="none" opacity="0.22"/><path d="M278.6,480.9 Q288.8,485.4 299.1,478.4" stroke="#7d7d7d" stroke-width="1.1" fill="none" opacity="0.22"/><path d="M278.6,482.4 Q288.8,486.9 299.1,479.9" stroke="#ffffff" stroke-width="1" fill="none" opacity="0.22"/><path d="M278.6,490.8 Q288.8,495.3 299.1,488.3" stroke="#7d7d7d" stroke-width="1.1" fill="none" opacity="0.22"/><path d="M278.6,492.3 Q288.8,496.8 299.1,489.8" stroke="#ffffff" stroke-width="1" fill="none" opacity="0.22"/><path d="M278.6,500.6 Q288.8,505.1 299.1,498.1" stroke="#7d7d7d" stroke-width="1.1" fill="none" opacity="0.22"/><path d="M278.6,502.1 Q288.8,506.6 299.1,499.6" stroke="#ffffff" stroke-width="1" fill="none" opacity="0.22"/><path d="M278.6,510.5 Q288.8,515.0 299.1,508.0" stroke="#7d7d7d" stroke-width="1.1" fill="none" opacity="0.22"/><path d="M278.6,512.0 Q288.8,516.5 299.1,509.5" stroke="#ffffff" stroke-width="1" fill="none" opacity="0.22"/><path d="M278.6,520.3 Q288.8,524.8 299.1,517.8" stroke="#7d7d7d" stroke-width="1.1" fill="none" opacity="0.22"/><path d="M278.6,521.8 Q288.8,526.3 299.1,519.3" stroke="#ffffff" stroke-width="1" fill="none" opacity="0.22"/><path d="M278.6,530.2 Q288.8,534.7 299.1,527.7" stroke="#7d7d7d" stroke-width="1.1" fill="none" opacity="0.22"/><path d="M278.6,531.7 Q288.8,536.2 299.1,529.2" stroke="#ffffff" stroke-width="1" fill="none" opacity="0.22"/><ellipse cx="288.8" cy="449.9" rx="10.8" ry="4.5" fill="#b4b4b4" stroke="#9a9a9a" stroke-width="0.6"/><path d="M299.6,449.9 L299.6,538.5" stroke="#000" stroke-width="2.4" opacity="0.38"/><path d="M278.1,449.9 L278.1,538.5" stroke="#000" stroke-width="1.8" opacity="0.28"/><path d="M278.1,449.9 L278.1,538.5 A10.8,4.5 0 0 0 299.6,538.5 L299.6,449.9 A10.8,4.5 0 0 0 278.1,449.9 Z" fill="#000" opacity="0.03"/></g>
<g opacity="1.0"><path d="M301.9,461.8 L301.9,551.2 A10.8,4.5 0 0 0 323.4,551.2 L323.4,461.8 A10.8,4.5 0 0 0 301.9,461.8 Z" fill="url(#gSprL)" filter="url(#pocket)"/><path d="M302.4,473.2 Q312.6,477.8 322.9,470.7" stroke="#7d7d7d" stroke-width="1.1" fill="none" opacity="0.22"/><path d="M302.4,474.7 Q312.6,479.3 322.9,472.2" stroke="#ffffff" stroke-width="1" fill="none" opacity="0.22"/><path d="M302.4,483.2 Q312.6,487.7 322.9,480.7" stroke="#7d7d7d" stroke-width="1.1" fill="none" opacity="0.22"/><path d="M302.4,484.7 Q312.6,489.2 322.9,482.2" stroke="#ffffff" stroke-width="1" fill="none" opacity="0.22"/><path d="M302.4,493.1 Q312.6,497.6 322.9,490.6" stroke="#7d7d7d" stroke-width="1.1" fill="none" opacity="0.22"/><path d="M302.4,494.6 Q312.6,499.1 322.9,492.1" stroke="#ffffff" stroke-width="1" fill="none" opacity="0.22"/><path d="M302.4,503.1 Q312.6,507.6 322.9,500.6" stroke="#7d7d7d" stroke-width="1.1" fill="none" opacity="0.22"/><path d="M302.4,504.6 Q312.6,509.1 322.9,502.1" stroke="#ffffff" stroke-width="1" fill="none" opacity="0.22"/><path d="M302.4,513.0 Q312.6,517.5 322.9,510.5" stroke="#7d7d7d" stroke-width="1.1" fill="none" opacity="0.22"/><path d="M302.4,514.5 Q312.6,519.0 322.9,512.0" stroke="#ffffff" stroke-width="1" fill="none" opacity="0.22"/><path d="M302.4,522.9 Q312.6,527.4 322.9,520.4" stroke="#7d7d7d" stroke-width="1.1" fill="none" opacity="0.22"/><path d="M302.4,524.4 Q312.6,528.9 322.9,521.9" stroke="#ffffff" stroke-width="1" fill="none" opacity="0.22"/><path d="M302.4,532.9 Q312.6,537.4 322.9,530.4" stroke="#7d7d7d" stroke-width="1.1" fill="none" opacity="0.22"/><path d="M302.4,534.4 Q312.6,538.9 322.9,531.9" stroke="#ffffff" stroke-width="1" fill="none" opacity="0.22"/><path d="M302.4,542.8 Q312.6,547.3 322.9,540.3" stroke="#7d7d7d" stroke-width="1.1" fill="none" opacity="0.22"/><path d="M302.4,544.3 Q312.6,548.8 322.9,541.8" stroke="#ffffff" stroke-width="1" fill="none" opacity="0.22"/><ellipse cx="312.6" cy="461.8" rx="10.8" ry="4.5" fill="#b4b4b4" stroke="#9a9a9a" stroke-width="0.6"/><path d="M323.4,461.8 L323.4,551.2" stroke="#000" stroke-width="2.4" opacity="0.38"/><path d="M301.9,461.8 L301.9,551.2" stroke="#000" stroke-width="1.8" opacity="0.28"/><path d="M301.9,461.8 L301.9,551.2 A10.8,4.5 0 0 0 323.4,551.2 L323.4,461.8 A10.8,4.5 0 0 0 301.9,461.8 Z" fill="#000" opacity="0.01"/></g>
<g opacity="1.0" fill="none"><path d="M526.3,369.0 L526.3,455.0 A9.0,3.1 0 0 0 544.3,455.0 L544.3,369.0 A9.0,3.1 0 0 0 526.3,369.0 Z" fill="#b4b4b4" opacity="0.9"/><path d="M543.5,369.0 L542.7,370.9 L540.4,372.5 L537.1,373.7 L533.5,374.2 L530.2,374.2 L527.9,373.7 L527.1,372.9" stroke="#858585" stroke-width="1.25"/><path d="M527.1,372.9 L527.9,372.1 L530.2,371.6 L533.5,371.6 L537.1,372.2 L540.4,373.3 L542.7,374.9 L543.5,376.8" stroke="#b4b4b4" stroke-width="0.9"/><path d="M543.5,376.8 L542.7,378.7 L540.4,380.3 L537.1,381.5 L533.5,382.0 L530.2,382.0 L527.9,381.5 L527.1,380.7" stroke="#858585" stroke-width="1.25"/><path d="M527.1,380.7 L527.9,380.0 L530.2,379.5 L533.5,379.4 L537.1,380.0 L540.4,381.1 L542.7,382.8 L543.5,384.6" stroke="#b4b4b4" stroke-width="0.9"/><path d="M543.5,384.6 L542.7,386.5 L540.4,388.1 L537.1,389.3 L533.5,389.9 L530.2,389.8 L527.9,389.3 L527.1,388.5" stroke="#858585" stroke-width="1.25"/><path d="M527.1,388.5 L527.9,387.8 L530.2,387.3 L533.5,387.2 L537.1,387.8 L540.4,388.9 L542.7,390.6 L543.5,392.5" stroke="#b4b4b4" stroke-width="0.9"/><path d="M543.5,392.5 L542.7,394.3 L540.4,396.0 L537.1,397.1 L533.5,397.7 L530.2,397.6 L527.9,397.1 L527.1,396.4" stroke="#858585" stroke-width="1.25"/><path d="M527.1,396.4 L527.9,395.6 L530.2,395.1 L533.5,395.1 L537.1,395.6 L540.4,396.8 L542.7,398.4 L543.5,400.3" stroke="#b4b4b4" stroke-width="0.9"/><path d="M543.5,400.3 L542.7,402.2 L540.4,403.8 L537.1,404.9 L533.5,405.5 L530.2,405.5 L527.9,405.0 L527.1,404.2" stroke="#858585" stroke-width="1.25"/><path d="M527.1,404.2 L527.9,403.4 L530.2,402.9 L533.5,402.9 L537.1,403.4 L540.4,404.6 L542.7,406.2 L543.5,408.1" stroke="#b4b4b4" stroke-width="0.9"/><path d="M543.5,408.1 L542.7,410.0 L540.4,411.6 L537.1,412.7 L533.5,413.3 L530.2,413.3 L527.9,412.8 L527.1,412.0" stroke="#858585" stroke-width="1.25"/><path d="M527.1,412.0 L527.9,411.2 L530.2,410.7 L533.5,410.7 L537.1,411.3 L540.4,412.4 L542.7,414.0 L543.5,415.9" stroke="#b4b4b4" stroke-width="0.9"/><path d="M543.5,415.9 L542.7,417.8 L540.4,419.4 L537.1,420.6 L533.5,421.1 L530.2,421.1 L527.9,420.6 L527.1,419.8" stroke="#858585" stroke-width="1.25"/><path d="M527.1,419.8 L527.9,419.0 L530.2,418.5 L533.5,418.5 L537.1,419.1 L540.4,420.2 L542.7,421.8 L543.5,423.7" stroke="#b4b4b4" stroke-width="0.9"/><path d="M543.5,423.7 L542.7,425.6 L540.4,427.2 L537.1,428.4 L533.5,428.9 L530.2,428.9 L527.9,428.4 L527.1,427.6" stroke="#858585" stroke-width="1.25"/><path d="M527.1,427.6 L527.9,426.9 L530.2,426.4 L533.5,426.3 L537.1,426.9 L540.4,428.0 L542.7,429.7 L543.5,431.5" stroke="#b4b4b4" stroke-width="0.9"/><path d="M543.5,431.5 L542.7,433.4 L540.4,435.1 L537.1,436.2 L533.5,436.8 L530.2,436.7 L527.9,436.2 L527.1,435.5" stroke="#858585" stroke-width="1.25"/><path d="M527.1,435.5 L527.9,434.7 L530.2,434.2 L533.5,434.1 L537.1,434.7 L540.4,435.9 L542.7,437.5 L543.5,439.4" stroke="#b4b4b4" stroke-width="0.9"/><path d="M543.5,439.4 L542.7,441.2 L540.4,442.9 L537.1,444.0 L533.5,444.6 L530.2,444.5 L527.9,444.0 L527.1,443.3" stroke="#858585" stroke-width="1.25"/><path d="M527.1,443.3 L527.9,442.5 L530.2,442.0 L533.5,442.0 L537.1,442.5 L540.4,443.7 L542.7,445.3 L543.5,447.2" stroke="#b4b4b4" stroke-width="0.9"/><path d="M543.5,447.2 L542.7,449.1 L540.4,450.7 L537.1,451.8 L533.5,452.4 L530.2,452.4 L527.9,451.9 L527.1,451.1" stroke="#858585" stroke-width="1.25"/><path d="M527.1,451.1 L527.9,450.3 L530.2,449.8 L533.5,449.8 L537.1,450.3 L540.4,451.5 L542.7,453.1 L543.5,455.0" stroke="#b4b4b4" stroke-width="0.9"/><ellipse cx="535.3" cy="369.0" rx="9.0" ry="3.1" fill="#c4c4c4" opacity="0.55" stroke="#a2a2a2" stroke-width="0.7"/></g>
<g opacity="1.0"><path d="M509.0,376.6 L509.0,464.0 A8.8,3.7 0 0 0 526.5,464.0 L526.5,376.6 A8.8,3.7 0 0 0 509.0,376.6 Z" fill="url(#gSprR)" filter="url(#pocket)"/><path d="M509.5,387.8 Q517.8,391.5 526.0,385.3" stroke="#7d7d7d" stroke-width="1.1" fill="none" opacity="0.22"/><path d="M509.5,389.3 Q517.8,393.0 526.0,386.8" stroke="#ffffff" stroke-width="1" fill="none" opacity="0.22"/><path d="M509.5,397.5 Q517.8,401.2 526.0,395.0" stroke="#7d7d7d" stroke-width="1.1" fill="none" opacity="0.22"/><path d="M509.5,399.0 Q517.8,402.7 526.0,396.5" stroke="#ffffff" stroke-width="1" fill="none" opacity="0.22"/><path d="M509.5,407.2 Q517.8,410.9 526.0,404.7" stroke="#7d7d7d" stroke-width="1.1" fill="none" opacity="0.22"/><path d="M509.5,408.7 Q517.8,412.4 526.0,406.2" stroke="#ffffff" stroke-width="1" fill="none" opacity="0.22"/><path d="M509.5,416.9 Q517.8,420.6 526.0,414.4" stroke="#7d7d7d" stroke-width="1.1" fill="none" opacity="0.22"/><path d="M509.5,418.4 Q517.8,422.1 526.0,415.9" stroke="#ffffff" stroke-width="1" fill="none" opacity="0.22"/><path d="M509.5,426.7 Q517.8,430.3 526.0,424.2" stroke="#7d7d7d" stroke-width="1.1" fill="none" opacity="0.22"/><path d="M509.5,428.2 Q517.8,431.8 526.0,425.7" stroke="#ffffff" stroke-width="1" fill="none" opacity="0.22"/><path d="M509.5,436.4 Q517.8,440.0 526.0,433.9" stroke="#7d7d7d" stroke-width="1.1" fill="none" opacity="0.22"/><path d="M509.5,437.9 Q517.8,441.5 526.0,435.4" stroke="#ffffff" stroke-width="1" fill="none" opacity="0.22"/><path d="M509.5,446.1 Q517.8,449.8 526.0,443.6" stroke="#7d7d7d" stroke-width="1.1" fill="none" opacity="0.22"/><path d="M509.5,447.6 Q517.8,451.3 526.0,445.1" stroke="#ffffff" stroke-width="1" fill="none" opacity="0.22"/><path d="M509.5,455.8 Q517.8,459.5 526.0,453.3" stroke="#7d7d7d" stroke-width="1.1" fill="none" opacity="0.22"/><path d="M509.5,457.3 Q517.8,461.0 526.0,454.8" stroke="#ffffff" stroke-width="1" fill="none" opacity="0.22"/><ellipse cx="517.8" cy="376.6" rx="8.8" ry="3.7" fill="#b4b4b4" stroke="#9a9a9a" stroke-width="0.6"/><path d="M526.5,376.6 L526.5,464.0" stroke="#000" stroke-width="2.4" opacity="0.38"/><path d="M509.0,376.6 L509.0,464.0" stroke="#000" stroke-width="1.8" opacity="0.28"/><path d="M509.0,376.6 L509.0,464.0 A8.8,3.7 0 0 0 526.5,464.0 L526.5,376.6 A8.8,3.7 0 0 0 509.0,376.6 Z" fill="#000" opacity="0.16"/></g>
<g opacity="1.0"><path d="M492.9,384.0 L492.9,472.9 A8.9,3.7 0 0 0 510.7,472.9 L510.7,384.0 A8.9,3.7 0 0 0 492.9,384.0 Z" fill="url(#gSprR)" filter="url(#pocket)"/><path d="M493.4,395.4 Q501.8,399.1 510.2,392.9" stroke="#7d7d7d" stroke-width="1.1" fill="none" opacity="0.22"/><path d="M493.4,396.9 Q501.8,400.6 510.2,394.4" stroke="#ffffff" stroke-width="1" fill="none" opacity="0.22"/><path d="M493.4,405.3 Q501.8,409.0 510.2,402.8" stroke="#7d7d7d" stroke-width="1.1" fill="none" opacity="0.22"/><path d="M493.4,406.8 Q501.8,410.5 510.2,404.3" stroke="#ffffff" stroke-width="1" fill="none" opacity="0.22"/><path d="M493.4,415.1 Q501.8,418.9 510.2,412.6" stroke="#7d7d7d" stroke-width="1.1" fill="none" opacity="0.22"/><path d="M493.4,416.6 Q501.8,420.4 510.2,414.1" stroke="#ffffff" stroke-width="1" fill="none" opacity="0.22"/><path d="M493.4,425.0 Q501.8,428.7 510.2,422.5" stroke="#7d7d7d" stroke-width="1.1" fill="none" opacity="0.22"/><path d="M493.4,426.5 Q501.8,430.2 510.2,424.0" stroke="#ffffff" stroke-width="1" fill="none" opacity="0.22"/><path d="M493.4,434.9 Q501.8,438.6 510.2,432.4" stroke="#7d7d7d" stroke-width="1.1" fill="none" opacity="0.22"/><path d="M493.4,436.4 Q501.8,440.1 510.2,433.9" stroke="#ffffff" stroke-width="1" fill="none" opacity="0.22"/><path d="M493.4,444.8 Q501.8,448.5 510.2,442.3" stroke="#7d7d7d" stroke-width="1.1" fill="none" opacity="0.22"/><path d="M493.4,446.3 Q501.8,450.0 510.2,443.8" stroke="#ffffff" stroke-width="1" fill="none" opacity="0.22"/><path d="M493.4,454.6 Q501.8,458.4 510.2,452.1" stroke="#7d7d7d" stroke-width="1.1" fill="none" opacity="0.22"/><path d="M493.4,456.1 Q501.8,459.9 510.2,453.6" stroke="#ffffff" stroke-width="1" fill="none" opacity="0.22"/><path d="M493.4,464.5 Q501.8,468.3 510.2,462.0" stroke="#7d7d7d" stroke-width="1.1" fill="none" opacity="0.22"/><path d="M493.4,466.0 Q501.8,469.8 510.2,463.5" stroke="#ffffff" stroke-width="1" fill="none" opacity="0.22"/><ellipse cx="501.8" cy="384.0" rx="8.9" ry="3.7" fill="#b4b4b4" stroke="#9a9a9a" stroke-width="0.6"/><path d="M510.7,384.0 L510.7,472.9" stroke="#000" stroke-width="2.4" opacity="0.38"/><path d="M492.9,384.0 L492.9,472.9" stroke="#000" stroke-width="1.8" opacity="0.28"/><path d="M492.9,384.0 L492.9,472.9 A8.9,3.7 0 0 0 510.7,472.9 L510.7,384.0 A8.9,3.7 0 0 0 492.9,384.0 Z" fill="#000" opacity="0.16"/></g>
<g opacity="1.0"><path d="M476.0,395.6 L476.0,483.7 A9.0,3.8 0 0 0 494.0,483.7 L494.0,395.6 A9.0,3.8 0 0 0 476.0,395.6 Z" fill="url(#gBlue)" filter="url(#pocketB)"/><path d="M476.8,405.1 Q486.0,404.1 493.2,399.7" stroke="#6fabe0" stroke-width="1.7" fill="none" opacity="0.5"/><path d="M476.8,411.4 Q486.0,410.4 493.2,406.0" stroke="#6fabe0" stroke-width="1.7" fill="none" opacity="0.5"/><path d="M476.8,417.7 Q486.0,416.7 493.2,412.3" stroke="#6fabe0" stroke-width="1.7" fill="none" opacity="0.5"/><path d="M476.8,424.0 Q486.0,423.0 493.2,418.6" stroke="#6fabe0" stroke-width="1.7" fill="none" opacity="0.5"/><path d="M476.8,430.3 Q486.0,429.3 493.2,424.9" stroke="#6fabe0" stroke-width="1.7" fill="none" opacity="0.5"/><path d="M476.8,436.6 Q486.0,435.6 493.2,431.2" stroke="#6fabe0" stroke-width="1.7" fill="none" opacity="0.5"/><path d="M476.8,442.9 Q486.0,441.9 493.2,437.5" stroke="#6fabe0" stroke-width="1.7" fill="none" opacity="0.5"/><path d="M476.8,449.1 Q486.0,448.1 493.2,443.7" stroke="#6fabe0" stroke-width="1.7" fill="none" opacity="0.5"/><path d="M476.8,455.4 Q486.0,454.4 493.2,450.0" stroke="#6fabe0" stroke-width="1.7" fill="none" opacity="0.5"/><path d="M476.8,461.7 Q486.0,460.7 493.2,456.3" stroke="#6fabe0" stroke-width="1.7" fill="none" opacity="0.5"/><path d="M476.8,468.0 Q486.0,467.0 493.2,462.6" stroke="#6fabe0" stroke-width="1.7" fill="none" opacity="0.5"/><path d="M476.8,474.3 Q486.0,473.3 493.2,468.9" stroke="#6fabe0" stroke-width="1.7" fill="none" opacity="0.5"/><path d="M476.8,480.6 Q486.0,479.6 493.2,475.2" stroke="#6fabe0" stroke-width="1.7" fill="none" opacity="0.5"/><ellipse cx="485.0" cy="395.6" rx="9.0" ry="3.8" fill="#2b67a2" stroke="#1e66ad" stroke-width="0.6"/><path d="M494.0,395.6 L494.0,483.7" stroke="#000" stroke-width="2.4" opacity="0.38"/><path d="M476.0,395.6 L476.0,483.7" stroke="#000" stroke-width="1.8" opacity="0.28"/><path d="M476.0,395.6 L476.0,483.7 A9.0,3.8 0 0 0 494.0,483.7 L494.0,395.6 A9.0,3.8 0 0 0 476.0,395.6 Z" fill="#000" opacity="0.09"/></g>
<g opacity="1.0"><path d="M458.4,403.0 L458.4,492.5 A9.2,3.9 0 0 0 476.8,492.5 L476.8,403.0 A9.2,3.9 0 0 0 458.4,403.0 Z" fill="url(#gBlue)" filter="url(#pocketB)"/><path d="M459.2,412.6 Q468.6,411.6 476.0,407.2" stroke="#6fabe0" stroke-width="1.7" fill="none" opacity="0.5"/><path d="M459.2,419.0 Q468.6,418.0 476.0,413.6" stroke="#6fabe0" stroke-width="1.7" fill="none" opacity="0.5"/><path d="M459.2,425.4 Q468.6,424.4 476.0,420.0" stroke="#6fabe0" stroke-width="1.7" fill="none" opacity="0.5"/><path d="M459.2,431.8 Q468.6,430.8 476.0,426.4" stroke="#6fabe0" stroke-width="1.7" fill="none" opacity="0.5"/><path d="M459.2,438.2 Q468.6,437.2 476.0,432.8" stroke="#6fabe0" stroke-width="1.7" fill="none" opacity="0.5"/><path d="M459.2,444.6 Q468.6,443.6 476.0,439.2" stroke="#6fabe0" stroke-width="1.7" fill="none" opacity="0.5"/><path d="M459.2,450.9 Q468.6,449.9 476.0,445.6" stroke="#6fabe0" stroke-width="1.7" fill="none" opacity="0.5"/><path d="M459.2,457.3 Q468.6,456.3 476.0,451.9" stroke="#6fabe0" stroke-width="1.7" fill="none" opacity="0.5"/><path d="M459.2,463.7 Q468.6,462.7 476.0,458.3" stroke="#6fabe0" stroke-width="1.7" fill="none" opacity="0.5"/><path d="M459.2,470.1 Q468.6,469.1 476.0,464.7" stroke="#6fabe0" stroke-width="1.7" fill="none" opacity="0.5"/><path d="M459.2,476.5 Q468.6,475.5 476.0,471.1" stroke="#6fabe0" stroke-width="1.7" fill="none" opacity="0.5"/><path d="M459.2,482.9 Q468.6,481.9 476.0,477.5" stroke="#6fabe0" stroke-width="1.7" fill="none" opacity="0.5"/><path d="M459.2,489.3 Q468.6,488.3 476.0,483.9" stroke="#6fabe0" stroke-width="1.7" fill="none" opacity="0.5"/><ellipse cx="467.6" cy="403.0" rx="9.2" ry="3.9" fill="#2b67a2" stroke="#1e66ad" stroke-width="0.6"/><path d="M476.8,403.0 L476.8,492.5" stroke="#000" stroke-width="2.4" opacity="0.38"/><path d="M458.4,403.0 L458.4,492.5" stroke="#000" stroke-width="1.8" opacity="0.28"/><path d="M458.4,403.0 L458.4,492.5 A9.2,3.9 0 0 0 476.8,492.5 L476.8,403.0 A9.2,3.9 0 0 0 458.4,403.0 Z" fill="#000" opacity="0.08"/></g>
<g opacity="1.0"><path d="M440.7,413.0 L440.7,502.7 A9.3,3.9 0 0 0 459.3,502.7 L459.3,413.0 A9.3,3.9 0 0 0 440.7,413.0 Z" fill="url(#gBlue)" filter="url(#pocketB)"/><path d="M441.5,422.6 Q451.0,421.6 458.5,417.2" stroke="#6fabe0" stroke-width="1.7" fill="none" opacity="0.5"/><path d="M441.5,429.0 Q451.0,428.0 458.5,423.6" stroke="#6fabe0" stroke-width="1.7" fill="none" opacity="0.5"/><path d="M441.5,435.4 Q451.0,434.4 458.5,430.0" stroke="#6fabe0" stroke-width="1.7" fill="none" opacity="0.5"/><path d="M441.5,441.8 Q451.0,440.8 458.5,436.4" stroke="#6fabe0" stroke-width="1.7" fill="none" opacity="0.5"/><path d="M441.5,448.2 Q451.0,447.2 458.5,442.8" stroke="#6fabe0" stroke-width="1.7" fill="none" opacity="0.5"/><path d="M441.5,454.6 Q451.0,453.6 458.5,449.2" stroke="#6fabe0" stroke-width="1.7" fill="none" opacity="0.5"/><path d="M441.5,461.0 Q451.0,460.0 458.5,455.6" stroke="#6fabe0" stroke-width="1.7" fill="none" opacity="0.5"/><path d="M441.5,467.5 Q451.0,466.5 458.5,462.1" stroke="#6fabe0" stroke-width="1.7" fill="none" opacity="0.5"/><path d="M441.5,473.9 Q451.0,472.9 458.5,468.5" stroke="#6fabe0" stroke-width="1.7" fill="none" opacity="0.5"/><path d="M441.5,480.3 Q451.0,479.3 458.5,474.9" stroke="#6fabe0" stroke-width="1.7" fill="none" opacity="0.5"/><path d="M441.5,486.7 Q451.0,485.7 458.5,481.3" stroke="#6fabe0" stroke-width="1.7" fill="none" opacity="0.5"/><path d="M441.5,493.1 Q451.0,492.1 458.5,487.7" stroke="#6fabe0" stroke-width="1.7" fill="none" opacity="0.5"/><path d="M441.5,499.5 Q451.0,498.5 458.5,494.1" stroke="#6fabe0" stroke-width="1.7" fill="none" opacity="0.5"/><ellipse cx="450.0" cy="413.0" rx="9.3" ry="3.9" fill="#2b67a2" stroke="#1e66ad" stroke-width="0.6"/><path d="M459.3,413.0 L459.3,502.7" stroke="#000" stroke-width="2.4" opacity="0.38"/><path d="M440.7,413.0 L440.7,502.7" stroke="#000" stroke-width="1.8" opacity="0.28"/><path d="M440.7,413.0 L440.7,502.7 A9.3,3.9 0 0 0 459.3,502.7 L459.3,413.0 A9.3,3.9 0 0 0 440.7,413.0 Z" fill="#000" opacity="0.07"/></g>
<g opacity="1.0"><path d="M423.2,423.0 L423.2,511.4 A9.5,4.0 0 0 0 442.1,511.4 L442.1,423.0 A9.5,4.0 0 0 0 423.2,423.0 Z" fill="url(#gBlue)" filter="url(#pocketB)"/><path d="M424.0,432.5 Q433.6,431.5 441.2,427.1" stroke="#6fabe0" stroke-width="1.7" fill="none" opacity="0.5"/><path d="M424.0,438.8 Q433.6,437.8 441.2,433.4" stroke="#6fabe0" stroke-width="1.7" fill="none" opacity="0.5"/><path d="M424.0,445.1 Q433.6,444.1 441.2,439.7" stroke="#6fabe0" stroke-width="1.7" fill="none" opacity="0.5"/><path d="M424.0,451.5 Q433.6,450.5 441.2,446.1" stroke="#6fabe0" stroke-width="1.7" fill="none" opacity="0.5"/><path d="M424.0,457.8 Q433.6,456.8 441.2,452.4" stroke="#6fabe0" stroke-width="1.7" fill="none" opacity="0.5"/><path d="M424.0,464.1 Q433.6,463.1 441.2,458.7" stroke="#6fabe0" stroke-width="1.7" fill="none" opacity="0.5"/><path d="M424.0,470.4 Q433.6,469.4 441.2,465.0" stroke="#6fabe0" stroke-width="1.7" fill="none" opacity="0.5"/><path d="M424.0,476.7 Q433.6,475.7 441.2,471.3" stroke="#6fabe0" stroke-width="1.7" fill="none" opacity="0.5"/><path d="M424.0,483.0 Q433.6,482.0 441.2,477.6" stroke="#6fabe0" stroke-width="1.7" fill="none" opacity="0.5"/><path d="M424.0,489.3 Q433.6,488.3 441.2,483.9" stroke="#6fabe0" stroke-width="1.7" fill="none" opacity="0.5"/><path d="M424.0,495.7 Q433.6,494.7 441.2,490.3" stroke="#6fabe0" stroke-width="1.7" fill="none" opacity="0.5"/><path d="M424.0,502.0 Q433.6,501.0 441.2,496.6" stroke="#6fabe0" stroke-width="1.7" fill="none" opacity="0.5"/><path d="M424.0,508.3 Q433.6,507.3 441.2,502.9" stroke="#6fabe0" stroke-width="1.7" fill="none" opacity="0.5"/><ellipse cx="432.6" cy="423.0" rx="9.5" ry="4.0" fill="#2b67a2" stroke="#1e66ad" stroke-width="0.6"/><path d="M442.1,423.0 L442.1,511.4" stroke="#000" stroke-width="2.4" opacity="0.38"/><path d="M423.2,423.0 L423.2,511.4" stroke="#000" stroke-width="1.8" opacity="0.28"/><path d="M423.2,423.0 L423.2,511.4 A9.5,4.0 0 0 0 442.1,511.4 L442.1,423.0 A9.5,4.0 0 0 0 423.2,423.0 Z" fill="#000" opacity="0.05"/></g>
<g opacity="1.0"><path d="M405.4,433.5 L405.4,521.6 A9.6,4.0 0 0 0 424.6,521.6 L424.6,433.5 A9.6,4.0 0 0 0 405.4,433.5 Z" fill="url(#gBlue)" filter="url(#pocketB)"/><path d="M406.2,443.0 Q416.0,442.0 423.8,437.6" stroke="#6fabe0" stroke-width="1.7" fill="none" opacity="0.5"/><path d="M406.2,449.3 Q416.0,448.3 423.8,443.9" stroke="#6fabe0" stroke-width="1.7" fill="none" opacity="0.5"/><path d="M406.2,455.6 Q416.0,454.6 423.8,450.2" stroke="#6fabe0" stroke-width="1.7" fill="none" opacity="0.5"/><path d="M406.2,461.9 Q416.0,460.9 423.8,456.5" stroke="#6fabe0" stroke-width="1.7" fill="none" opacity="0.5"/><path d="M406.2,468.2 Q416.0,467.2 423.8,462.8" stroke="#6fabe0" stroke-width="1.7" fill="none" opacity="0.5"/><path d="M406.2,474.5 Q416.0,473.5 423.8,469.1" stroke="#6fabe0" stroke-width="1.7" fill="none" opacity="0.5"/><path d="M406.2,480.8 Q416.0,479.8 423.8,475.4" stroke="#6fabe0" stroke-width="1.7" fill="none" opacity="0.5"/><path d="M406.2,487.0 Q416.0,486.0 423.8,481.6" stroke="#6fabe0" stroke-width="1.7" fill="none" opacity="0.5"/><path d="M406.2,493.3 Q416.0,492.3 423.8,487.9" stroke="#6fabe0" stroke-width="1.7" fill="none" opacity="0.5"/><path d="M406.2,499.6 Q416.0,498.6 423.8,494.2" stroke="#6fabe0" stroke-width="1.7" fill="none" opacity="0.5"/><path d="M406.2,505.9 Q416.0,504.9 423.8,500.5" stroke="#6fabe0" stroke-width="1.7" fill="none" opacity="0.5"/><path d="M406.2,512.2 Q416.0,511.2 423.8,506.8" stroke="#6fabe0" stroke-width="1.7" fill="none" opacity="0.5"/><path d="M406.2,518.5 Q416.0,517.5 423.8,513.1" stroke="#6fabe0" stroke-width="1.7" fill="none" opacity="0.5"/><ellipse cx="415.0" cy="433.5" rx="9.6" ry="4.0" fill="#2b67a2" stroke="#1e66ad" stroke-width="0.6"/><path d="M424.6,433.5 L424.6,521.6" stroke="#000" stroke-width="2.4" opacity="0.38"/><path d="M405.4,433.5 L405.4,521.6" stroke="#000" stroke-width="1.8" opacity="0.28"/><path d="M405.4,433.5 L405.4,521.6 A9.6,4.0 0 0 0 424.6,521.6 L424.6,433.5 A9.6,4.0 0 0 0 405.4,433.5 Z" fill="#000" opacity="0.04"/></g>
<g opacity="1.0"><path d="M386.5,442.0 L386.5,531.8 A9.7,4.1 0 0 0 405.9,531.8 L405.9,442.0 A9.7,4.1 0 0 0 386.5,442.0 Z" fill="url(#gSprR)" filter="url(#pocket)"/><path d="M387.0,453.5 Q396.2,457.6 405.4,451.0" stroke="#7d7d7d" stroke-width="1.1" fill="none" opacity="0.22"/><path d="M387.0,455.0 Q396.2,459.1 405.4,452.5" stroke="#ffffff" stroke-width="1" fill="none" opacity="0.22"/><path d="M387.0,463.5 Q396.2,467.5 405.4,461.0" stroke="#7d7d7d" stroke-width="1.1" fill="none" opacity="0.22"/><path d="M387.0,465.0 Q396.2,469.0 405.4,462.5" stroke="#ffffff" stroke-width="1" fill="none" opacity="0.22"/><path d="M387.0,473.4 Q396.2,477.5 405.4,470.9" stroke="#7d7d7d" stroke-width="1.1" fill="none" opacity="0.22"/><path d="M387.0,474.9 Q396.2,479.0 405.4,472.4" stroke="#ffffff" stroke-width="1" fill="none" opacity="0.22"/><path d="M387.0,483.4 Q396.2,487.5 405.4,480.9" stroke="#7d7d7d" stroke-width="1.1" fill="none" opacity="0.22"/><path d="M387.0,484.9 Q396.2,489.0 405.4,482.4" stroke="#ffffff" stroke-width="1" fill="none" opacity="0.22"/><path d="M387.0,493.4 Q396.2,497.5 405.4,490.9" stroke="#7d7d7d" stroke-width="1.1" fill="none" opacity="0.22"/><path d="M387.0,494.9 Q396.2,499.0 405.4,492.4" stroke="#ffffff" stroke-width="1" fill="none" opacity="0.22"/><path d="M387.0,503.4 Q396.2,507.5 405.4,500.9" stroke="#7d7d7d" stroke-width="1.1" fill="none" opacity="0.22"/><path d="M387.0,504.9 Q396.2,509.0 405.4,502.4" stroke="#ffffff" stroke-width="1" fill="none" opacity="0.22"/><path d="M387.0,513.3 Q396.2,517.4 405.4,510.8" stroke="#7d7d7d" stroke-width="1.1" fill="none" opacity="0.22"/><path d="M387.0,514.8 Q396.2,518.9 405.4,512.3" stroke="#ffffff" stroke-width="1" fill="none" opacity="0.22"/><path d="M387.0,523.3 Q396.2,527.4 405.4,520.8" stroke="#7d7d7d" stroke-width="1.1" fill="none" opacity="0.22"/><path d="M387.0,524.8 Q396.2,528.9 405.4,522.3" stroke="#ffffff" stroke-width="1" fill="none" opacity="0.22"/><ellipse cx="396.2" cy="442.0" rx="9.7" ry="4.1" fill="#b4b4b4" stroke="#9a9a9a" stroke-width="0.6"/><path d="M405.9,442.0 L405.9,531.8" stroke="#000" stroke-width="2.4" opacity="0.38"/><path d="M386.5,442.0 L386.5,531.8" stroke="#000" stroke-width="1.8" opacity="0.28"/><path d="M386.5,442.0 L386.5,531.8 A9.7,4.1 0 0 0 405.9,531.8 L405.9,442.0 A9.7,4.1 0 0 0 386.5,442.0 Z" fill="#000" opacity="0.03"/></g>
<g opacity="1.0"><path d="M367.3,451.0 L367.3,543.5 A9.9,4.1 0 0 0 387.1,543.5 L387.1,451.0 A9.9,4.1 0 0 0 367.3,451.0 Z" fill="url(#gSprR)" filter="url(#pocket)"/><path d="M367.8,462.8 Q377.2,466.9 386.6,460.3" stroke="#7d7d7d" stroke-width="1.1" fill="none" opacity="0.22"/><path d="M367.8,464.3 Q377.2,468.4 386.6,461.8" stroke="#ffffff" stroke-width="1" fill="none" opacity="0.22"/><path d="M367.8,473.1 Q377.2,477.2 386.6,470.6" stroke="#7d7d7d" stroke-width="1.1" fill="none" opacity="0.22"/><path d="M367.8,474.6 Q377.2,478.7 386.6,472.1" stroke="#ffffff" stroke-width="1" fill="none" opacity="0.22"/><path d="M367.8,483.3 Q377.2,487.5 386.6,480.8" stroke="#7d7d7d" stroke-width="1.1" fill="none" opacity="0.22"/><path d="M367.8,484.8 Q377.2,489.0 386.6,482.3" stroke="#ffffff" stroke-width="1" fill="none" opacity="0.22"/><path d="M367.8,493.6 Q377.2,497.8 386.6,491.1" stroke="#7d7d7d" stroke-width="1.1" fill="none" opacity="0.22"/><path d="M367.8,495.1 Q377.2,499.3 386.6,492.6" stroke="#ffffff" stroke-width="1" fill="none" opacity="0.22"/><path d="M367.8,503.9 Q377.2,508.0 386.6,501.4" stroke="#7d7d7d" stroke-width="1.1" fill="none" opacity="0.22"/><path d="M367.8,505.4 Q377.2,509.5 386.6,502.9" stroke="#ffffff" stroke-width="1" fill="none" opacity="0.22"/><path d="M367.8,514.2 Q377.2,518.3 386.6,511.7" stroke="#7d7d7d" stroke-width="1.1" fill="none" opacity="0.22"/><path d="M367.8,515.7 Q377.2,519.8 386.6,513.2" stroke="#ffffff" stroke-width="1" fill="none" opacity="0.22"/><path d="M367.8,524.4 Q377.2,528.6 386.6,521.9" stroke="#7d7d7d" stroke-width="1.1" fill="none" opacity="0.22"/><path d="M367.8,525.9 Q377.2,530.1 386.6,523.4" stroke="#ffffff" stroke-width="1" fill="none" opacity="0.22"/><path d="M367.8,534.7 Q377.2,538.9 386.6,532.2" stroke="#7d7d7d" stroke-width="1.1" fill="none" opacity="0.22"/><path d="M367.8,536.2 Q377.2,540.4 386.6,533.7" stroke="#ffffff" stroke-width="1" fill="none" opacity="0.22"/><ellipse cx="377.2" cy="451.0" rx="9.9" ry="4.1" fill="#b4b4b4" stroke="#9a9a9a" stroke-width="0.6"/><path d="M387.1,451.0 L387.1,543.5" stroke="#000" stroke-width="2.4" opacity="0.38"/><path d="M367.3,451.0 L367.3,543.5" stroke="#000" stroke-width="1.8" opacity="0.28"/><path d="M367.3,451.0 L367.3,543.5 A9.9,4.1 0 0 0 387.1,543.5 L387.1,451.0 A9.9,4.1 0 0 0 367.3,451.0 Z" fill="#000" opacity="0.02"/></g>
<g opacity="1.0"><path d="M346.8,459.7 L346.8,553.7 A10.0,4.2 0 0 0 366.8,553.7 L366.8,459.7 A10.0,4.2 0 0 0 346.8,459.7 Z" fill="url(#gSprR)" filter="url(#pocket)"/><path d="M347.3,471.6 Q356.8,475.8 366.3,469.1" stroke="#7d7d7d" stroke-width="1.1" fill="none" opacity="0.22"/><path d="M347.3,473.1 Q356.8,477.3 366.3,470.6" stroke="#ffffff" stroke-width="1" fill="none" opacity="0.22"/><path d="M347.3,482.1 Q356.8,486.3 366.3,479.6" stroke="#7d7d7d" stroke-width="1.1" fill="none" opacity="0.22"/><path d="M347.3,483.6 Q356.8,487.8 366.3,481.1" stroke="#ffffff" stroke-width="1" fill="none" opacity="0.22"/><path d="M347.3,492.5 Q356.8,496.7 366.3,490.0" stroke="#7d7d7d" stroke-width="1.1" fill="none" opacity="0.22"/><path d="M347.3,494.0 Q356.8,498.2 366.3,491.5" stroke="#ffffff" stroke-width="1" fill="none" opacity="0.22"/><path d="M347.3,503.0 Q356.8,507.2 366.3,500.5" stroke="#7d7d7d" stroke-width="1.1" fill="none" opacity="0.22"/><path d="M347.3,504.5 Q356.8,508.7 366.3,502.0" stroke="#ffffff" stroke-width="1" fill="none" opacity="0.22"/><path d="M347.3,513.4 Q356.8,517.6 366.3,510.9" stroke="#7d7d7d" stroke-width="1.1" fill="none" opacity="0.22"/><path d="M347.3,514.9 Q356.8,519.1 366.3,512.4" stroke="#ffffff" stroke-width="1" fill="none" opacity="0.22"/><path d="M347.3,523.9 Q356.8,528.1 366.3,521.4" stroke="#7d7d7d" stroke-width="1.1" fill="none" opacity="0.22"/><path d="M347.3,525.4 Q356.8,529.6 366.3,522.9" stroke="#ffffff" stroke-width="1" fill="none" opacity="0.22"/><path d="M347.3,534.3 Q356.8,538.5 366.3,531.8" stroke="#7d7d7d" stroke-width="1.1" fill="none" opacity="0.22"/><path d="M347.3,535.8 Q356.8,540.0 366.3,533.3" stroke="#ffffff" stroke-width="1" fill="none" opacity="0.22"/><path d="M347.3,544.8 Q356.8,549.0 366.3,542.3" stroke="#7d7d7d" stroke-width="1.1" fill="none" opacity="0.22"/><path d="M347.3,546.3 Q356.8,550.5 366.3,543.8" stroke="#ffffff" stroke-width="1" fill="none" opacity="0.22"/><ellipse cx="356.8" cy="459.7" rx="10.0" ry="4.2" fill="#b4b4b4" stroke="#9a9a9a" stroke-width="0.6"/><path d="M366.8,459.7 L366.8,553.7" stroke="#000" stroke-width="2.4" opacity="0.38"/><path d="M346.8,459.7 L346.8,553.7" stroke="#000" stroke-width="1.8" opacity="0.28"/><path d="M346.8,459.7 L346.8,553.7 A10.0,4.2 0 0 0 366.8,553.7 L366.8,459.7 A10.0,4.2 0 0 0 346.8,459.7 Z" fill="#000" opacity="0.01"/></g>
<g opacity="1.0"><path d="M325.4,473.7 L325.4,564.0 A11.0,4.6 0 0 0 347.4,564.0 L347.4,473.7 A11.0,4.6 0 0 0 325.4,473.7 Z" fill="url(#gSprL)" filter="url(#pocket)"/><path d="M325.9,485.2 Q336.4,489.9 346.9,482.7" stroke="#7d7d7d" stroke-width="1.1" fill="none" opacity="0.22"/><path d="M325.9,486.7 Q336.4,491.4 346.9,484.2" stroke="#ffffff" stroke-width="1" fill="none" opacity="0.22"/><path d="M325.9,495.3 Q336.4,499.9 346.9,492.8" stroke="#7d7d7d" stroke-width="1.1" fill="none" opacity="0.22"/><path d="M325.9,496.8 Q336.4,501.4 346.9,494.3" stroke="#ffffff" stroke-width="1" fill="none" opacity="0.22"/><path d="M325.9,505.3 Q336.4,509.9 346.9,502.8" stroke="#7d7d7d" stroke-width="1.1" fill="none" opacity="0.22"/><path d="M325.9,506.8 Q336.4,511.4 346.9,504.3" stroke="#ffffff" stroke-width="1" fill="none" opacity="0.22"/><path d="M325.9,515.3 Q336.4,520.0 346.9,512.8" stroke="#7d7d7d" stroke-width="1.1" fill="none" opacity="0.22"/><path d="M325.9,516.8 Q336.4,521.5 346.9,514.3" stroke="#ffffff" stroke-width="1" fill="none" opacity="0.22"/><path d="M325.9,525.4 Q336.4,530.0 346.9,522.9" stroke="#7d7d7d" stroke-width="1.1" fill="none" opacity="0.22"/><path d="M325.9,526.9 Q336.4,531.5 346.9,524.4" stroke="#ffffff" stroke-width="1" fill="none" opacity="0.22"/><path d="M325.9,535.4 Q336.4,540.0 346.9,532.9" stroke="#7d7d7d" stroke-width="1.1" fill="none" opacity="0.22"/><path d="M325.9,536.9 Q336.4,541.5 346.9,534.4" stroke="#ffffff" stroke-width="1" fill="none" opacity="0.22"/><path d="M325.9,545.4 Q336.4,550.1 346.9,542.9" stroke="#7d7d7d" stroke-width="1.1" fill="none" opacity="0.22"/><path d="M325.9,546.9 Q336.4,551.6 346.9,544.4" stroke="#ffffff" stroke-width="1" fill="none" opacity="0.22"/><path d="M325.9,555.5 Q336.4,560.1 346.9,553.0" stroke="#7d7d7d" stroke-width="1.1" fill="none" opacity="0.22"/><path d="M325.9,557.0 Q336.4,561.6 346.9,554.5" stroke="#ffffff" stroke-width="1" fill="none" opacity="0.22"/><ellipse cx="336.4" cy="473.7" rx="11.0" ry="4.6" fill="#b4b4b4" stroke="#9a9a9a" stroke-width="0.6"/><path d="M347.4,473.7 L347.4,564.0" stroke="#000" stroke-width="2.4" opacity="0.38"/><path d="M325.4,473.7 L325.4,564.0" stroke="#000" stroke-width="1.8" opacity="0.28"/></g>
<path d="M117.5,340.5 L353.0,453.0 L569.0,340.0 L569.0,341.5 L353.0,455.5 L117.5,342.0 Z" fill="#5e5e5e"/>
<path d="M117.5,340.5 L343.0,262.0 L569.0,340.0 L353.0,453.0 Z" fill="url(#gFeltU)" filter="url(#felt)"/>
<clipPath id="cs3"><path d="M117.5,340.5 L343.0,262.0 L569.0,340.0 L353.0,453.0 Z"/></clipPath>
<g clip-path="url(#cs3)"><path d="M113.5,283.0 L347.0,390.0 L576.5,285.0" transform="translate(-8,2)" fill="none" stroke="#000" stroke-width="30" stroke-linejoin="round" opacity="0.22" filter="url(#b8)"/></g>
<path d="M112.0,263.0 L343.0,188.0 L577.5,263.0 L347.0,367.0 Z" fill="url(#gYTop)"/>
<clipPath id="cs4"><path d="M112.0,263.0 L343.0,188.0 L577.5,263.0 L347.0,367.0 Z"/></clipPath>
<g clip-path="url(#cs4)"><path d="M100.0,180.0 L348.0,260.0 L590.0,180.0 L590.0,234.0 L348.0,330.0 L328.0,314.0 L100.0,220.0 Z" fill="#7d661c" opacity="0.55" filter="url(#b5)"/></g>
<path d="M112.0,263.0 L347.0,367.0 L347.0,390.0 L113.5,283.4 Z" fill="url(#gYL)"/>
<path d="M347.0,367.0 L577.5,263.0 L576.5,285.0 L347.0,390.0 Z" fill="#f1dc8d"/>
<path d="M112,263 L347,367 L577.5,263" fill="none" stroke="#f5e8a8" stroke-width="1" opacity="0.3"/>
<path d="M113.3,279.5 L347.0,385.0 L347.0,390.0 L113.5,283.4 Z" fill="#f4e294" opacity="0.75"/>
<path d="M347.0,385.0 L576.7,280.5 L576.5,285.0 L347.0,390.0 Z" fill="#f3e4a0" opacity="0.8"/>
<path d="M107.3,207 L108,211 Q109,213.5 113,215 L340,310.5 Q347,313.5 354,310.5 L576,220.5 Q580,218.5 580.5,214.5 L581,207.5 L347,299 Z" fill="url(#gOwRim)"/>
<path d="M347,299 L581,207.5 L580.5,214.5 Q580,218.5 576,220.5 L354,310.5 Q350.5,312.3 347,312.7 Z" fill="#ebebeb"/>
<path d="M107.3,208 Q107.3,204.5 112,203 L340,132 L577,203.5 Q583,206 580.5,211.5 L355,302.5 Q347,306 339,302.5 L111,211.5 Q107.3,210.5 107.3,208 Z" fill="url(#gOwTop)"/>
<clipPath id="cs5"><path d="M107.3,208 Q107.3,204.5 112,203 L340,132 L577,203.5 Q583,206 580.5,211.5 L355,302.5 Q347,306 339,302.5 L111,211.5 Q107.3,210.5 107.3,208 Z"/></clipPath>
<g clip-path="url(#cs5)"><path d="M100.0,120.0 L347.0,200.0 L590.0,120.0 L590.0,195.0 L347.0,285.0 L320.0,263.0 L100.0,173.0 Z" fill="#4e4c4a" opacity="0.62" filter="url(#b5)"/></g>
<clipPath id="cs6"><path d="M107.3,208 Q107.3,204.5 112,203 L340,132 L577,203.5 Q583,206 580.5,211.5 L355,302.5 Q347,306 339,302.5 L111,211.5 Q107.3,210.5 107.3,208 Z"/></clipPath>
<g clip-path="url(#cs6)"><path d="M108.0,161.0 L347.0,254.0 L585.0,162.0" transform="translate(0,1)" fill="none" stroke="#2c2a28" stroke-width="7" stroke-linejoin="round" opacity="0.45" filter="url(#b1)"/></g>
<clipPath id="cs7"><path d="M107.3,208 Q107.3,204.5 112,203 L340,132 L577,203.5 Q583,206 580.5,211.5 L355,302.5 Q347,306 339,302.5 L111,211.5 Q107.3,210.5 107.3,208 Z"/></clipPath>
<g clip-path="url(#cs7)"><path d="M108.0,211.5 L347.0,305.5 L581.0,211.0" transform="translate(0,0)" fill="none" stroke="#dcdcdc" stroke-width="6" stroke-linejoin="round" opacity="0.7" filter="url(#b3)"/></g>
<path d="M107.3,150 L108,158.5 Q109,161.5 113,163 L340,252 Q347,255 354,252 L580,165 Q584.5,163.3 585,159 L585.3,149 L347,238 Z" fill="url(#gCovL)"/>
<path d="M347,238 L585.3,149 L585,159 Q584.5,163.3 580,165 L354,252 Q350.5,253.8 347,254.2 Z" fill="#f1f1f1"/>
<path d="M108,159 Q109,161.5 113,163 L340,252 Q347,255 354,252 L580,165 Q584.5,163.3 585,159" fill="none" stroke="#dcdcdc" stroke-width="1.1" opacity="0.8"/>
<path d="M106.8,149 Q106.8,146.2 112,144.6 L336,79.3 Q343,77 350,79 L580,145.5 Q587.2,147.8 583,151.3 L354,237 Q347,240 340,237 L111,152.6 Q106.8,151.4 106.8,149 Z" fill="url(#gCov)"/>
<g clip-path="url(#cCover)" fill="none" stroke-linecap="round" filter="url(#b3)">
<path d="M102.5,161.5 C106.1,161.1 116.8,160.0 123.8,158.7 C130.7,157.5 137.5,156.1 144.1,154.1 C150.7,152.2 157.0,149.8 163.3,147.1 C169.5,144.4 175.5,141.3 181.5,138.1 C187.5,135.0 193.3,131.5 199.3,128.3 C205.3,125.1 211.2,121.9 217.4,119.1 C223.6,116.4 229.9,113.9 236.4,111.8 C243.0,109.8 249.7,108.2 256.6,106.9 C263.5,105.6 270.6,104.8 277.8,103.9 C284.9,103.1 292.2,102.6 299.3,101.8 C306.4,101.0 313.6,100.3 320.5,99.0 C327.5,97.8 334.3,96.3 340.9,94.4 C347.4,92.4 353.8,90.0 360.0,87.4 C366.3,84.7 375.2,79.9 378.3,78.4" stroke="#d4d4d4" stroke-width="8" opacity="0.42"/>
<path d="M102.5,161.5 C106.1,161.1 116.8,160.0 123.8,158.7 C130.7,157.5 137.5,156.1 144.1,154.1 C150.7,152.2 157.0,149.8 163.3,147.1 C169.5,144.4 175.5,141.3 181.5,138.1 C187.5,135.0 193.3,131.5 199.3,128.3 C205.3,125.1 211.2,121.9 217.4,119.1 C223.6,116.4 229.9,113.9 236.4,111.8 C243.0,109.8 249.7,108.2 256.6,106.9 C263.5,105.6 270.6,104.8 277.8,103.9 C284.9,103.1 292.2,102.6 299.3,101.8 C306.4,101.0 313.6,100.3 320.5,99.0 C327.5,97.8 334.3,96.3 340.9,94.4 C347.4,92.4 353.8,90.0 360.0,87.4 C366.3,84.7 375.2,79.9 378.3,78.4" stroke="#ffffff" stroke-width="7" opacity="0.8" transform="translate(3,10)"/>
<path d="M142.3,178.7 C145.7,178.0 156.2,176.2 162.9,174.3 C169.6,172.4 176.0,170.1 182.3,167.5 C188.6,164.9 194.6,161.8 200.7,158.6 C206.7,155.5 212.5,151.9 218.5,148.6 C224.4,145.3 230.3,141.9 236.4,138.9 C242.6,136.0 248.8,133.2 255.2,130.9 C261.7,128.6 268.4,126.8 275.2,125.2 C282.0,123.7 289.1,122.7 296.3,121.7 C303.4,120.7 310.7,120.1 317.9,119.2 C325.1,118.3 332.3,117.6 339.3,116.4 C346.3,115.2 353.3,113.8 359.9,112.0 C366.6,110.1 373.1,107.8 379.4,105.2 C385.6,102.6 391.7,99.4 397.7,96.3 C403.7,93.1 412.5,87.9 415.5,86.3" stroke="#d4d4d4" stroke-width="8" opacity="0.42"/>
<path d="M142.3,178.7 C145.7,178.0 156.2,176.2 162.9,174.3 C169.6,172.4 176.0,170.1 182.3,167.5 C188.6,164.9 194.6,161.8 200.7,158.6 C206.7,155.5 212.5,151.9 218.5,148.6 C224.4,145.3 230.3,141.9 236.4,138.9 C242.6,136.0 248.8,133.2 255.2,130.9 C261.7,128.6 268.4,126.8 275.2,125.2 C282.0,123.7 289.1,122.7 296.3,121.7 C303.4,120.7 310.7,120.1 317.9,119.2 C325.1,118.3 332.3,117.6 339.3,116.4 C346.3,115.2 353.3,113.8 359.9,112.0 C366.6,110.1 373.1,107.8 379.4,105.2 C385.6,102.6 391.7,99.4 397.7,96.3 C403.7,93.1 412.5,87.9 415.5,86.3" stroke="#ffffff" stroke-width="7" opacity="0.8" transform="translate(3,10)"/>
<path d="M181.6,194.9 C184.9,193.8 194.9,190.9 201.3,188.4 C207.6,185.8 213.7,182.7 219.8,179.6 C225.9,176.4 231.7,172.8 237.6,169.4 C243.6,166.1 249.4,162.5 255.4,159.3 C261.5,156.2 267.6,153.2 274.0,150.6 C280.4,148.1 287.0,146.0 293.8,144.2 C300.6,142.4 307.6,141.2 314.7,140.0 C321.8,138.8 329.1,138.1 336.4,137.2 C343.6,136.2 350.9,135.5 358.0,134.3 C365.1,133.1 372.1,131.8 378.9,130.0 C385.6,128.2 392.2,126.0 398.6,123.4 C404.9,120.9 411.0,117.8 417.1,114.6 C423.2,111.5 429.0,107.9 434.9,104.5 C440.9,101.1 449.8,96.1 452.7,94.4" stroke="#d4d4d4" stroke-width="8" opacity="0.42"/>
<path d="M181.6,194.9 C184.9,193.8 194.9,190.9 201.3,188.4 C207.6,185.8 213.7,182.7 219.8,179.6 C225.9,176.4 231.7,172.8 237.6,169.4 C243.6,166.1 249.4,162.5 255.4,159.3 C261.5,156.2 267.6,153.2 274.0,150.6 C280.4,148.1 287.0,146.0 293.8,144.2 C300.6,142.4 307.6,141.2 314.7,140.0 C321.8,138.8 329.1,138.1 336.4,137.2 C343.6,136.2 350.9,135.5 358.0,134.3 C365.1,133.1 372.1,131.8 378.9,130.0 C385.6,128.2 392.2,126.0 398.6,123.4 C404.9,120.9 411.0,117.8 417.1,114.6 C423.2,111.5 429.0,107.9 434.9,104.5 C440.9,101.1 449.8,96.1 452.7,94.4" stroke="#ffffff" stroke-width="7" opacity="0.8" transform="translate(3,10)"/>
<path d="M220.1,209.6 C223.3,208.2 232.8,204.1 238.9,201.0 C245.0,197.8 250.8,194.2 256.7,190.8 C262.7,187.3 268.4,183.6 274.5,180.3 C280.5,177.0 286.5,173.7 292.8,171.0 C299.1,168.2 305.6,165.8 312.3,163.8 C319.0,161.8 326.0,160.3 333.1,158.9 C340.2,157.6 347.5,156.7 354.8,155.6 C362.0,154.6 369.4,153.8 376.6,152.6 C383.7,151.4 390.9,150.2 397.7,148.4 C404.6,146.7 411.3,144.6 417.7,142.1 C424.2,139.6 430.3,136.6 436.4,133.5 C442.5,130.3 448.4,126.7 454.3,123.2 C460.2,119.8 466.0,116.1 472.0,112.8 C478.0,109.5 487.3,105.0 490.4,103.5" stroke="#d4d4d4" stroke-width="8" opacity="0.42"/>
<path d="M220.1,209.6 C223.3,208.2 232.8,204.1 238.9,201.0 C245.0,197.8 250.8,194.2 256.7,190.8 C262.7,187.3 268.4,183.6 274.5,180.3 C280.5,177.0 286.5,173.7 292.8,171.0 C299.1,168.2 305.6,165.8 312.3,163.8 C319.0,161.8 326.0,160.3 333.1,158.9 C340.2,157.6 347.5,156.7 354.8,155.6 C362.0,154.6 369.4,153.8 376.6,152.6 C383.7,151.4 390.9,150.2 397.7,148.4 C404.6,146.7 411.3,144.6 417.7,142.1 C424.2,139.6 430.3,136.6 436.4,133.5 C442.5,130.3 448.4,126.7 454.3,123.2 C460.2,119.8 466.0,116.1 472.0,112.8 C478.0,109.5 487.3,105.0 490.4,103.5" stroke="#ffffff" stroke-width="7" opacity="0.8" transform="translate(3,10)"/>
<path d="M257.9,222.8 C260.9,221.1 269.9,216.1 275.8,212.6 C281.8,209.1 287.5,205.3 293.5,201.8 C299.4,198.4 305.4,194.9 311.6,191.9 C317.9,188.9 324.2,186.3 330.9,184.0 C337.5,181.8 344.4,180.0 351.5,178.4 C358.5,176.9 365.8,175.8 373.1,174.6 C380.3,173.4 387.8,172.6 395.0,171.4 C402.2,170.2 409.5,169.0 416.4,167.3 C423.4,165.6 430.2,163.6 436.7,161.2 C443.3,158.7 449.6,155.8 455.7,152.7 C461.9,149.6 467.7,146.0 473.7,142.5 C479.6,139.0 485.3,135.2 491.3,131.7 C497.3,128.3 503.2,124.8 509.4,121.8 C515.7,118.8 525.5,115.2 528.7,113.9" stroke="#d4d4d4" stroke-width="8" opacity="0.42"/>
<path d="M257.9,222.8 C260.9,221.1 269.9,216.1 275.8,212.6 C281.8,209.1 287.5,205.3 293.5,201.8 C299.4,198.4 305.4,194.9 311.6,191.9 C317.9,188.9 324.2,186.3 330.9,184.0 C337.5,181.8 344.4,180.0 351.5,178.4 C358.5,176.9 365.8,175.8 373.1,174.6 C380.3,173.4 387.8,172.6 395.0,171.4 C402.2,170.2 409.5,169.0 416.4,167.3 C423.4,165.6 430.2,163.6 436.7,161.2 C443.3,158.7 449.6,155.8 455.7,152.7 C461.9,149.6 467.7,146.0 473.7,142.5 C479.6,139.0 485.3,135.2 491.3,131.7 C497.3,128.3 503.2,124.8 509.4,121.8 C515.7,118.8 525.5,115.2 528.7,113.9" stroke="#ffffff" stroke-width="7" opacity="0.8" transform="translate(3,10)"/>
<path d="M294.9,234.9 C297.8,233.1 306.6,227.5 312.5,223.9 C318.4,220.3 324.3,216.6 330.4,213.5 C336.6,210.3 342.9,207.3 349.4,204.8 C356.0,202.3 362.8,200.3 369.8,198.5 C376.8,196.7 384.1,195.5 391.3,194.2 C398.6,192.9 406.1,191.9 413.4,190.7 C420.6,189.4 428.0,188.2 435.0,186.6 C442.1,184.9 449.0,183.0 455.6,180.7 C462.3,178.3 468.7,175.5 474.9,172.4 C481.1,169.3 487.0,165.8 493.0,162.2 C498.9,158.7 504.7,154.8 510.6,151.2 C516.5,147.6 522.4,143.9 528.5,140.7 C534.7,137.6 541.0,134.6 547.5,132.1 C554.1,129.6 564.5,126.9 567.9,125.8" stroke="#d4d4d4" stroke-width="8" opacity="0.42"/>
<path d="M294.9,234.9 C297.8,233.1 306.6,227.5 312.5,223.9 C318.4,220.3 324.3,216.6 330.4,213.5 C336.6,210.3 342.9,207.3 349.4,204.8 C356.0,202.3 362.8,200.3 369.8,198.5 C376.8,196.7 384.1,195.5 391.3,194.2 C398.6,192.9 406.1,191.9 413.4,190.7 C420.6,189.4 428.0,188.2 435.0,186.6 C442.1,184.9 449.0,183.0 455.6,180.7 C462.3,178.3 468.7,175.5 474.9,172.4 C481.1,169.3 487.0,165.8 493.0,162.2 C498.9,158.7 504.7,154.8 510.6,151.2 C516.5,147.6 522.4,143.9 528.5,140.7 C534.7,137.6 541.0,134.6 547.5,132.1 C554.1,129.6 564.5,126.9 567.9,125.8" stroke="#ffffff" stroke-width="7" opacity="0.8" transform="translate(3,10)"/>
</g>
<path d="M111,152.6 L340,237 Q347,240 354,237 L583,151.3" fill="none" stroke="#ffffff" stroke-width="1.8" opacity="0.85"/>
<line x1="536.5" y1="155.3" x2="645.5" y2="155.3" stroke="#4781d8" stroke-width="1.5" stroke-dasharray="5.6,2.46"/>
<circle cx="532.0" cy="155.3" r="3.4" fill="#ffffff" stroke="#3b7ad6" stroke-width="1.4"/>
<circle cx="649.7" cy="155.3" r="4.1" fill="#1b66d4"/>
<line x1="536.5" y1="208.0" x2="645.5" y2="208.0" stroke="#4781d8" stroke-width="1.5" stroke-dasharray="5.6,2.46"/>
<circle cx="532.0" cy="208.0" r="3.4" fill="#ffffff" stroke="#3b7ad6" stroke-width="1.4"/>
<circle cx="649.7" cy="208.0" r="4.1" fill="#1b66d4"/>
<line x1="536.5" y1="274.9" x2="645.5" y2="274.9" stroke="#4781d8" stroke-width="1.5" stroke-dasharray="5.6,2.46"/>
<circle cx="532.0" cy="274.9" r="3.4" fill="#ffffff" stroke="#3b7ad6" stroke-width="1.4"/>
<circle cx="649.7" cy="274.9" r="4.1" fill="#1b66d4"/>
<line x1="536.5" y1="340.9" x2="645.5" y2="340.9" stroke="#4781d8" stroke-width="1.5" stroke-dasharray="5.6,2.46"/>
<circle cx="532.0" cy="340.9" r="3.4" fill="#ffffff" stroke="#3b7ad6" stroke-width="1.4"/>
<circle cx="649.7" cy="340.9" r="4.1" fill="#1b66d4"/>
<line x1="536.5" y1="387.7" x2="645.5" y2="387.7" stroke="#4781d8" stroke-width="1.5" stroke-dasharray="5.6,2.46"/>
<circle cx="532.0" cy="387.7" r="3.4" fill="#ffffff" stroke="#3b7ad6" stroke-width="1.4"/>
<circle cx="649.7" cy="387.7" r="4.1" fill="#1b66d4"/>
<line x1="556.0" y1="459.5" x2="645.5" y2="459.5" stroke="#4781d8" stroke-width="1.5" stroke-dasharray="5.6,2.46"/>
<circle cx="551.5" cy="459.5" r="3.4" fill="#ffffff" stroke="#3b7ad6" stroke-width="1.4"/>
<circle cx="649.7" cy="459.5" r="4.1" fill="#1b66d4"/>
<line x1="522.5" y1="507.6" x2="645.5" y2="507.6" stroke="#4781d8" stroke-width="1.5" stroke-dasharray="5.6,2.46"/>
<circle cx="518.0" cy="507.6" r="3.4" fill="#ffffff" stroke="#3b7ad6" stroke-width="1.4"/>
<circle cx="649.7" cy="507.6" r="4.1" fill="#1b66d4"/>
<line x1="505.1" y1="567.0" x2="645.5" y2="567.0" stroke="#4781d8" stroke-width="1.5" stroke-dasharray="5.6,2.46"/>
<circle cx="500.6" cy="567.0" r="3.4" fill="#ffffff" stroke="#3b7ad6" stroke-width="1.4"/>
<circle cx="649.7" cy="567.0" r="4.1" fill="#1b66d4"/>
<line x1="487.0" y1="604.0" x2="645.5" y2="604.0" stroke="#4781d8" stroke-width="1.5" stroke-dasharray="5.6,2.46"/>
<circle cx="482.5" cy="604.0" r="3.4" fill="#ffffff" stroke="#3b7ad6" stroke-width="1.4"/>
<circle cx="649.7" cy="604.0" r="4.1" fill="#1b66d4"/>
<text x="663.5" y="161.1" font-size="17.2"><tspan class="b" textLength="211" lengthAdjust="spacingAndGlyphs">Pokrowiec antyalergiczny</tspan></text>
<text x="663.5" y="213.6" font-size="17.2"><tspan class="b" textLength="54" lengthAdjust="spacingAndGlyphs">Owata</tspan></text>
<text x="722.5" y="213.6" font-size="17.2"><tspan class="l" textLength="83" lengthAdjust="spacingAndGlyphs">(150g / m²)</tspan></text>
<text x="663.5" y="279.9" font-size="17.2"><tspan class="b" textLength="195" lengthAdjust="spacingAndGlyphs">Pianka termoelastyczna</tspan></text>
<text x="663.5" y="298.6" font-size="17.2"><tspan class="l" textLength="144.5" lengthAdjust="spacingAndGlyphs">PerfectSuite (5 cm)</tspan></text>
<text x="663.5" y="347" font-size="17.2"><tspan class="b" textLength="130.5" lengthAdjust="spacingAndGlyphs">Podkład filcowy</tspan></text>
<text x="799.5" y="347" font-size="17.2"><tspan class="l" textLength="51.5" lengthAdjust="spacingAndGlyphs">(1 mm)</tspan></text>
<text x="663.5" y="393.7" font-size="17.2"><tspan class="b" textLength="183.5" lengthAdjust="spacingAndGlyphs">Formatka kieszeniowa</tspan></text>
<text x="663.5" y="412.6" font-size="17.2"><tspan class="l" textLength="145" lengthAdjust="spacingAndGlyphs">Multipocket 7 stref</tspan></text>
<text x="663.5" y="431.6" font-size="17.2"><tspan class="l" textLength="138" lengthAdjust="spacingAndGlyphs">(508 sprężyn / m²)</tspan></text>
<text x="663.5" y="466.3" font-size="17.2"><tspan class="b" textLength="130.5" lengthAdjust="spacingAndGlyphs">Podkład filcowy</tspan></text>
<text x="799.5" y="466.3" font-size="17.2"><tspan class="l" textLength="51.5" lengthAdjust="spacingAndGlyphs">(1 mm)</tspan></text>
<text x="663.5" y="513.4" font-size="17.2"><tspan class="b" textLength="195" lengthAdjust="spacingAndGlyphs">Pianka termoelastyczna</tspan></text>
<text x="663.5" y="532.8" font-size="17.2"><tspan class="l" textLength="144.5" lengthAdjust="spacingAndGlyphs">PerfectSuite (5 cm)</tspan></text>
<text x="663.5" y="573.4" font-size="17.2"><tspan class="b" textLength="54" lengthAdjust="spacingAndGlyphs">Owata</tspan></text>
<text x="722.5" y="573.4" font-size="17.2"><tspan class="l" textLength="83" lengthAdjust="spacingAndGlyphs">(150g / m²)</tspan></text>
<text x="663.5" y="610.6" font-size="17.2"><tspan class="b" textLength="211" lengthAdjust="spacingAndGlyphs">Pokrowiec antyalergiczny</tspan></text>
</svg></body></html>
